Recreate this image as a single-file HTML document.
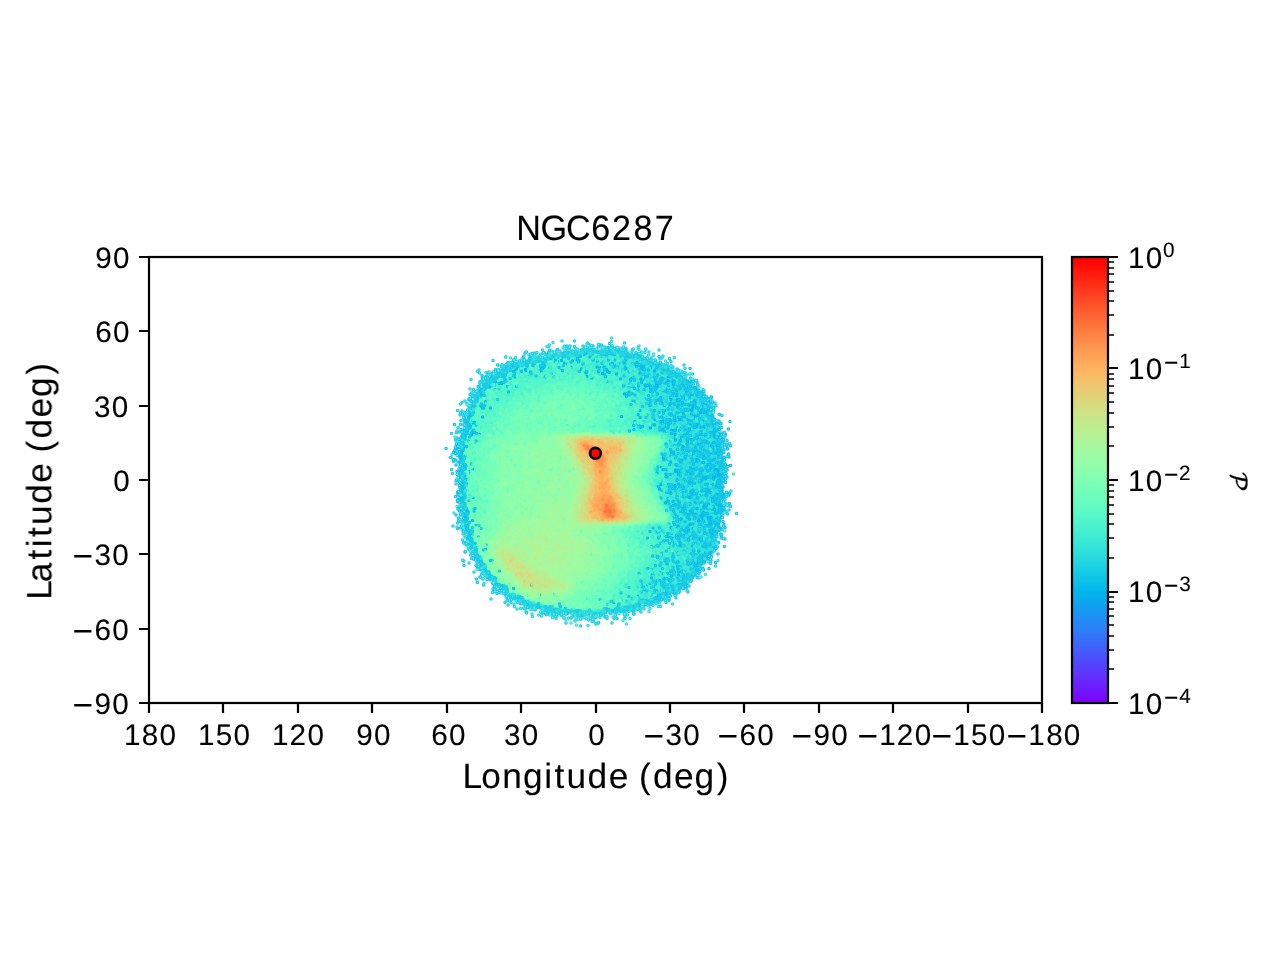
<!DOCTYPE html>
<html lang="en"><head><meta charset="utf-8"><title>NGC6287</title>
<style>
html,body{margin:0;padding:0;background:#fff;}
body{width:1280px;height:960px;overflow:hidden;}
svg{display:block;}
text{font-family:"Liberation Sans",sans-serif;fill:#000;text-rendering:geometricPrecision;stroke:#000;stroke-width:0.1px;}
</style></head><body>
<svg width="1280" height="960" viewBox="0 0 1280 960">
<rect width="1280" height="960" fill="#fff"/>
<defs><filter id="bl" x="-5%" y="-5%" width="110%" height="110%"><feGaussianBlur stdDeviation="1.3"/></filter></defs>
<g filter="url(#bl)"><g fill="none" stroke-width="3.6" transform="translate(0,1.5)">
<path stroke="#0dc2e8" d="M459 447h3M459 474h3M459 477h3M459 480h3M459 483h3M459 486h3M459 489h3M459 492h3M459 495h3M462 519h3M465 531h3M468 540h3M474 555h3M480 567h3M513 597h3M519 600h3M528 603h3M540 606h3M552 609h3M621 609h3M573 612h9M591 612h12"/>
<path stroke="#12c8e6" d="M546 354h3M531 357h3M645 357h3M654 360h3M666 366h3M672 369h3M498 372h3M486 381h3M687 381h3M483 384h3M690 384h3M480 387h3M693 387h3M696 390h3M699 393h3M474 396h3M702 396h3M471 402h3M468 411h3M711 414h3M711 417h3M465 420h3M714 426h3M714 429h3M462 432h3M717 438h3M459 450h3M459 453h3M459 456h3M459 459h3M459 462h3M459 465h3M459 468h3M459 471h3M720 513h3M462 516h3M717 525h3M717 528h3M714 534h3M714 537h3M471 546h3M477 561h3M702 561h3M483 570h3M696 570h3M693 573h3M690 576h3M687 579h3M684 582h3M681 585h3M504 591h3M672 591h3M663 597h3M654 600h6M645 603h6M633 606h6M555 609h3M618 609h3M582 612h9"/>
<path stroke="#18cde4" d="M564 351h9M624 351h6M549 354h3M636 354h3M534 357h3M642 357h3M522 360h3M651 360h3M516 363h3M657 363h6M510 366h3M504 369h3M669 369h3M675 372h3M495 375h3M678 375h3M681 378h3M684 381h3M687 384h3M477 393h3M705 402h3M471 405h3M708 408h3M708 411h3M711 420h3M465 423h3M714 432h3M462 435h3M717 441h3M717 444h3M717 447h3M717 450h3M717 453h3M720 468h3M720 471h3M720 474h3M720 477h3M720 480h3M720 483h3M720 486h3M720 489h3M720 492h3M720 495h3M720 498h3M720 501h3M720 504h3M720 507h3M720 510h3M462 513h3M717 519h3M717 522h3M465 528h3M714 531h3M468 537h3M711 543h3M708 549h3M474 552h3M705 555h3M699 564h3M696 567h3M486 573h3M489 576h3M492 579h3M495 582h3M498 585h3M678 585h3M501 588h3M675 588h3M510 594h3M666 594h3M660 597h3M522 600h3M531 603h3M642 603h3M543 606h3M630 606h3M558 609h3M615 609h3"/>
<path stroke="#1fd3e1" d="M573 351h6M621 351h3M552 354h3M633 354h3M537 357h3M639 357h3M525 360h3M648 360h3M663 366h3M501 372h3M672 372h3M492 378h3M690 387h3M693 390h3M696 393h3M699 396h3M474 399h3M702 399h3M705 405h3M468 414h3M708 414h3M711 423h3M711 426h3M714 435h3M462 438h3M714 438h3M717 456h3M717 459h3M717 462h3M717 465h3M717 468h3M462 510h3M717 513h3M717 516h3M714 528h3M711 540h3M708 546h3M705 552h3M702 558h3M693 570h3M690 573h3M687 576h3M684 579h3M681 582h3M669 591h3M516 597h3M651 600h3M639 603h3M627 606h3M612 609h3"/>
<path stroke="#24d8df" d="M579 351h6M618 351h3M555 354h3M630 354h3M540 357h3M645 360h3M654 363h3M660 366h3M507 369h3M666 369h3M675 375h3M678 378h3M489 381h3M681 381h3M684 384h3M480 390h3M702 402h3M705 408h3M708 417h3M465 426h3M711 429h3M714 441h3M714 444h3M714 447h3M714 450h3M717 471h3M717 474h3M717 477h3M717 480h3M717 483h3M717 486h3M717 504h3M462 507h3M717 507h3M717 510h3M465 525h3M714 525h3M711 537h3M471 543h3M477 558h3M699 561h3M480 564h3M672 588h3M663 594h3M657 597h3M648 600h3M534 603h3M546 606h3M561 609h3M609 609h3"/>
<path stroke="#2ddedc" d="M585 351h33M558 354h3M627 354h3M636 357h3M528 360h3M519 363h3M651 363h3M513 366h3M657 366h3M663 369h3M669 372h3M498 375h3M672 375h3M486 384h3M483 387h3M687 387h3M690 390h3M693 393h3M696 396h3M699 399h3M702 405h3M471 408h3M705 411h3M468 417h3M708 420h3M708 423h3M690 426h15M711 432h3M711 435h3M462 441h3M693 444h21M690 447h24M690 450h24M690 453h27M693 456h24M714 459h3M714 462h3M714 465h3M714 468h3M717 489h3M717 492h3M717 495h3M717 498h3M717 501h3M462 504h3M714 516h3M714 519h3M714 522h3M711 531h3M468 534h3M711 534h3M708 543h3M705 549h3M702 555h3M696 564h3M693 567h3M690 570h3M681 579h3M678 582h3M675 585h3M666 591h3M525 600h3M636 603h3M624 606h3M564 609h3"/>
<path stroke="#32e3da" d="M561 354h3M543 357h3M633 357h3M642 360h3M648 363h3M654 366h3M657 369h6M657 372h12M657 375h15M657 378h21M660 381h21M663 384h21M663 387h24M666 390h24M669 393h24M477 396h3M669 396h27M672 399h27M474 402h3M672 402h30M675 405h27M678 408h27M678 411h27M678 414h30M678 417h30M675 420h33M672 423h36M672 426h18M705 426h6M465 429h3M672 429h39M678 432h33M678 435h33M678 438h36M678 441h36M462 444h3M678 444h15M678 447h12M678 450h12M678 453h12M678 456h15M678 459h36M678 462h36M678 465h36M678 468h36M678 471h39M678 474h39M678 477h39M678 480h39M681 483h36M681 486h36M681 489h36M681 492h36M681 495h36M681 498h36M462 501h3M681 501h36M678 504h39M678 507h39M678 510h39M681 513h36M681 516h33M684 519h30M687 522h27M687 525h27M687 528h27M687 531h24M687 534h24M690 537h21M693 540h18M705 546h3M702 552h3M699 558h3M696 561h3M693 564h3M687 573h3M684 576h3M669 588h3M507 591h3M660 594h3M654 597h3M645 600h3M549 606h3M621 606h3M606 609h3"/>
<path stroke="#38e7d7" d="M564 354h3M624 354h3M546 357h3M630 357h3M531 360h3M630 360h12M630 363h18M633 366h21M633 369h24M504 372h3M636 372h21M639 375h18M495 378h3M642 378h15M645 381h15M648 384h15M651 387h12M651 390h15M654 393h15M657 396h12M660 399h12M660 402h12M663 405h12M663 408h15M666 411h12M666 414h12M666 417h12M468 420h3M663 420h12M660 423h12M660 426h12M663 429h9M669 432h9M672 435h6M672 438h6M672 441h6M672 444h6M672 447h6M672 450h6M672 453h6M672 456h6M672 459h6M672 462h6M672 465h6M672 468h6M672 471h6M672 474h6M672 477h6M672 480h6M672 483h9M672 486h9M672 489h9M672 492h9M672 495h9M462 498h3M672 498h9M672 501h9M672 504h6M672 507h6M672 510h6M675 513h6M675 516h6M678 519h6M465 522h3M678 522h9M675 525h12M675 528h12M675 531h12M675 534h12M678 537h12M678 540h15M681 543h27M681 546h24M474 549h3M681 549h24M678 552h24M678 555h24M678 558h21M675 561h21M675 564h18M483 567h3M672 567h21M672 570h18M669 573h18M669 576h15M669 579h12M666 582h12M666 585h9M666 588h3M663 591h3M657 594h3M651 597h3M642 600h3M537 603h3M633 603h3M567 609h3M603 609h3"/>
<path stroke="#3febd5" d="M567 354h3M618 354h6M549 357h3M612 357h18M606 360h24M522 363h3M609 363h21M516 366h3M615 366h18M510 369h3M618 369h15M624 372h12M627 375h12M630 378h12M633 381h12M636 384h12M639 387h12M642 390h9M645 393h9M648 396h9M651 399h9M651 402h9M654 405h9M654 408h9M471 411h3M657 411h9M657 414h9M654 417h12M651 420h12M648 423h12M648 426h12M654 429h9M465 432h3M666 432h3M669 435h3M669 438h3M669 441h3M669 444h3M462 447h3M666 447h6M666 450h6M666 453h6M666 456h6M666 459h6M666 462h6M666 465h6M666 468h6M666 471h6M666 474h6M666 477h6M666 480h6M666 483h6M666 486h6M666 489h6M666 492h6M462 495h3M666 495h6M666 498h6M666 501h6M669 504h3M669 507h3M672 513h3M675 519h3M675 522h3M669 525h6M666 528h9M666 531h9M666 534h9M669 537h9M672 540h6M672 543h9M672 546h9M672 549h9M669 552h9M669 555h9M666 558h12M666 561h9M666 564h9M663 567h9M660 570h12M660 573h9M657 576h12M657 579h12M654 582h12M651 585h15M651 588h15M648 591h15M513 594h3M648 594h9M519 597h3M648 597h3M618 606h3M570 609h3M600 609h3"/>
<path stroke="#44eed2" d="M570 354h3M600 354h18M552 357h3M597 357h15M534 360h3M591 360h15M591 363h18M594 366h21M600 369h18M609 372h15M615 375h12M621 378h9M492 381h3M624 381h9M627 384h9M630 387h9M633 390h9M480 393h3M636 393h9M639 396h9M642 399h9M645 402h6M474 405h3M645 405h9M648 408h6M648 411h9M648 414h9M645 417h9M642 420h9M639 423h9M639 426h9M645 429h9M663 432h3M666 444h3M462 450h3M663 450h3M663 453h3M663 456h3M663 459h3M663 462h3M663 465h3M663 468h3M663 471h3M663 474h3M462 477h3M663 477h3M663 480h3M663 483h3M663 486h3M663 489h3M462 492h3M663 492h3M663 495h3M663 498h3M666 504h3M669 510h3M672 516h3M465 519h3M672 522h3M660 525h9M660 528h6M468 531h3M657 531h9M657 534h9M660 537h9M471 540h3M663 540h9M663 543h9M663 546h9M663 549h9M663 552h6M477 555h3M663 555h6M660 558h6M660 561h6M657 564h9M654 567h9M486 570h3M654 570h6M651 573h9M648 576h9M648 579h9M645 582h9M642 585h9M504 588h3M639 588h12M639 591h9M636 594h12M636 597h12M639 600h3M630 603h3M552 606h3M573 609h3M597 609h3"/>
<path stroke="#4af2cf" d="M573 354h27M555 357h3M585 357h12M537 360h3M579 360h12M525 363h3M573 363h18M558 366h36M546 369h3M582 369h18M594 372h15M501 375h3M600 375h15M609 378h12M615 381h9M489 384h3M618 384h9M486 387h3M624 387h6M483 390h3M627 390h6M630 393h6M633 396h6M477 399h3M633 399h9M636 402h9M639 405h6M639 408h9M639 411h9M471 414h3M639 414h9M636 417h9M633 420h9M468 423h3M630 423h9M630 426h9M636 429h9M654 432h9M465 435h3M666 435h3M666 441h3M663 447h3M462 453h3M660 456h3M660 459h3M660 462h3M657 465h6M462 468h3M657 468h6M462 471h3M657 471h6M462 474h3M657 474h6M657 477h6M462 480h3M657 480h6M462 483h3M657 483h6M462 486h3M657 486h6M462 489h3M657 489h6M660 492h3M660 495h3M663 501h3M666 507h3M669 513h3M672 519h3M669 522h3M654 525h6M651 528h9M648 531h9M651 534h6M654 537h6M657 540h6M657 543h6M657 546h6M657 549h6M657 552h6M654 555h9M654 558h6M480 561h3M651 561h9M651 564h6M648 567h6M648 570h6M489 573h3M645 573h6M642 576h6M639 579h9M636 582h9M636 585h6M633 588h6M630 591h9M630 594h6M630 597h6M528 600h3M633 600h6M540 603h3M627 603h3M615 606h3M576 609h6M588 609h9"/>
<path stroke="#50f4cc" d="M558 357h27M540 360h6M549 360h30M528 363h3M537 363h36M519 366h3M531 366h27M513 369h3M525 369h21M549 369h33M507 372h3M519 372h75M516 375h45M582 375h18M498 378h3M513 378h30M594 378h15M507 381h24M603 381h12M504 384h18M609 384h9M501 387h15M615 387h9M501 390h9M618 390h9M498 393h6M621 393h9M624 396h9M627 399h6M627 402h9M630 405h9M630 408h9M630 411h9M630 414h9M627 417h9M624 420h9M618 423h12M621 426h9M627 429h9M648 432h6M666 438h3M663 444h3M660 453h3M462 456h3M462 459h3M657 459h3M462 462h3M657 462h3M462 465h3M654 468h3M654 471h3M654 474h3M654 477h3M654 480h3M654 483h3M654 486h3M657 492h3M660 498h3M663 504h3M666 510h3M465 516h3M666 522h3M648 525h6M645 528h6M642 531h6M642 534h9M645 537h9M648 540h9M651 543h6M474 546h3M651 546h6M651 549h6M651 552h6M648 555h6M648 558h6M645 561h6M645 564h6M642 567h6M642 570h6M639 573h6M492 576h3M636 576h6M633 579h6M630 582h6M501 585h3M630 585h6M627 588h6M624 591h6M624 594h6M624 597h6M624 600h9M624 603h3M582 609h6"/>
<path stroke="#56f7ca" d="M546 360h3M531 363h6M522 366h9M516 369h9M510 372h9M504 375h12M561 375h21M501 378h12M543 378h51M495 381h12M531 381h27M588 381h15M492 384h12M522 384h18M597 384h12M489 387h12M516 387h15M606 387h9M489 390h12M510 390h15M609 390h9M486 393h12M504 393h15M615 393h6M480 396h3M486 396h27M615 396h9M483 399h24M618 399h9M477 402h3M483 402h21M621 402h6M483 405h18M621 405h9M474 408h3M480 408h18M621 408h9M480 411h15M621 411h9M480 414h15M621 414h9M471 417h3M477 417h15M618 417h9M477 420h15M612 420h12M477 423h12M609 423h9M468 426h3M477 426h12M609 426h12M477 429h9M618 429h9M642 432h6M663 435h3M465 438h3M663 441h3M660 450h3M657 456h3M654 465h3M651 474h3M651 477h3M651 480h3M651 483h3M654 489h3M657 495h3M660 501h3M663 507h3M465 513h3M669 516h3M660 522h6M642 525h6M639 528h6M636 531h6M636 534h6M639 537h6M642 540h6M645 543h6M645 546h6M645 549h6M645 552h6M642 555h6M642 558h6M642 561h3M639 564h6M636 567h6M636 570h6M633 573h6M630 576h6M495 579h3M627 579h6M498 582h3M624 582h6M624 585h6M621 588h6M618 591h6M618 594h6M618 597h6M618 600h6M621 603h3M555 606h3M612 606h3"/>
<path stroke="#5df9c7" d="M558 381h30M540 384h21M585 384h12M531 387h12M594 387h12M486 390h3M525 390h9M603 390h6M483 393h3M519 393h9M606 393h9M483 396h3M513 396h9M609 396h6M480 399h3M507 399h9M612 399h6M480 402h3M504 402h9M612 402h9M477 405h6M501 405h6M615 405h6M477 408h3M498 408h6M615 408h6M474 411h6M495 411h6M615 411h6M474 414h6M495 414h6M615 414h6M474 417h3M492 417h6M612 417h6M471 420h6M492 420h6M606 420h6M471 423h6M489 423h6M603 423h6M471 426h6M489 426h6M603 426h6M468 429h9M486 429h6M612 429h6M468 432h21M636 432h6M474 435h9M660 447h3M657 453h3M654 462h3M651 471h3M648 480h3M651 486h3M654 492h3M657 498h3M465 510h3M666 513h3M669 519h3M657 522h3M639 525h3M468 528h3M633 528h6M630 531h6M630 534h6M471 537h3M633 537h6M636 540h6M639 543h6M639 546h6M639 549h6M639 552h6M639 555h3M639 558h3M636 561h6M636 564h3M633 567h3M630 570h6M627 573h6M627 576h3M624 579h3M621 582h3M618 585h6M615 588h6M612 591h6M612 594h6M522 597h3M612 597h6M531 600h3M612 600h6M543 603h3M612 603h9M609 606h3"/>
<path stroke="#62fbc4" d="M561 384h24M543 387h24M579 387h15M534 390h15M591 390h12M528 393h12M597 393h9M522 396h9M603 396h6M516 399h9M603 399h9M513 402h6M606 402h6M507 405h9M606 405h9M504 408h6M606 408h9M501 411h6M606 411h9M501 414h6M606 414h9M498 417h6M603 417h9M498 420h6M597 420h9M495 423h6M594 423h9M495 426h6M594 426h9M492 429h6M603 429h9M489 432h6M633 432h3M468 435h6M483 435h6M660 435h3M468 438h18M663 438h3M465 441h18M471 444h9M660 444h3M654 459h3M651 468h3M648 474h3M648 477h3M648 483h3M660 504h3M465 507h3M654 522h3M636 525h3M630 528h3M627 531h3M627 534h3M630 537h3M633 540h3M633 543h6M636 546h3M636 549h3M477 552h3M636 552h3M633 555h6M633 558h6M633 561h3M630 564h6M630 567h3M627 570h3M624 573h3M621 576h6M618 579h6M615 582h6M612 585h6M609 588h6M510 591h3M606 591h6M606 594h6M603 597h9M603 600h9M606 603h6M558 606h3M606 606h3"/>
<path stroke="#68fcc1" d="M567 387h12M549 390h42M540 393h15M585 393h12M531 396h12M591 396h12M525 399h12M594 399h9M519 402h12M597 402h9M516 405h9M597 405h9M510 408h9M600 408h6M507 411h9M600 411h6M507 414h6M597 414h9M504 417h6M594 417h9M504 420h6M588 420h9M501 423h6M585 423h9M501 426h6M585 426h9M498 429h6M594 429h9M495 432h3M630 432h3M489 435h6M657 435h3M486 438h6M483 441h6M465 444h6M480 444h6M465 447h21M465 450h18M657 450h3M465 453h18M465 456h18M654 456h3M465 459h18M465 462h18M465 465h18M651 465h3M465 468h18M465 471h15M648 471h3M465 474h15M465 477h15M465 480h15M465 483h15M465 486h15M465 489h15M651 489h3M465 492h15M465 495h15M654 495h3M465 498h15M465 501h15M657 501h3M465 504h15M468 507h12M468 510h12M663 510h3M468 513h12M648 522h6M468 525h3M630 525h6M624 528h6M621 531h6M621 534h6M624 537h6M627 540h6M630 543h3M630 546h6M630 549h6M630 552h6M630 555h3M630 558h3M627 561h6M483 564h3M627 564h3M624 567h6M621 570h6M618 573h6M618 576h3M615 579h3M612 582h3M606 585h6M603 588h6M600 591h6M516 594h3M597 594h9M594 597h9M594 600h9M597 603h9M561 606h3M597 606h9"/>
<path stroke="#6efebe" d="M555 393h30M543 396h48M537 399h15M582 399h12M531 402h12M585 402h12M525 405h12M588 405h9M519 408h12M588 408h12M516 411h9M588 411h12M513 414h9M588 414h9M510 417h9M582 417h12M510 420h9M573 420h15M507 423h12M561 423h24M507 426h9M567 426h18M504 429h6M582 429h12M498 432h6M624 432h6M495 435h6M651 435h6M492 438h6M489 441h6M660 441h3M486 444h6M486 447h3M657 447h3M483 450h6M483 453h6M483 456h6M483 459h6M483 462h3M651 462h3M483 465h3M483 468h3M648 468h3M480 471h6M480 474h6M480 477h6M645 477h3M480 480h6M645 480h3M480 483h6M480 486h6M648 486h3M480 489h6M480 492h6M651 492h3M480 495h6M480 498h6M480 501h6M480 504h6M480 507h6M660 507h3M480 510h6M480 513h6M468 516h18M666 516h3M468 519h15M666 519h3M468 522h3M474 522h3M645 522h3M627 525h3M621 528h3M618 531h3M471 534h3M618 534h3M618 537h6M621 540h6M474 543h3M624 543h6M624 546h6M624 549h6M624 552h6M624 555h6M480 558h3M624 558h6M624 561h3M621 564h6M618 567h6M618 570h3M615 573h3M612 576h6M609 579h6M606 582h6M600 585h6M597 588h6M591 591h9M588 594h9M585 597h9M534 600h3M582 600h12M546 603h3M585 603h12M564 606h3M585 606h12"/>
<path stroke="#74feba" d="M552 399h30M543 402h42M537 405h51M531 408h57M525 411h63M522 414h66M519 417h63M519 420h54M519 423h42M516 426h51M510 429h72M504 432h9M621 432h3M501 435h6M648 435h3M498 438h3M660 438h3M495 441h3M492 444h6M489 447h6M489 450h6M489 453h6M654 453h3M489 456h3M489 459h3M651 459h3M486 462h6M486 465h6M648 465h3M486 468h6M486 471h6M645 471h3M486 474h6M645 474h3M486 477h6M486 480h6M486 483h6M645 483h3M486 486h6M486 489h6M648 489h3M486 492h6M486 495h6M651 495h3M486 498h6M654 498h3M486 501h6M486 504h6M657 504h3M486 507h6M486 510h6M486 513h6M663 513h3M486 516h3M483 519h6M663 519h3M471 522h3M477 522h9M642 522h3M471 525h15M624 525h3M471 528h12M618 528h3M612 531h6M612 534h6M615 537h3M618 540h3M618 543h6M621 546h3M621 549h3M618 552h6M618 555h6M618 558h6M618 561h6M615 564h6M486 567h3M615 567h3M612 570h6M609 573h6M606 576h6M603 579h6M600 582h6M594 585h6M507 588h3M588 588h9M582 591h9M579 594h9M525 597h3M576 597h9M570 600h12M549 603h3M561 603h24M567 606h18"/>
<path stroke="#7affb7" d="M513 432h36M615 432h6M507 435h15M645 435h3M501 438h9M498 441h6M498 444h3M657 444h3M495 447h6M495 450h3M654 450h3M495 453h3M492 456h6M651 456h3M492 459h6M492 462h6M648 462h3M492 465h6M492 468h6M645 468h3M492 471h6M492 474h3M642 474h3M492 477h3M642 477h3M492 480h3M642 480h3M492 483h3M642 483h3M492 486h3M645 486h3M492 489h3M492 492h3M648 492h3M492 495h3M492 498h3M492 501h3M654 501h3M492 504h3M492 507h3M492 510h3M660 510h3M492 513h3M489 516h6M489 519h6M657 519h6M486 522h6M639 522h3M486 525h6M618 525h6M483 528h6M612 528h6M471 531h18M609 531h3M474 534h12M606 534h6M474 537h12M609 537h6M474 540h9M612 540h6M477 543h3M615 543h3M615 546h6M477 549h3M615 549h6M615 552h3M615 555h3M612 558h6M612 561h6M612 564h3M609 567h6M606 570h6M603 573h6M600 576h6M597 579h6M591 582h9M585 585h9M579 588h9M576 591h6M573 594h6M567 597h9M537 600h3M555 600h15M552 603h9"/>
<path stroke="#82ffb3" d="M549 432h12M603 432h12M522 435h21M639 435h6M510 438h27M657 438h3M504 441h15M657 441h3M501 444h9M654 444h3M501 447h6M654 447h3M498 450h9M651 450h3M498 453h6M651 453h3M498 456h6M648 456h3M498 459h6M648 459h3M498 462h6M645 462h3M498 465h6M645 465h3M498 468h6M498 471h6M642 471h3M495 474h9M495 477h9M639 477h3M495 480h6M639 480h3M495 483h6M495 486h6M642 486h3M495 489h6M645 489h3M495 492h6M495 495h6M648 495h3M495 498h6M651 498h3M495 501h6M495 504h6M654 504h3M495 507h6M657 507h3M495 510h6M495 513h6M660 513h3M495 516h6M663 516h3M495 519h3M654 519h3M492 522h6M492 525h3M615 525h3M489 528h6M606 528h6M489 531h3M603 531h6M486 534h6M603 534h3M486 537h3M606 537h3M483 540h6M606 540h6M480 543h6M609 543h6M477 546h9M609 546h6M480 549h6M609 549h6M480 552h6M609 552h6M480 555h6M609 555h6M609 558h3M483 561h3M606 561h6M606 564h6M603 567h6M489 570h3M600 570h6M492 573h3M597 573h6M594 576h6M588 579h9M582 582h9M504 585h3M579 585h6M576 588h3M513 591h3M573 591h3M519 594h3M570 594h3M528 597h3M555 597h12M540 600h15"/>
<path stroke="#88ffaf" d="M561 432h12M588 432h15M543 435h9M636 435h3M537 438h9M651 438h6M519 441h30M651 441h6M510 444h27M651 444h3M507 447h24M648 447h6M507 450h21M648 450h3M504 453h24M645 453h6M504 456h21M645 456h3M504 459h21M645 459h3M504 462h21M642 462h3M504 465h21M642 465h3M504 468h21M639 468h6M504 471h18M639 471h3M504 474h18M636 474h6M504 477h18M636 477h3M501 480h21M636 480h3M501 483h18M636 483h6M501 486h18M639 486h3M501 489h15M642 489h3M501 492h15M642 492h6M501 495h12M645 495h3M501 498h9M648 498h3M501 501h9M648 501h6M501 504h9M651 504h3M501 507h6M651 507h6M501 510h6M654 510h6M501 513h6M657 513h3M501 516h3M657 516h6M498 519h6M651 519h3M498 522h3M636 522h3M495 525h6M612 525h3M495 528h3M600 528h6M492 531h6M597 531h6M492 534h3M597 534h6M489 537h3M600 537h6M489 540h3M603 540h3M486 543h3M603 543h6M486 546h3M606 546h3M486 549h3M603 549h6M486 552h3M603 552h6M486 555h3M603 555h6M483 558h6M603 558h6M486 561h6M600 561h6M486 564h6M600 564h6M489 567h3M597 567h6M492 570h3M594 570h6M591 573h6M495 576h3M585 576h9M498 579h3M579 579h9M501 582h3M579 582h3M507 585h3M576 585h3M510 588h3M516 591h6M522 594h6M564 594h6M531 597h24"/>
<path stroke="#8efeac" d="M573 432h15M552 435h3M546 438h6M648 438h3M549 441h3M648 441h3M537 444h18M645 444h6M531 447h24M645 447h3M528 450h30M645 450h3M528 453h30M642 453h3M525 456h33M642 456h3M525 459h30M639 459h6M525 462h30M639 462h3M525 465h27M639 465h3M525 468h24M636 468h3M522 471h27M636 471h3M522 474h24M633 474h3M522 477h24M633 477h3M522 480h21M633 480h3M519 483h24M633 483h3M519 486h21M636 486h3M516 489h21M639 489h3M516 492h21M639 492h3M513 495h21M642 495h3M510 498h21M642 498h6M510 501h18M645 501h3M510 504h18M648 504h3M507 507h18M648 507h3M507 510h15M651 510h3M507 513h9M651 513h6M504 516h9M654 516h3M504 519h6M648 519h3M501 522h6M633 522h3M501 525h3M600 525h12M498 528h6M591 528h9M498 531h3M591 531h6M495 534h3M591 534h6M492 537h3M594 537h6M597 540h6M489 543h3M600 543h3M489 546h3M600 546h6M489 549h3M600 549h3M489 552h3M597 552h6M489 555h3M597 555h6M489 558h3M597 558h6M492 561h3M594 561h6M492 564h3M594 564h6M492 567h6M591 567h6M495 570h3M588 570h6M495 573h6M582 573h9M498 576h6M579 576h6M501 579h6M576 579h3M504 582h6M576 582h3M510 585h6M573 585h3M513 588h6M573 588h3M522 591h3M570 591h3M528 594h6M552 594h12"/>
<path stroke="#94fda8" d="M555 435h6M633 435h3M552 438h3M645 438h3M552 441h6M645 441h3M555 444h3M642 444h3M555 447h6M642 447h3M558 450h3M642 450h3M558 453h6M639 453h3M558 456h6M639 456h3M555 459h12M636 459h3M555 462h12M636 462h3M552 465h18M636 465h3M549 468h21M633 468h3M549 471h24M633 471h3M546 474h27M630 474h3M546 477h30M630 477h3M543 480h33M630 480h3M543 483h33M540 486h36M633 486h3M537 489h36M636 489h3M537 492h36M636 492h3M534 495h24M639 495h3M531 498h21M639 498h3M528 501h21M642 501h3M528 504h15M645 504h3M525 507h15M645 507h3M522 510h15M648 510h3M516 513h18M648 513h3M513 516h15M651 516h3M510 519h12M645 519h3M507 522h6M630 522h3M504 525h6M591 525h9M504 528h6M585 528h6M501 531h6M582 531h9M498 534h6M585 534h6M495 537h3M588 537h6M492 540h3M591 540h6M492 543h3M594 543h6M594 546h6M594 549h6M591 552h6M492 555h3M591 555h6M492 558h3M588 558h9M588 561h6M495 564h3M585 564h9M498 567h3M582 567h9M498 570h3M579 570h9M501 573h3M573 573h9M504 576h3M573 576h6M507 579h3M573 579h3M510 582h3M573 582h3M516 585h3M519 588h3M570 588h3M525 591h3M567 591h3M534 594h6M543 594h9"/>
<path stroke="#9bfba5" d="M630 435h3M555 438h3M639 438h6M558 441h3M639 441h6M558 444h3M639 444h3M639 447h3M561 450h3M639 450h3M636 453h3M564 456h3M636 456h3M633 459h3M567 462h3M633 462h3M570 465h3M633 465h3M570 468h3M630 468h3M573 471h3M630 471h3M573 474h3M576 477h3M627 477h3M576 480h3M627 480h3M630 483h3M630 486h3M573 489h3M633 489h3M573 492h3M633 492h3M558 495h15M636 495h3M552 498h21M636 498h3M549 501h24M639 501h3M543 504h27M639 504h6M540 507h30M642 507h3M537 510h33M645 510h3M534 513h18M645 513h3M528 516h15M648 516h3M522 519h15M642 519h3M513 522h18M624 522h6M510 525h15M579 525h12M510 528h9M573 528h12M507 531h9M573 531h9M504 534h9M573 534h12M498 537h9M579 537h9M495 540h3M585 540h6M585 543h9M492 546h3M585 546h9M492 549h3M585 549h9M492 552h3M585 552h6M582 555h9M582 558h6M495 561h3M579 561h9M498 564h3M576 564h9M570 567h12M501 570h3M567 570h12M504 573h3M567 573h6M507 576h3M567 576h6M510 579h3M570 579h3M513 582h3M570 582h3M570 585h3M522 588h3M567 588h3M528 591h3M561 591h6M540 594h3"/>
<path stroke="#a0faa1" d="M561 435h3M627 435h3M558 438h3M636 438h3M636 441h3M561 444h3M636 444h3M561 447h3M636 447h3M636 450h3M564 453h3M633 453h3M633 456h3M567 459h3M570 462h3M630 462h3M630 465h3M573 468h3M627 471h3M576 474h3M627 474h3M576 483h3M627 483h3M576 486h3M630 489h3M573 495h3M633 495h3M636 501h3M570 504h3M570 507h3M639 507h3M642 510h3M552 513h18M642 513h3M543 516h27M645 516h3M537 519h30M639 519h3M531 522h39M621 522h3M525 525h54M519 528h54M516 531h21M552 531h21M513 534h12M558 534h15M507 537h12M567 537h12M498 540h18M573 540h12M495 543h3M576 543h9M579 546h6M576 549h9M576 552h9M495 555h3M573 555h9M495 558h3M570 558h12M567 561h12M561 564h15M501 567h3M555 567h15M504 570h3M555 570h12M507 573h3M561 573h6M510 576h3M564 576h3M513 579h3M567 579h3M516 582h3M567 582h3M519 585h3M567 585h3M531 591h3M546 591h15"/>
<path stroke="#a6f89d" d="M564 435h3M561 441h3M564 447h3M633 447h3M564 450h3M633 450h3M567 456h3M630 456h3M570 459h3M630 459h3M573 465h3M627 465h3M627 468h3M576 471h3M624 474h3M579 477h3M624 477h3M579 480h3M624 480h3M579 483h3M627 486h3M576 489h3M576 492h3M630 492h3M573 498h3M633 498h3M573 501h3M636 504h3M636 507h3M570 510h3M639 510h3M639 513h3M642 516h3M567 519h3M570 522h6M618 522h3M537 531h15M525 534h33M519 537h48M516 540h12M555 540h18M498 543h3M504 543h21M561 543h15M495 546h3M516 546h6M564 546h15M495 549h3M564 549h12M495 552h3M561 552h15M558 555h15M555 558h15M498 561h3M549 561h18M501 564h3M543 564h18M546 567h9M549 570h6M552 573h9M561 576h3M564 579h3M525 588h3M564 588h3M534 591h3M543 591h3"/>
<path stroke="#acf59a" d="M567 435h3M624 435h3M561 438h3M633 438h3M633 441h3M564 444h3M633 444h3M567 453h3M630 453h3M627 459h3M573 462h3M627 462h3M576 468h3M624 471h3M579 474h3M624 483h3M579 486h3M627 489h3M576 495h3M630 495h3M576 498h3M633 501h3M573 504h3M633 504h3M573 507h3M636 510h3M570 513h3M570 516h3M639 516h3M570 519h3M636 519h3M576 522h6M615 522h3M528 540h27M501 543h3M525 543h36M498 546h3M507 546h9M522 546h42M513 549h51M519 552h42M522 555h36M498 558h3M525 558h30M531 561h18M534 564h9M504 567h3M537 567h9M507 570h3M543 570h6M510 573h3M549 573h3M513 576h3M555 576h6M516 579h3M561 579h3M519 582h3M564 582h3M522 585h3M564 585h3M546 588h18M537 591h6"/>
<path stroke="#b2f396" d="M570 435h3M621 435h3M564 438h3M564 441h3M630 444h3M567 447h3M630 447h3M567 450h3M630 450h3M570 456h3M627 456h3M573 459h3M576 465h3M624 465h3M624 468h3M579 471h3M582 477h3M621 477h3M582 480h3M621 480h3M624 486h3M579 489h3M579 492h3M627 492h3M630 498h3M576 501h3M630 501h3M633 507h3M573 510h3M573 513h3M636 513h3M573 519h3M582 522h33M501 546h6M498 549h3M510 549h3M498 552h3M513 552h6M498 555h3M519 555h3M522 558h3M501 561h3M525 561h6M504 564h3M528 564h6M534 567h3M537 570h6M543 573h6M549 576h6M558 579h3M561 582h3M561 585h3M528 588h3M543 588h3"/>
<path stroke="#b9ef92" d="M573 435h3M615 435h6M630 438h3M630 441h3M567 444h3M570 453h3M627 453h3M576 462h3M624 462h3M579 468h3M621 471h3M582 474h3M621 474h3M582 483h3M621 483h3M582 486h3M624 489h3M579 495h3M627 495h3M579 498h3M576 504h3M630 504h3M576 507h3M633 510h3M573 516h3M636 516h3M633 519h3M501 549h9M510 552h3M516 555h3M501 558h3M519 558h3M522 561h3M525 564h3M507 567h3M531 567h3M510 570h3M534 570h3M513 573h3M540 573h3M516 576h3M546 576h3M519 579h3M552 579h6M522 582h3M558 582h3M525 585h3M546 585h15M531 588h3M540 588h3"/>
<path stroke="#beec8e" d="M576 435h3M591 435h24M567 438h3M567 441h3M627 444h3M627 447h3M570 450h3M627 450h3M573 456h3M624 456h3M624 459h3M579 465h3M621 465h3M621 468h3M582 471h3M618 477h3M585 480h3M618 480h3M621 486h3M582 489h3M582 492h3M624 492h3M627 498h3M579 501h3M630 507h3M576 510h3M576 513h3M633 513h3M576 519h3M630 519h3M501 552h9M501 555h3M513 555h3M516 558h3M504 561h3M519 561h3M507 564h3M522 564h3M510 567h3M525 567h6M513 570h3M531 570h3M516 573h3M534 573h6M540 576h6M546 579h6M546 582h12M540 585h6M534 588h6"/>
<path stroke="#c4e88a" d="M579 435h12M627 438h3M627 441h3M570 444h3M570 447h3M573 453h3M624 453h3M576 459h3M621 459h3M579 462h3M621 462h3M582 468h3M618 471h3M618 474h3M585 477h3M585 483h3M618 483h3M585 486h3M621 489h3M582 495h3M624 495h3M582 498h3M627 501h3M579 504h3M627 504h3M579 507h3M579 510h3M630 510h3M576 516h3M633 516h3M579 519h3M504 555h9M504 558h3M513 558h3M507 561h3M516 561h3M519 564h3M522 567h3M528 570h3M531 573h3M519 576h3M537 576h3M522 579h3M540 579h6M525 582h3M540 582h6M528 585h3M537 585h3"/>
<path stroke="#cbe486" d="M570 438h3M624 438h3M570 441h3M624 441h3M624 444h3M624 450h3M576 456h3M621 456h3M579 459h3M582 465h3M618 465h3M618 468h3M585 471h3M585 474h3M615 477h3M615 480h3M618 486h3M585 489h3M585 492h3M621 492h3M624 498h3M582 501h3M624 501h3M582 504h3M627 507h3M579 513h3M630 513h3M579 516h3M582 519h3M627 519h3M507 558h6M510 561h6M510 564h9M513 567h9M516 570h12M519 573h12M522 576h15M525 579h3M534 579h6M528 582h3M534 582h6M531 585h6"/>
<path stroke="#d0e082" d="M573 444h3M573 447h3M624 447h3M573 450h3M618 459h3M582 462h3M618 462h3M585 468h3M615 468h3M615 471h3M615 474h3M588 477h3M588 480h3M588 483h3M615 483h3M588 486h3M618 489h3M585 495h3M621 495h3M624 504h3M582 507h3M582 510h3M627 510h3M630 516h3M585 519h3M624 519h3M528 579h6M531 582h3"/>
<path stroke="#d9da7d" d="M573 438h3M621 438h3M573 441h3M621 441h3M621 444h3M576 453h3M621 453h3M579 456h3M618 456h3M582 459h3M615 462h3M585 465h3M615 465h3M588 474h3M612 477h3M612 480h3M615 486h3M588 489h3M618 492h3M585 498h3M621 498h3M585 501h3M624 507h3M582 513h3M627 513h3M582 516h3M627 516h3M588 519h6M621 519h3"/>
<path stroke="#ded579" d="M618 438h3M621 447h3M576 450h3M621 450h3M615 459h3M585 462h3M612 465h3M612 468h3M588 471h3M612 471h3M612 474h3M591 480h3M612 483h3M615 489h3M588 492h3M618 495h3M621 501h3M585 504h3M585 507h3M585 510h3M624 510h3M585 513h3M585 516h3M594 519h6M618 519h3"/>
<path stroke="#e4cf74" d="M576 438h3M594 438h24M615 441h6M618 444h3M576 447h3M579 453h3M618 453h3M582 456h3M615 456h3M585 459h3M612 459h3M612 462h3M588 465h3M588 468h3M591 477h3M591 483h3M591 486h3M612 486h3M591 489h3M615 492h3M588 495h3M588 498h3M618 498h3M621 504h3M588 513h3M624 513h3M588 516h3M624 516h3M600 519h3M615 519h3"/>
<path stroke="#ebca70" d="M588 438h6M576 441h3M594 441h21M576 444h3M615 444h3M618 447h3M579 450h3M618 450h3M582 453h3M615 453h3M585 456h3M612 456h3M609 459h3M588 462h3M609 462h3M609 465h3M609 468h3M591 471h3M609 471h3M591 474h3M609 474h3M609 477h3M609 480h3M612 489h3M591 492h3M615 495h3M588 501h3M618 501h3M588 504h3M588 507h3M621 507h3M588 510h3M621 510h3M591 516h3M603 519h3M612 519h3"/>
<path stroke="#f0c46c" d="M579 438h9M591 441h3M597 444h18M615 447h3M615 450h3M612 453h3M609 456h3M588 459h3M591 468h3M594 477h3M594 480h3M594 483h3M609 483h3M594 486h3M609 486h3M594 489h3M612 492h3M591 495h3M615 498h3M618 504h3M591 510h3M591 513h3M621 513h3M594 516h3M621 516h3M606 519h6"/>
<path stroke="#f6be68" d="M594 444h3M579 447h3M603 447h12M582 450h3M585 453h3M606 453h6M588 456h3M606 456h3M606 459h3M591 462h3M606 462h3M591 465h3M606 465h3M606 468h3M606 471h3M594 474h3M606 474h3M606 477h3M606 480h3M609 489h3M594 492h3M612 495h3M591 498h3M591 507h3M618 507h3M594 513h3M597 516h3M618 516h3"/>
<path stroke="#fcb763" d="M579 441h3M588 441h3M597 447h6M603 450h12M588 453h3M591 459h3M594 468h3M594 471h3M597 477h3M597 480h3M597 483h3M606 483h3M597 486h3M606 486h3M597 489h3M609 492h3M594 495h3M591 501h3M615 501h3M591 504h3M594 510h3M618 510h3M597 513h3M618 513h3"/>
<path stroke="#ffb05f" d="M579 444h3M591 444h3M594 447h3M585 450h3M603 453h3M591 456h3M594 465h3M597 471h3M603 471h3M597 474h3M603 474h3M600 477h6M600 480h6M600 483h6M600 486h6M600 489h9M597 492h3M606 492h3M597 495h3M609 495h3M594 498h3M612 498h3M615 504h3M594 507h3M597 510h3M600 516h3M615 516h3"/>
<path stroke="#ffa95b" d="M582 441h6M594 450h9M591 453h3M603 456h3M594 459h3M594 462h3M597 468h3M603 468h3M600 471h3M600 474h3M600 492h6M600 495h9M597 498h3M594 501h3M612 501h3M594 504h3M597 507h3M615 507h3"/>
<path stroke="#ffa256" d="M582 447h3M591 447h3M588 450h6M594 453h3M594 456h3M603 459h3M603 462h3M597 465h3M603 465h3M600 468h3M600 498h12M597 501h6M597 504h3M600 510h3M615 510h3M600 513h3M615 513h3M603 516h3M612 516h3"/>
<path stroke="#ff9b52" d="M588 444h3M600 453h3M597 462h3M600 465h3M603 501h3M609 501h3M600 504h3M612 504h3M600 507h3M606 516h6"/>
<path stroke="#ff934d" d="M582 444h3M588 447h3M597 453h3M597 459h3M600 462h3M606 501h3M603 504h3M612 507h3M612 510h3M603 513h3M612 513h3"/>
<path stroke="#ff8c49" d="M585 444h3M585 447h3M597 456h6M600 459h3M606 504h6M603 507h3M603 510h3"/>
<path stroke="#ff8444" d="M606 507h6M606 510h6M606 513h6"/>
</g></g>
<g fill="none" stroke-linecap="round" stroke-width="6.6" transform="scale(0.5)" opacity="0.85">
<path stroke="#0dc2e8" d="M1351 748h0m83 146h0m0-3h0m-75 281h0"/>
<path stroke="#12c8e6" d="M1225 704h0m107 33h0m50 87h0m7 25h0m49 78h0m-14 9h0m-29 54h0m28 37h0m-19 9h0m32 4h0m-10 41h0m-55 67h0m-17 27h0m-37 22h0"/>
<path stroke="#18cde4" d="M1225 703h0m88 26h0m32 56h0m51 6h0m-62 18h0m5 31h0m51 16h0m7 72h0m36 16h0m-138 252h0m-9 11h0"/>
<path stroke="#1fd3e1" d="M1236 704h0m-104 5h0m19-1h0m114 13h0m45 20h0m30 4h0m-354 16h0m346 40h0m24-4h0m7-4h0m37 7h0m1-6h0m3 14h0m-52 37h0m58 2h0m8 6h0m-50 17h0m43 20h0m15 0h0m8 9h0m-32 4h0m7-2h0m-30 22h0m44-6h0m5 5h0m-60 4h0m66 1h0m-510 15h0m462-6h0m13 5h0m-41 15h0m19-1h0m37 7h0m25-1h0m-15 81h0m-29 9h0m25 0h0m11-3h0m-497 8h0m412 55h0m51 4h0m-45 1h0m17 46h0m-233 59h0"/>
<path stroke="#24d8df" d="M1088 717h0m165-6h0m22 4h0m38 14h0m-17 16h0m51 7h0m4 3h0m8 6h0m7 5h0m-59 6h0m37-2h0m7 30h0m32-1h0m-70 11h0m46 4h0m4-10h0m3 4h0m23 3h0m1-7h0m24 13h0m2 9h0m-82 9h0m22 2h0m8 2h0m42-2h0m-94 5h0m51 9h0m7-3h0m47 3h0m-28 5h0m10 5h0m-38 9h0m22-5h0m34-1h0m-59 13h0m13 10h0m11 0h0m6-7h0m16 0h0m-33 17h0m29-2h0m18 2h0m9-4h0m-54 12h0m13-3h0m24 1h0m-40 13h0m6-2h0m24-2h0m-28 21h0m6 0h0m21-5h0m7-3h0m9-1h0m12 5h0m4 2h0m-43 14h0m31-2h0m9-4h0m7-2h0m1 8h0m-69 4h0m6 10h0m25-7h0m11-3h0m-17 17h0m-34 13h0m7-5h0m29 2h0m5-2h0m17 1h0m7 4h0m-78 13h0m39-5h0m4 1h0m19 7h0m0 0h0m18-4h0m-58 13h0m14-2h0m16-2h0m31 3h0m12-1h0m-82 17h0m26-2h0m26-1h0m4 3h0m-40 9h0m3 1h0m18-8h0m41 21h0m-45 12h0m21 1h0m17-11h0m-79 16h0m37 4h0m23 15h0m-57 15h0m-13 45h0m-369 1h0m384 0h0m34 3h0m-60 15h0m16 4h0m17-8h0m4 8h0m-21 17h0m-66 18h0m0 12h0"/>
<path stroke="#2ddedc" d="M1257 713h0m-201 12h0m181 6h0m25-10h0m8 6h0m34 1h0m1 0h0m-14 7h0m27 6h0m4-2h0m1 4h0m1 11h0m20-6h0m-39 13h0m4 4h0m13-3h0m36 3h0m-388 14h0m356-2h0m42 0h0m-42 13h0m19-10h0m22 11h0m-11 8h0m19-3h0m28 0h0m-76 14h0m51 5h0m21-4h0m1 1h0m-15 9h0m4 1h0m17 4h0m8 1h0m-60 4h0m3 3h0m6-1h0m12-2h0m21 8h0m-47 7h0m13 2h0m38-2h0m-47 15h0m10-2h0m37-1h0m-61 26h0m8-6h0m28 6h0m12-5h0m8 6h0m4-7h0m1 6h0m20-4h0m-51 18h0m8-1h0m54-3h0m-63 17h0m2-6h0m7 3h0m16-8h0m42 9h0m1-5h0m-80 12h0m17 4h0m1-2h0m26 4h0m37-1h0m-57 7h0m4 6h0m7-3h0m3 9h0m7 7h0m27-4h0m-503 9h0m437-3h0m10 2h0m12-3h0m12 1h0m26-1h0m-48 22h0m0-6h0m14 1h0m15-5h0m4 14h0m17 5h0m-498 11h0m431-1h0m7 5h0m7 1h0m3-11h0m16 5h0m21 2h0m25-2h0m-63 11h0m3-4h0m14 9h0m25 2h0m0-1h0m-487 3h0m418 4h0m9 1h0m7 1h0m59 4h0m3-2h0m-71 6h0m43 5h0m13-4h0m2 2h0m8-6h0m6 10h0m-49 10h0m27-7h0m5 7h0m1-1h0m-32 12h0m-60 13h0m39-5h0m2 0h0m17-2h0m8 1h0m11 6h0m15 1h0m2 0h0m17-7h0m-63 10h0m1 6h0m35 5h0m-24 10h0m28-6h0m0 5h0m17-7h0m-38 13h0m10 2h0m7 0h0m9 4h0m2 1h0m-57 9h0m22 11h0m5 3h0m2 0h0m-17 5h0m-394 15h0m356-4h0m41 1h0m-112 17h0m52 8h0m32-2h0m12 11h0m-46 23h0m-183 21h0m116-2h0m19-5h0"/>
<path stroke="#32e3da" d="M1148 707h0m-44 9h0m35-7h0m48 0h0m4 3h0m47 2h0m26 0h0m-196 6h0m149 1h0m38 3h0m7 2h0m6-1h0m18 4h0m3-5h0m-18 16h0m11 0h0m42-3h0m2 1h0m0 2h0m-321 11h0m245 0h0m60 0h0m24-3h0m-94 9h0m12 1h0m3 4h0m61 5h0m12-7h0m10-1h0m-48 16h0m52-1h0m1-3h0m4 5h0m-10 11h0m21-1h0m-48 14h0m8 3h0m21-9h0m6 2h0m21 4h0m22 0h0m-438 8h0m0 5h0m364-3h0m44-3h0m25-2h0m1 1h0m6 3h0m13-2h0m5 4h0m-115 13h0m41-3h0m15-4h0m1 8h0m17-5h0m14 0h0m21 0h0m-460 9h0m396 1h0m10 5h0m-48 13h0m32 2h0m34-9h0m14 9h0m3-8h0m28 9h0m8-10h0m-61 22h0m25-9h0m8 1h0m6 5h0m1 1h0m18-8h0m-50 12h0m29 7h0m5-1h0m-62 11h0m16-5h0m6-1h0m54 2h0m9 6h0m-67 13h0m8-4h0m28-5h0m28 5h0m-53 7h0m51 0h0m3 7h0m4-4h0m8 8h0m4-2h0m-80 6h0m13 6h0m11 0h0m8-2h0m4-7h0m-9 15h0m16 1h0m10 0h0m20 5h0m-504 9h0m419 2h0m14-4h0m4 7h0m30-5h0m28-6h0m0 7h0m-67 10h0m26-3h0m31 3h0m13-1h0m9 2h0m-55 15h0m38-6h0m-67 19h0m24-1h0m5-3h0m0 1h0m0 4h0m4-2h0m7-3h0m9-6h0m9 4h0m5-4h0m10 8h0m-26 5h0m14 10h0m-32 4h0m1 5h0m20-3h0m19 4h0m19 1h0m-100 6h0m1 2h0m25-3h0m5-3h0m4 6h0m15 5h0m16-4h0m17 3h0m-37 12h0m6-8h0m39 8h0m8-2h0m-84 14h0m17 1h0m10-1h0m33-10h0m12 11h0m-77 1h0m26 6h0m11-1h0m16 3h0m6-6h0m-65 13h0m36 7h0m13-8h0m18 5h0m3-7h0m20 0h0m-85 21h0m-26 10h0m100-7h0m-83 16h0m5 5h0m44-5h0m-3 10h0m-72 14h0m11 6h0m13-4h0m27 9h0m3 3h0m21 4h0m-39 11h0m18-2h0m-54 13h0m36-6h0m21 2h0m-58 13h0m44-5h0m-44 19h0m-244 22h0m35 10h0m170-3h0"/>
<path stroke="#38e7d7" d="M1112 716h0m7-1h0m130-3h0m-204 17h0m24-6h0m6 0h0m13 5h0m156-6h0m26 3h0m19 0h0m3 1h0m-263 9h0m1 1h0m224-1h0m19 6h0m17-6h0m-293 20h0m260-2h0m53 2h0m15-4h0m16-1h0m-325 7h0m226 2h0m10 8h0m23-9h0m26 6h0m32-8h0m5 6h0m-93 13h0m81 2h0m1-4h0m13-3h0m-46 11h0m32 6h0m30 1h0m-82 4h0m16 0h0m3 7h0m103 0h0m-122 7h0m9 1h0m7 6h0m19-4h0m26-1h0m1 0h0m21-2h0m39 5h0m-43 11h0m13 3h0m16-4h0m25-2h0m-128 17h0m76-6h0m40-1h0m-99 15h0m6-1h0m8 6h0m6-9h0m19 10h0m39-10h0m4 9h0m0-2h0m13 0h0m1 2h0m-96 5h0m2 3h0m30-1h0m28 7h0m6-7h0m8 2h0m22 2h0m3 1h0m3-9h0m24 10h0m-489 11h0m399-8h0m2 6h0m56-6h0m22 5h0m-39 13h0m46 1h0m1-2h0m12 5h0m-92 21h0m22-8h0m8 0h0m30 2h0m-65 15h0m17-2h0m14 0h0m7 3h0m1-5h0m26 2h0m4-1h0m1-2h0m-80 20h0m0-2h0m13-4h0m19 7h0m9 12h0m15 0h0m-32 7h0m59 3h0m8 2h0m9-3h0m-56 13h0m35-2h0m20 3h0m-86 9h0m23 2h0m12-7h0m2 6h0m1 2h0m12-3h0m5-1h0m31 3h0m-88 15h0m20-3h0m43-6h0m-63 21h0m2-3h0m1 4h0m4-11h0m21 4h0m34 6h0m12-1h0m-47 11h0m20-4h0m8 7h0m-14 12h0m45-8h0m-53 13h0m2 7h0m2-6h0m54-2h0m-69 14h0m7 3h0m26-7h0m10 9h0m27-2h0m-108 8h0m7 0h0m40 0h0m22 4h0m14 2h0m3-7h0m-59 17h0m9 2h0m11-8h0m16 7h0m14-1h0m26-2h0m-101 10h0m6 1h0m29-3h0m0 1h0m2 8h0m1-3h0m58 2h0m-70 4h0m-9 10h0m46 0h0m18 6h0m-67 16h0m22-9h0m3 1h0m-70 18h0m17 0h0m25 2h0m-361 2h0m378 0h0m26 4h0m-387 15h0m314 3h0m4-5h0m3-1h0m10-1h0m48-1h0m-92 10h0m57 5h0m6 5h0m9-10h0m6 7h0m-69 8h0m35 4h0m3 1h0m0-2h0m8-5h0m-76 14h0m8 7h0m29-9h0m0 9h0m4 3h0m-119 22h0m24 0h0m25-5h0"/>
<path stroke="#3febd5" d="M1183 707h0m-45 2h0m23 2h0m25-2h0m13 4h0m50 4h0m3-7h0m-191 13h0m46 8h0m92 0h0m58-4h0m1-6h0m13 0h0m-182 17h0m1-2h0m25-3h0m49 9h0m57-7h0m8 3h0m43-2h0m9-3h0m3 10h0m7 0h0m8-6h0m18 6h0m-312 9h0m33 1h0m29-3h0m130-4h0m32 2h0m20-3h0m9 1h0m59-1h0m-107 12h0m38 4h0m9-1h0m32 6h0m28-5h0m22 2h0m29 1h0m-115 4h0m49 1h0m11-1h0m8 11h0m4-6h0m-356 8h0m60 2h0m250 7h0m6-4h0m85-1h0m-106 8h0m25 5h0m7-2h0m8 1h0m40-1h0m2-2h0m30 8h0m8-2h0m-77 9h0m12-5h0m4 8h0m12 2h0m2 1h0m22 0h0m23-4h0m10-5h0m-94 16h0m8-1h0m29 1h0m49 2h0m22-2h0m-124 12h0m3-1h0m30 5h0m10 0h0m3-3h0m0 0h0m13 1h0m5-5h0m8 6h0m-419 12h0m384-2h0m2 0h0m-39 12h0m2 4h0m21-6h0m12-1h0m13 3h0m25-2h0m16 1h0m9 0h0m-53 6h0m44 2h0m30 7h0m-16 3h0m16 11h0m16-10h0m-70 21h0m20-10h0m14 5h0m42-5h0m7 5h0m-31 15h0m19-7h0m10 2h0m-87 17h0m3-3h0m19-4h0m39 6h0m-79 6h0m28 2h0m-13 14h0m3 2h0m74-6h0m-87 17h0m14 2h0m72-4h0m12 3h0m-74 13h0m13 2h0m16 0h0m14-9h0m26 10h0m-107 5h0m1 6h0m20-5h0m31 2h0m-52 9h0m20 3h0m3 2h0m16-3h0m14-6h0m54 10h0m7-2h0m-89 12h0m6 1h0m13-8h0m56 8h0m1 0h0m0-5h0m18 3h0m-51 12h0m7 23h0m-37 12h0m13-5h0m51 2h0m-131 20h0m45-9h0m4 4h0m8-4h0m27 4h0m25 2h0m19-7h0m2 3h0m0 3h0m-110 5h0m9 7h0m24 4h0m73-8h0m-48 18h0m32-2h0m-72 11h0m12 1h0m24 1h0m17-6h0m28 0h0m9 1h0m-88 20h0m1-11h0m14 10h0m6-8h0m35-1h0m8 6h0m-53 6h0m-9 20h0m15-2h0m8 1h0m26 2h0m3 1h0m-77 5h0m41 4h0m8-3h0m6 2h0m16 1h0m-86 8h0m3-1h0m20-2h0m48 10h0m-38 5h0m-291 24h0m234 2h0m35 0h0m4 4h0m0-1h0m2-4h0m8 0h0m1-5h0m-28 13h0m-103 19h0"/>
<path stroke="#44eed2" d="M1124 715h0m9-2h0m8 0h0m30 2h0m57 1h0m9-6h0m38 8h0m-211 12h0m35-1h0m19 0h0m29-5h0m67 5h0m5-4h0m16 1h0m13 1h0m1-5h0m11 7h0m-172 14h0m12-5h0m100-5h0m7 4h0m57 6h0m4-8h0m-88 13h0m33-3h0m96 7h0m-293 5h0m35 6h0m2-2h0m42 2h0m24-7h0m19 0h0m93 0h0m2 6h0m15 4h0m3-7h0m36-3h0m7 10h0m55 0h0m-374 9h0m46-5h0m8 3h0m206-1h0m10-1h0m47 0h0m-308 9h0m14 5h0m62-3h0m170 2h0m51-1h0m1-3h0m12 4h0m-332 14h0m26 1h0m240-6h0m36-1h0m58 10h0m17-1h0m-57 10h0m23 0h0m13 1h0m60-8h0m-429 21h0m35-5h0m307-2h0m34 8h0m10-10h0m38 5h0m-93 16h0m35 1h0m39-4h0m-382 10h0m11-2h0m7 2h0m260 0h0m14 1h0m3 1h0m7-2h0m10 6h0m6-4h0m36-5h0m68 0h0m-172 21h0m57-10h0m38 1h0m17 0h0m14 5h0m8 1h0m-423 11h0m378-3h0m14 8h0m0-7h0m39 9h0m44 2h0m-76 20h0m1-6h0m4 5h0m41 11h0m-52 5h0m6 6h0m7-6h0m14 3h0m-18 11h0m-14 16h0m22-1h0m2-5h0m5-1h0m84 8h0m-112 12h0m11 2h0m8 0h0m-27 11h0m2-7h0m112 4h0m-48 9h0m20 1h0m-472 18h0m419-5h0m-21 13h0m0-5h0m8 4h0m11 5h0m13-8h0m17 1h0m-40 10h0m5 2h0m5 1h0m8-3h0m52 7h0m-68 5h0m16 1h0m16-2h0m52 7h0m-489 6h0m418 8h0m-416 9h0m377-2h0m27 2h0m11-7h0m-74 17h0m32 0h0m41-1h0m5 4h0m-75 11h0m35 2h0m1-6h0m3 8h0m10-9h0m68 2h0m-446 23h0m392 6h0m29-8h0m7 2h0m17 5h0m-63 8h0m22 2h0m42 0h0m-52 11h0m13-5h0m33 1h0m-42 12h0m32 5h0m-88 12h0m12-4h0m14 4h0m18-5h0m9 9h0m17-5h0m-89 15h0m2 3h0m17 0h0m10 0h0m1-4h0m1-1h0m8-5h0m27-1h0m-84 13h0m59 9h0m37-9h0m-316 30h0m9 2h0m215-9h0m9 8h0m7-1h0m34-6h0m12 0h0m-59 14h0m2 5h0m5-7h0m15 5h0m19-6h0m-67 14h0"/>
<path stroke="#4af2cf" d="M1131 714h0m6-2h0m5-1h0m5 1h0m7 5h0m58-4h0m2 1h0m-152 12h0m30-6h0m23 4h0m13 3h0m17 3h0m1-1h0m7-1h0m78 3h0m-206 11h0m5-3h0m26-4h0m11 7h0m35-4h0m45 3h0m23-1h0m64-1h0m69-2h0m-245 11h0m10-3h0m10 1h0m71 0h0m42 9h0m20-7h0m44 1h0m4-5h0m68 6h0m-343 15h0m56 1h0m31-10h0m14 10h0m6-6h0m69 0h0m15-2h0m84 8h0m7-4h0m-277 7h0m34 9h0m4-5h0m15 3h0m4 1h0m4-1h0m11-6h0m46 2h0m87-3h0m25 2h0m17 2h0m11 4h0m1 1h0m11-8h0m6 7h0m54 2h0m-317 3h0m3 4h0m10 4h0m12-6h0m155 0h0m60 0h0m5 3h0m17-3h0m4-4h0m-269 21h0m284-4h0m9-3h0m2 6h0m4-3h0m12 6h0m-349 3h0m291 3h0m7 1h0m5-4h0m102 8h0m-404 13h0m12-9h0m219 4h0m51 0h0m29 2h0m12 3h0m2-11h0m1 10h0m3-1h0m9 0h0m58-3h0m-386 9h0m251 0h0m31-1h0m8 1h0m12-2h0m30 0h0m18 0h0m-330 18h0m238-3h0m21 1h0m38 6h0m22-9h0m-124 12h0m90-2h0m21 0h0m4 1h0m-63 11h0m23 0h0m63 7h0m21 2h0m36 0h0m-451 24h0m411-5h0m16 30h0m-40 13h0m14-11h0m-403 29h0m375 4h0m110 10h0m-101 10h0m20 1h0m12 11h0m-9 10h0m29 6h0m-13 10h0m-20 5h0m4 0h0m10 20h0m-51 14h0m23 0h0m11-1h0m15-5h0m-41 18h0m13-2h0m2-7h0m12 1h0m18 4h0m-59 16h0m1-9h0m3 9h0m1 0h0m10-10h0m18 8h0m3-4h0m13 7h0m-51 8h0m7-6h0m4 2h0m12 8h0m3-10h0m2 8h0m22-1h0m-55 5h0m63 2h0m-40 12h0m45 7h0m-15 5h0m4 8h0m-21 7h0m37 0h0m-69 10h0m14 5h0m9-3h0m18 0h0m26 0h0m14-2h0m-87 17h0m43-2h0m1-7h0m23 10h0m-48 11h0m19 0h0m5-3h0m23-6h0m-136 22h0m11-3h0m11-6h0m39 13h0m1 9h0m17-1h0m-52 7h0m-82 17h0m13-1h0m29-4h0m42-3h0m8 0h0"/>
<path stroke="#50f4cc" d="M1119 717h0m15 2h0m42-10h0m13 9h0m14-1h0m-128 10h0m21-4h0m15 4h0m51 4h0m8-7h0m-148 19h0m39-10h0m12 0h0m15 3h0m11 3h0m5-3h0m32 3h0m2 2h0m10-6h0m9 7h0m19-9h0m33 2h0m9 7h0m70-6h0m-250 16h0m16 1h0m15 0h0m29-6h0m30 6h0m16-9h0m14 4h0m18-2h0m46 2h0m16 0h0m86 1h0m-307 13h0m79-3h0m18 3h0m42-2h0m42-4h0m2 9h0m14-2h0m5-4h0m-183 18h0m36-1h0m16-5h0m14 8h0m12-4h0m40-6h0m54 8h0m4-1h0m1-1h0m4 4h0m41-1h0m-287 8h0m1 3h0m4-4h0m23-4h0m29 8h0m31-6h0m20 1h0m186 7h0m3-1h0m22-1h0m-304 9h0m5-3h0m3-1h0m41 0h0m196-1h0m2 5h0m13-1h0m1-5h0m-255 14h0m12 4h0m230 1h0m7 1h0m2-6h0m19 0h0m46 4h0m-356 8h0m21 1h0m3 4h0m8-4h0m27-3h0m52 4h0m231 3h0m46 2h0m-350 5h0m11 2h0m266 5h0m22-1h0m3-3h0m-343 17h0m4-8h0m12 1h0m2 0h0m253 7h0m26-5h0m30 1h0m19 3h0m-360 3h0m24 6h0m32 0h0m283 4h0m14-1h0m1-6h0m12 6h0m-363 11h0m11 1h0m339-7h0m34 0h0m-389 12h0m403 4h0m-396 17h0m429-10h0m-429 14h0m373 18h0m-4 10h0m1 4h0m19-7h0m34 8h0m-53 21h0m11-4h0m-19 14h0m22-5h0m1 5h0m5-2h0m38 9h0m-56 13h0m28 48h0m2 1h0m3 4h0m-47 11h0m18-2h0m2 2h0m25-4h0m-48 20h0m37-1h0m0-8h0m4-2h0m-85 14h0m12 3h0m22 5h0m2-8h0m3 8h0m18 0h0m8-6h0m11-2h0m21 7h0m-49 9h0m0-1h0m5 6h0m44 0h0m21-3h0m-64 6h0m8 6h0m4-2h0m32 11h0m6-4h0m-52 13h0m8 0h0m-342 17h0m309 4h0m2-1h0m7-3h0m-28 16h0m23-6h0m-27 11h0m48 2h0m10-5h0m-71 12h0m10-1h0m7 6h0m4-2h0m72 2h0m-76 8h0m6 7h0m46-7h0m-82 12h0m31 9h0m9-1h0m16-2h0m13-2h0m13-2h0m-250 11h0m155 4h0m32-6h0m15 4h0m4 1h0"/>
<path stroke="#56f7ca" d="M1165 715h0m20-4h0m-98 16h0m12-3h0m2 0h0m24 4h0m43-2h0m2 4h0m39-4h0m10 1h0m31-7h0m-197 21h0m4-8h0m11 9h0m48 0h0m95 1h0m-182 2h0m4 6h0m19 1h0m1-5h0m25-2h0m19 3h0m30-2h0m16 2h0m25 2h0m2-3h0m39 0h0m11 0h0m9 4h0m-232 10h0m4-2h0m7 3h0m29-3h0m1 3h0m13 5h0m13-2h0m16-2h0m8-5h0m39 8h0m1-8h0m4 0h0m16 5h0m8-3h0m88 4h0m-203 4h0m3 9h0m18 1h0m2-2h0m0 0h0m35 1h0m14-8h0m19 4h0m22-2h0m15-1h0m28 9h0m2-5h0m8-2h0m10 2h0m25-4h0m2 3h0m20 5h0m8-6h0m-275 16h0m14 2h0m24-7h0m5 3h0m16-3h0m5 7h0m82 0h0m29-5h0m24-5h0m72 6h0m21 0h0m-280 8h0m5 7h0m9-1h0m0 1h0m214-2h0m1 3h0m89-3h0m-359 16h0m8-3h0m11-1h0m3 3h0m56-2h0m203-5h0m-287 13h0m15-3h0m41 5h0m212-2h0m6 1h0m12-1h0m5 7h0m34-1h0m3 0h0m-343 13h0m16-4h0m4 2h0m256-4h0m31 2h0m26 2h0m-325 14h0m7-8h0m115 1h0m57 7h0m124-4h0m15 2h0m-329 3h0m0 7h0m47-7h0m190 1h0m46 7h0m25 2h0m10 1h0m39-9h0m-345 18h0m14 2h0m311-7h0m72 5h0m-22 8h0m-387 14h0m377 2h0m-385 21h0m12 7h0m12 5h0m360-2h0m-9 9h0m-7 17h0m23-3h0m-395 16h0m370-4h0m-373 20h0m381-6h0m14 2h0m-1 30h0m2 4h0m13 18h0m3 13h0m1 5h0m-60 8h0m5 4h0m2 4h0m45-2h0m27-5h0m-90 18h0m23-3h0m18-1h0m17 5h0m16-1h0m-398 11h0m1 0h0m336 2h0m11-6h0m11 3h0m23-2h0m-50 9h0m11 7h0m9-1h0m2-1h0m25 2h0m13-2h0m5 4h0m-103 14h0m54 0h0m-34 12h0m91-10h0m-101 19h0m12-2h0m8 4h0m27 1h0m-40 12h0m-266 6h0m2 3h0m301-2h0m53 1h0m-93 13h0m23-3h0m30-3h0m26 0h0m-89 20h0m1-3h0m14-5h0m0 9h0m21-10h0m-25 13h0m-122 27h0m80-4h0m5 4h0"/>
<path stroke="#5df9c7" d="M1123 716h0m27-3h0m-43 17h0m35-2h0m6-6h0m22-1h0m37 2h0m-157 9h0m10 1h0m25 4h0m9 0h0m16-2h0m18 3h0m13-3h0m-125 20h0m97-6h0m21 6h0m7 0h0m23-9h0m15-2h0m12 6h0m4 5h0m2-2h0m-179 3h0m104 0h0m20 11h0m5 0h0m54-2h0m27-9h0m14 5h0m-254 9h0m6 6h0m3-8h0m9 10h0m50-5h0m4 4h0m10-9h0m23 9h0m10-4h0m11-4h0m9 10h0m29 0h0m51-1h0m22-7h0m8 6h0m7-9h0m-259 16h0m0 7h0m40-3h0m13 1h0m20-4h0m12-5h0m3 6h0m44 0h0m45 4h0m15-10h0m8 3h0m31 4h0m16 0h0m6-3h0m11 2h0m-256 6h0m60 3h0m100 2h0m84-3h0m10 1h0m-290 14h0m2 5h0m54-2h0m212-3h0m4-5h0m-219 20h0m10-8h0m148 1h0m55 8h0m4-8h0m20-1h0m3 7h0m7-4h0m21-1h0m31 0h0m-350 10h0m41 9h0m27-7h0m237 1h0m-303 20h0m24-10h0m2 0h0m106 8h0m69-2h0m0 3h0m38-6h0m3 7h0m7-1h0m25 0h0m50-4h0m-339 12h0m1 4h0m2-6h0m12 3h0m8-2h0m7 1h0m8 4h0m11-4h0m1-5h0m140 3h0m22-3h0m5 5h0m103-6h0m-306 14h0m11 6h0m29 0h0m276-5h0m40 4h0m-361 16h0m375 3h0m1 4h0m-397 14h0m20 2h0m1-3h0m373-3h0m-376 10h0m369 6h0m-378 8h0m370 7h0m-368 6h0m22-4h0m-15 20h0m354 2h0m1 4h0m5 14h0m-377 13h0m13 16h0m17-8h0m11 4h0m344-5h0m5 9h0m-352 18h0m367 17h0m5 5h0m-97 13h0m26 0h0m5-1h0m-16 19h0m12-7h0m6 3h0m5 0h0m19-4h0m-9 22h0m7-11h0m-10 20h0m7-5h0m12 1h0m-47 18h0m17 4h0m3 5h0m-313 7h0m297 7h0m9-7h0m-15 13h0m5 8h0m-24 1h0m8 8h0m12-3h0m0-2h0m9 2h0m3-1h0m16-3h0m-81 28h0m1 3h0m19-7h0m8 1h0m9 4h0m11 4h0m1-8h0m3 3h0m3 0h0m2 0h0m-73 7h0m7 11h0m46-1h0m1-10h0m-187 12h0m5 2h0m174 3h0m32-4h0m-136 15h0m95-1h0"/>
<path stroke="#62fbc4" d="M1075 729h0m56 11h0m30 3h0m-55 5h0m26-3h0m35 1h0m-116 12h0m46 1h0m18-3h0m43 0h0m8 7h0m21-2h0m-194 15h0m2-5h0m34-3h0m23 2h0m37 1h0m20 2h0m1 0h0m121-3h0m8-2h0m-259 13h0m89 2h0m3 5h0m3-8h0m3 9h0m1-9h0m10 11h0m1-1h0m16-3h0m26-7h0m17 3h0m5 2h0m10-2h0m29-2h0m26 5h0m-260 15h0m57-8h0m27 0h0m4 7h0m12 2h0m28-9h0m39 4h0m68 1h0m9-2h0m5 7h0m-225 6h0m55 5h0m17-10h0m0 11h0m145-2h0m18-7h0m-268 18h0m37-6h0m64 0h0m30 3h0m40 0h0m6 6h0m0-9h0m8 3h0m33-3h0m27 5h0m0-2h0m38 3h0m20-2h0m34 4h0m-325 3h0m45 4h0m5 4h0m47-9h0m101 6h0m85 5h0m-260 6h0m24 6h0m3-1h0m28-3h0m0 4h0m12-4h0m2 4h0m129-8h0m8 1h0m-216 18h0m75-9h0m54 3h0m45 6h0m103-6h0m-299 17h0m1-2h0m8 2h0m12-6h0m27-2h0m4 2h0m269 0h0m32 3h0m-369 6h0m24 9h0m11-4h0m6-4h0m349 4h0m-394 15h0m13-5h0m11 8h0m39-8h0m-67 11h0m15 3h0m15-2h0m10 5h0m-41 4h0m28 2h0m-28 19h0m28-5h0m5 5h0m27-1h0m331 0h0m-370 10h0m350-4h0m-348 19h0m8-6h0m13-2h0m10 9h0m319-5h0m-321 8h0m317 5h0m-343 13h0m16 0h0m335 3h0m8-1h0m-368 9h0m2 6h0m1 2h0m3 7h0m25-4h0m-30 9h0m5 9h0m2-3h0m13-4h0m-6 19h0m311 22h0m-317 4h0m291 0h0m14 3h0m37 4h0m-71 9h0m76 5h0m12-5h0m-359 11h0m0-1h0m286-1h0m12 4h0m43 2h0m-68 7h0m50 6h0m-3 11h0m1 0h0m7-5h0m-17 19h0m36-8h0m-6 13h0m-59 16h0m-232 22h0m184 18h0m19 0h0m17-7h0m-37 8h0m-47 13h0m33 7h0m20-2h0m14-5h0m28 4h0m-120 8h0m1 4h0m66 2h0m26-1h0"/>
<path stroke="#68fcc1" d="M1162 718h0m-75 7h0m43 6h0m27-10h0m-77 14h0m8-2h0m-105 40h0m19-3h0m93 0h0m36 8h0m0 0h0m9-4h0m27-6h0m-119 18h0m30-3h0m31-1h0m31 2h0m7 1h0m57 2h0m-237 9h0m25-2h0m59 1h0m12 5h0m14-2h0m9 0h0m3 4h0m0-10h0m0 1h0m38 0h0m4 0h0m13 1h0m6 9h0m79-5h0m-244 10h0m55 7h0m4-9h0m70 0h0m25 7h0m68-3h0m5-1h0m-164 7h0m17 1h0m111-1h0m34 7h0m19 4h0m15-11h0m-218 12h0m15 7h0m2 3h0m13-1h0m24-3h0m12 2h0m41 2h0m41-4h0m-182 12h0m20 5h0m26-9h0m84 8h0m18-3h0m20-2h0m21-2h0m6-3h0m29 1h0m14-1h0m-287 15h0m52 6h0m29-2h0m16-6h0m20 6h0m14 2h0m72-4h0m14-2h0m16 5h0m5 3h0m-199 8h0m48-3h0m251 0h0m-327 17h0m4 1h0m4-1h0m14-8h0m36 0h0m315 4h0m-383 15h0m10 3h0m4-4h0m40 4h0m-68 6h0m6-5h0m5 4h0m1 0h0m9 6h0m17-9h0m8 1h0m-40 21h0m2-7h0m26 7h0m343-11h0m-368 21h0m17-5h0m30 7h0m319 8h0m3 10h0m-345 18h0m332-3h0m7-6h0m-360 10h0m30 8h0m332 1h0m-368 5h0m20 30h0m30-8h0m329 1h0m11 9h0m-379 11h0m1 0h0m-9 4h0m20-1h0m307 19h0m8-1h0m11-1h0m17-2h0m-93 19h0m18-1h0m56 9h0m-32 12h0m16 2h0m-6 8h0m-31 15h0m43-4h0m1-3h0m-12 23h0m49-10h0m-78 22h0m30-1h0m-52 13h0m10-3h0m33-2h0m18-5h0m-279 17h0m200 14h0m0-4h0m30 6h0m-49 7h0m61 1h0m15-3h0m20 6h0m-22 14h0m-145 9h0m76 0h0m0-8h0m3 3h0m7 6h0m7 0h0m12 0h0m12 0h0m13-5h0m-78 15h0m1-7h0m3 0h0m12 6h0m5-2h0m20-1h0"/>
<path stroke="#6efebe" d="M1118 767h0m32 11h0m-84 6h0m1 4h0m59 0h0m3-5h0m16 4h0m-168 8h0m80-1h0m15-2h0m20 2h0m29 0h0m1 7h0m18-7h0m5 0h0m6 2h0m8 7h0m55-5h0m-179 9h0m10 3h0m20 1h0m25 4h0m28-1h0m45-2h0m14-4h0m11 5h0m2-9h0m37 5h0m-196 17h0m24-2h0m3-4h0m21 5h0m33 0h0m105 1h0m54-8h0m-270 21h0m13-8h0m28 8h0m7-1h0m29-9h0m40 7h0m25 1h0m14-8h0m10 6h0m5-3h0m42-3h0m-127 22h0m2-4h0m13 0h0m14 2h0m57-7h0m17 3h0m-186 11h0m39-2h0m77 4h0m31 0h0m12 5h0m37-3h0m13 2h0m-252 5h0m15 8h0m8-5h0m199-6h0m3 1h0m74 3h0m14 3h0m9 0h0m-308 15h0m10-6h0m31 1h0m33 5h0m34-8h0m-89 21h0m4-3h0m13-6h0m52 5h0m-100 15h0m8-5h0m-42 9h0m3 8h0m377-9h0m-373 17h0m22 4h0m103-2h0m-127 9h0m11-2h0m51 20h0m-59 5h0m26 2h0m-30 10h0m2 3h0m28-1h0m16-5h0m306-1h0m-331 16h0m17-1h0m13-1h0m331 2h0m-378 15h0m7 1h0m12-3h0m19 5h0m13 0h0m-36 9h0m-19 7h0m4 6h0m38 3h0m2-3h0m6 1h0m351 2h0m-356 9h0m353-6h0m-376 14h0m10 6h0m2 7h0m13 0h0m284-2h0m-321 9h0m32 2h0m280 4h0m-303 9h0m299 1h0m7 6h0m-297 2h0m279 5h0m13 1h0m44 5h0m-22 6h0m-31 13h0m13-2h0m1 5h0m0-3h0m-33 15h0m17-2h0m8-4h0m-21 16h0m-31 12h0m16 2h0m6-1h0m29-8h0m-238 21h0m160-7h0m17 9h0m2-1h0m25-8h0m20-1h0m-75 21h0m25-2h0m6 0h0m-4 11h0m10-4h0m24 4h0m-112 15h0m19-1h0m13-3h0m26-1h0m3-2h0m1 3h0m17 4h0m6-4h0m-60 7h0m6 5h0m12-6h0"/>
<path stroke="#74feba" d="M1109 791h0m2-8h0m11 5h0m74-6h0m-130 12h0m36 9h0m32-8h0m8 8h0m26-5h0m4 0h0m11 3h0m7-2h0m9-6h0m-160 16h0m15 3h0m9 3h0m32-9h0m54 7h0m-131 13h0m22 1h0m4-1h0m26 1h0m18-4h0m6-4h0m7 3h0m62 1h0m20-3h0m2-3h0m-156 15h0m26-4h0m18 1h0m4 10h0m12-11h0m31 10h0m6-9h0m1 5h0m8 4h0m21-5h0m12-4h0m18 5h0m-165 17h0m12-9h0m3 2h0m11 4h0m22 1h0m71-7h0m3 0h0m-100 12h0m26-1h0m7 3h0m17 7h0m3-6h0m11-2h0m24 5h0m15 2h0m7 0h0m16-5h0m4 4h0m-196 10h0m63-4h0m20 4h0m33-5h0m-91 10h0m43 0h0m21 3h0m-115 15h0m15-2h0m8-2h0m16 0h0m3-2h0m54 0h0m258 7h0m9 4h0m-358 9h0m41-7h0m310 8h0m3-2h0m-321 15h0m28-9h0m-49 15h0m19 0h0m4-1h0m8 1h0m34 7h0m261-9h0m-320 12h0m4 5h0m61-1h0m14 0h0m240 1h0m0 3h0m5-9h0m-337 18h0m23-5h0m51 5h0m256 1h0m-351 4h0m27 9h0m17 2h0m5-2h0m33-3h0m74-4h0m200 5h0m-321 13h0m14 3h0m282-3h0m-333 11h0m33-6h0m68 4h0m28 2h0m-131 7h0m27 5h0m1 4h0m17-7h0m54-1h0m282 1h0m-357 10h0m25-1h0m324 0h0m-373 14h0m21 6h0m18-7h0m37 9h0m286-1h0m33-4h0m-386 6h0m1 5h0m6 0h0m35 13h0m264 2h0m-278 11h0m6 1h0m10 0h0m248-6h0m-284 15h0m32-5h0m229 4h0m-27 11h0m51 3h0m-284 8h0m17 4h0m2-2h0m283 3h0m8-2h0m-37 18h0m16-11h0m-37 13h0m5 7h0m-240 6h0m5 4h0m235 1h0m21-5h0m7-1h0m10 5h0m-255 11h0m200 1h0m10-3h0m-205 15h0m155 10h0m15-4h0m27 11h0m2-8h0m-176 16h0m145 3h0m18-2h0m-56 12h0m45-2h0m3 0h0m22 1h0m1-4h0m16 4h0m-118 8h0m22 0h0m27-1h0m35 9h0m8-4h0m-34 10h0m11-3h0m23 1h0m19-2h0"/>
<path stroke="#7affb7" d="M1162 792h0m-160 23h0m64-4h0m2-6h0m44 4h0m36-1h0m-135 12h0m39 7h0m49-4h0m6-3h0m4 2h0m9-1h0m14 5h0m-66 5h0m15 7h0m7 0h0m24 0h0m2-9h0m7 4h0m4 2h0m1-7h0m38 7h0m19 1h0m-159 4h0m10 9h0m34 2h0m36-3h0m0 1h0m30-5h0m5 4h0m42-8h0m-181 17h0m13 4h0m31-2h0m38 2h0m22-3h0m4 1h0m24-4h0m4 5h0m-148 8h0m13 7h0m15-10h0m17 1h0m0-1h0m82 1h0m177 8h0m-299 6h0m7 2h0m17 2h0m5-3h0m37-5h0m13 5h0m238 4h0m4 2h0m-327 11h0m11 1h0m12-2h0m94-5h0m190 5h0m-345 10h0m46-7h0m20 8h0m295-2h0m-322 7h0m53 2h0m246 4h0m-318 15h0m22-6h0m16-4h0m282 6h0m-286 9h0m51 3h0m-107 12h0m41 4h0m18-2h0m260-7h0m-211 22h0m62-11h0m164 6h0m-269 12h0m10 0h0m-57 17h0m34 8h0m1-1h0m78 1h0m11-3h0m211 7h0m-369 1h0m33 3h0m2-1h0m25 7h0m14-7h0m-25 17h0m21 3h0m17-4h0m2-4h0m282-1h0m28 9h0m-378 11h0m8 2h0m15-9h0m42 0h0m59-2h0m253 0h0m-391 17h0m11 1h0m4 0h0m31 1h0m15-7h0m185 10h0m-238 8h0m17-6h0m21 10h0m218-4h0m23-6h0m2 0h0m16 2h0m-293 11h0m6 9h0m16-5h0m217-4h0m5 4h0m22-1h0m8 5h0m0-1h0m15 1h0m-263 7h0m248 2h0m23-1h0m3 5h0m-288 10h0m237-8h0m14 1h0m37 0h0m-288 18h0m232 2h0m26 0h0m13-3h0m3 5h0m-268 8h0m7 1h0m220-3h0m4 4h0m11 1h0m29-2h0m12-8h0m1 6h0m-274 14h0m0-7h0m191 5h0m31-5h0m25 1h0m6 7h0m-47 6h0m4 7h0m24 0h0m-33 3h0m20 2h0m3 1h0m13 2h0m1 3h0m-49 12h0m12-1h0m18 3h0m-180 7h0m148-5h0m35 10h0m-145 4h0m79 2h0m-45 8h0m21 9h0m14-3h0m23 2h0m46-9h0m-40 17h0"/>
<path stroke="#82ffb3" d="M1089 801h0m31 1h0m-70 9h0m41 1h0m13-7h0m3-1h0m0 11h0m4-5h0m26 2h0m4-8h0m50 5h0m-102 16h0m18-5h0m4 2h0m12-1h0m5-3h0m7 3h0m19-1h0m12 3h0m-134 15h0m20-3h0m45-6h0m14 0h0m5 4h0m38 3h0m28-1h0m-131 8h0m33 0h0m4 4h0m41-3h0m11-4h0m-72 18h0m44 1h0m20-4h0m-121 20h0m22-9h0m1 2h0m12 6h0m4 1h0m2-4h0m6 3h0m28-3h0m16-1h0m2 4h0m3-7h0m5-2h0m19 4h0m11-2h0m-144 19h0m36-6h0m11 3h0m10 2h0m9 2h0m22-7h0m1-3h0m2 1h0m223 5h0m5 4h0m-327 5h0m13 2h0m33-6h0m51 11h0m-94 12h0m27-7h0m6 7h0m23-2h0m1-7h0m3 7h0m51 2h0m204-7h0m1 0h0m-335 10h0m21 9h0m1-2h0m8 2h0m8-4h0m14-2h0m50-4h0m38 9h0m6-9h0m1 6h0m11-3h0m-199 17h0m70-9h0m8 0h0m18 8h0m14-5h0m22 6h0m24 1h0m-84 11h0m108-4h0m18 1h0m-129 12h0m21 1h0m13-7h0m6 2h0m9 9h0m225-5h0m6 5h0m6-5h0m-320 7h0m15 7h0m16-3h0m29-5h0m12 2h0m104 8h0m127 1h0m3-4h0m6 0h0m2 1h0m5-4h0m-314 9h0m15 3h0m11-1h0m119 6h0m34 2h0m131-9h0m10 8h0m2-5h0m-282 14h0m70-1h0m57-3h0m154-3h0m-220 18h0m47-2h0m171 7h0m7-4h0m-249 16h0m-81 11h0m25 1h0m2-4h0m12-2h0m22-5h0m32 10h0m1-7h0m-120 14h0m2-1h0m53 2h0m0 0h0m59-4h0m254 6h0m0-3h0m-371 9h0m7 6h0m29 3h0m20-5h0m193 2h0m37 3h0m-276 9h0m28 3h0m13-8h0m199 6h0m44 0h0m-266 5h0m15 5h0m198-7h0m23 4h0m-244 14h0m253 1h0m16 4h0m18-8h0m-290 15h0m3 2h0m273-8h0m-274 15h0m3 3h0m248 5h0m1-9h0m59 0h0m-285 17h0m197 15h0m26-7h0m7 7h0m3 0h0m15-7h0m-18 20h0m18-6h0m-54 10h0m6-3h0m3 0h0m21 8h0m3-4h0m-204 9h0m169 9h0m1-9h0m-13 16h0m11-2h0m-133 12h0m20 7h0m67-7h0m1 6h0m4-3h0m6-2h0m4-4h0m46 0h0m2 1h0m-114 12h0m14 7h0m5-7h0"/>
<path stroke="#88ffaf" d="M1097 810h0m33-5h0m27 30h0m-60 5h0m-3 21h0m-57 12h0m56-7h0m3 6h0m16 2h0m1-3h0m18-1h0m8-6h0m124 8h0m44 2h0m-283 7h0m11 0h0m5 5h0m28 0h0m6-10h0m10 6h0m22 0h0m196-3h0m8-1h0m-319 18h0m18 1h0m3-5h0m3 3h0m28-5h0m60 4h0m6-4h0m176 7h0m6-3h0m16 3h0m-294 4h0m27 5h0m62-1h0m20-3h0m171 7h0m13-7h0m-309 20h0m18-4h0m19 0h0m13-1h0m9 2h0m-90 13h0m43 2h0m0-1h0m1-3h0m49-5h0m2 5h0m12-1h0m2-3h0m3 0h0m57 7h0m153-2h0m5-6h0m-304 11h0m22 6h0m25-5h0m7 4h0m41-5h0m19 9h0m3-2h0m11-5h0m154 8h0m12-9h0m-291 19h0m18-6h0m8 4h0m14 1h0m85-6h0m2 1h0m2 0h0m30-2h0m-138 19h0m18-6h0m17 7h0m3-2h0m14-2h0m1 6h0m4-5h0m13-5h0m203 9h0m-293 11h0m25 0h0m3-4h0m35 6h0m5-5h0m9 1h0m0 5h0m8-7h0m23 5h0m26-9h0m1 9h0m5-9h0m146 0h0m7 9h0m-348 8h0m98 2h0m21 3h0m4-2h0m31-7h0m178 1h0m-242 14h0m14 1h0m8 1h0m19 5h0m38-10h0m179 7h0m24 1h0m-301 7h0m11 4h0m4 3h0m7-7h0m2-2h0m31 4h0m3-3h0m245 5h0m0-4h0m-312 9h0m45 6h0m13-1h0m26-3h0m239 6h0m-371 11h0m54-3h0m20 5h0m7-6h0m268 3h0m-356 14h0m4-5h0m43 2h0m-3 15h0m61-7h0m159 2h0m-240 13h0m16 1h0m18 3h0m165-8h0m11 8h0m2-9h0m20 7h0m3-2h0m37 0h0m-266 16h0m56 0h0m110-8h0m65 3h0m4-2h0m-232 16h0m218 2h0m10 0h0m5-2h0m5-6h0m-244 16h0m230-4h0m2 3h0m45-3h0m1 3h0m-70 11h0m8 6h0m3-8h0m6 7h0m-222 12h0m220 3h0m11-10h0m1 5h0m2 0h0m-201 13h0m165 4h0m6-4h0m13 1h0m2-7h0m7 11h0m29-11h0m-215 21h0m139 2h0m48-10h0m-32 21h0m15-7h0m31-2h0m-159 21h0m92-4h0m1 5h0m-99 3h0m41 7h0m33 0h0m-5 8h0m6 5h0m15-9h0"/>
<path stroke="#8efeac" d="M1119 796h0m25 10h0m3 8h0m-84 17h0m68 13h0m36 12h0m-121 18h0m46-8h0m88 1h0m11-1h0m-114 11h0m19 9h0m200-8h0m6 8h0m-281 13h0m7-4h0m5-7h0m11 9h0m27-5h0m6 3h0m6 3h0m3-10h0m17 0h0m8 9h0m2 1h0m180-1h0m-279 9h0m5 0h0m7 0h0m14 1h0m9 3h0m34-2h0m20-4h0m6 5h0m-51 3h0m10 1h0m0 8h0m43 0h0m6-5h0m-112 8h0m5 7h0m3-4h0m4 0h0m2 8h0m3-6h0m80 3h0m22-5h0m12-1h0m148 2h0m4 0h0m-274 11h0m10 6h0m7 1h0m5-2h0m5-3h0m65 3h0m176 1h0m-283 7h0m4 1h0m57 0h0m10-4h0m10 8h0m-76 8h0m8-1h0m28-4h0m5 8h0m0-4h0m21 2h0m5-2h0m24 0h0m15 4h0m2-6h0m43 7h0m-135 13h0m39-3h0m6 2h0m70-6h0m129 7h0m-244 5h0m24 0h0m39 0h0m11-3h0m-108 18h0m27 3h0m0-7h0m6-1h0m17 5h0m3-1h0m39-4h0m32 5h0m8-2h0m0-1h0m20 8h0m138-10h0m-277 18h0m10 2h0m30-8h0m15 6h0m3-5h0m26-1h0m17 7h0m1-4h0m7-2h0m9 7h0m192-4h0m-331 14h0m8-4h0m71 8h0m77-3h0m196 3h0m-333 2h0m33 7h0m300-5h0m-274 16h0m107 3h0m15 0h0m53-1h0m25-6h0m9 0h0m-301 14h0m34-4h0m4 7h0m4-7h0m8-1h0m64 8h0m36-5h0m55 6h0m3-4h0m18-1h0m24-2h0m-220 18h0m26 0h0m114-4h0m9-2h0m19-2h0m29 8h0m36 1h0m-246 4h0m179 1h0m29 2h0m16 2h0m-68 24h0m54 2h0m-223 4h0m20 19h0m153-4h0m14 3h0m33 0h0m10 4h0m-65 10h0m19 2h0m5-3h0m6 2h0m19-3h0m23-6h0m-204 13h0m24 10h0m128-9h0m14 6h0m-7 4h0m1 3h0m37-3h0m-164 14h0m13 12h0m25 2h0m21 1h0m-1 12h0"/>
<path stroke="#94fda8" d="M1074 821h0m54 12h0m-10 9h0m-72 27h0m55 1h0m116 0h0m32 0h0m-247 8h0m95 8h0m4-2h0m10 3h0m179-2h0m-265 12h0m8 0h0m38-5h0m6 4h0m7-7h0m5 10h0m5-5h0m194 5h0m-227 2h0m15 9h0m14 1h0m9-5h0m37 4h0m129-5h0m15-1h0m15 2h0m-254 16h0m9-1h0m13 2h0m6-5h0m4 2h0m204-7h0m10-1h0m-187 20h0m30-5h0m138 5h0m6-6h0m-264 12h0m46 6h0m14 2h0m2 1h0m19-9h0m2 4h0m16-3h0m0-3h0m-58 12h0m35 9h0m22-5h0m155-4h0m-213 17h0m41 4h0m23-9h0m3 8h0m20-6h0m9 2h0m132 5h0m-317 13h0m70-9h0m6 5h0m13-5h0m29 8h0m19 0h0m44-5h0m8-1h0m107 1h0m-191 15h0m1-1h0m4-5h0m23 5h0m19 3h0m22-9h0m0 5h0m4-5h0m141 8h0m5-3h0m3-2h0m-257 17h0m22 0h0m13-1h0m7-6h0m3 10h0m16-4h0m20-6h0m17 4h0m139-2h0m-239 16h0m10-3h0m9 3h0m19 3h0m13-6h0m43 2h0m167 3h0m0 0h0m-234 8h0m58-1h0m12-1h0m-127 14h0m11 5h0m5-2h0m20-2h0m23-5h0m22 7h0m18 0h0m41 3h0m4-7h0m171-2h0m-312 18h0m4-6h0m13 9h0m3 0h0m44-5h0m3 0h0m117 3h0m24 1h0m15-3h0m-240 13h0m23 3h0m24-6h0m14 1h0m11-4h0m54 5h0m5-3h0m37 1h0m14 4h0m-191 13h0m36 1h0m34-2h0m48-4h0m29-4h0m73 7h0m11 1h0m6-3h0m-242 7h0m32 10h0m13-10h0m43 10h0m51 6h0m101 5h0m12 1h0m7-1h0m-242 8h0m193 3h0m-189 9h0m184-4h0m28 4h0m-69 16h0m-146 3h0m30 9h0m145-8h0m9 3h0m17-5h0m-32 14h0m33 2h0m-133 31h0m6-3h0m49 3h0m30-3h0m8 2h0m-75 6h0m2-3h0m20 4h0m15-5h0m9 9h0m-45 5h0"/>
<path stroke="#9bfba5" d="M1129 871h0m6-1h0m-47 7h0m0 8h0m19 1h0m18-5h0m174-4h0m-289 21h0m24-7h0m1 5h0m101 2h0m144-7h0m3 3h0m-269 8h0m60 6h0m2 2h0m9-10h0m180 5h0m-210 10h0m16 4h0m41 0h0m12-1h0m158 5h0m-234 6h0m46 1h0m19-3h0m-108 16h0m19-4h0m38 4h0m13-6h0m51 6h0m9-7h0m145 4h0m-196 13h0m17 3h0m3-8h0m3 6h0m36 2h0m116-1h0m10 4h0m-237 3h0m78 4h0m11 0h0m11 5h0m24 0h0m112-8h0m9 5h0m-241 4h0m24 2h0m3 4h0m26 2h0m12-1h0m30-2h0m17-2h0m114 0h0m-244 13h0m21 4h0m27 3h0m38-9h0m155 0h0m-227 10h0m47 11h0m11-10h0m5 8h0m5-8h0m46 10h0m142-8h0m1 7h0m-267 13h0m6-3h0m49-8h0m27 8h0m2-2h0m27-6h0m142 0h0m4 6h0m4-4h0m-251 11h0m24 9h0m29-7h0m5 6h0m13-4h0m17-1h0m21 6h0m160-1h0m-302 8h0m67 0h0m48 4h0m146 2h0m-250 12h0m10-8h0m20-3h0m4 11h0m15-4h0m22 4h0m56-6h0m55 3h0m24-1h0m0 2h0m44-6h0m-231 14h0m4-5h0m11 8h0m1-1h0m11-6h0m25 3h0m28 1h0m34 0h0m2-1h0m0 7h0m35-5h0m14-6h0m15 6h0m12-5h0m-222 13h0m11 1h0m5-3h0m4 3h0m18 4h0m4-5h0m2 5h0m9-2h0m8 2h0m1-4h0m2-2h0m97 9h0m4-1h0m7-9h0m-180 21h0m25-9h0m141 3h0m72 6h0m-165 8h0m79 4h0m53-6h0m-212 11h0m109 7h0m2-2h0m53-6h0m26 3h0m4 4h0m6 2h0m-112 2h0m0 8h0m45 1h0m19-3h0m20 1h0m30 4h0m-199 10h0m14 0h0m5-9h0m135 1h0m11 9h0m10-8h0m21 9h0m3 0h0m-185 6h0m116-4h0m41-1h0m-132 22h0m105 0h0m26-10h0m23 1h0m-170 12h0m7 1h0m19 4h0m125 2h0m-103 13h0m78-9h0m26 0h0m-65 13h0m20 1h0"/>
<path stroke="#a0faa1" d="M1136 873h0m9-3h0m139 10h0m-6 12h0m1-3h0m13 6h0m-225 12h0m36-1h0m-26 13h0m17-2h0m166 4h0m1 0h0m5-3h0m4 4h0m-147 12h0m2-2h0m20-3h0m-71 18h0m63-1h0m23-3h0m-45 15h0m26-10h0m114 6h0m16-1h0m-239 18h0m16-7h0m49 6h0m1-4h0m11 3h0m3-4h0m11 5h0m19-6h0m1 5h0m-32 3h0m22 5h0m-72 8h0m20 0h0m62 4h0m9-4h0m126 6h0m-239 11h0m12 4h0m33-7h0m0 8h0m5-3h0m7 0h0m28-8h0m0 10h0m140-8h0m-200 11h0m38 2h0m17-1h0m10 5h0m11-5h0m1 9h0m-117 12h0m10-1h0m46 0h0m1 0h0m6-2h0m20 2h0m179-7h0m22 2h0m-284 13h0m28-1h0m15-4h0m42 4h0m-60 17h0m20-9h0m61 2h0m63 1h0m5 1h0m0 5h0m22-3h0m-177 14h0m11-4h0m42 6h0m31-9h0m-135 14h0m20 6h0m41 0h0m22-5h0m30 2h0m18-7h0m6 0h0m7 5h0m2 4h0m3-8h0m10 7h0m12 3h0m9-10h0m-190 21h0m18-1h0m30-6h0m9 6h0m7-6h0m42-2h0m28 0h0m6 9h0m28-9h0m0 7h0m19 2h0m-130 11h0m19-3h0m3-2h0m1 5h0m44-1h0m16-4h0m59-3h0m11 10h0m17-8h0m-184 11h0m22 5h0m35-3h0m50-1h0m1-1h0m5 4h0m38 2h0m0 1h0m8-1h0m-109 8h0m33 4h0m7 1h0m3-4h0m3-3h0m34 2h0m-155 12h0m7 6h0m4-3h0m95-5h0m9 6h0m6 1h0m1-3h0m36-4h0m-24 15h0m-125 17h0m19 8h0m90-2h0m23 4h0m1-3h0m-42 17h0m12-7h0m-48 17h0m28 7h0"/>
<path stroke="#a6f89d" d="M1148 870h0m15 0h0m103 4h0m-143 6h0m1 0h0m1 5h0m-31 15h0m24 7h0m157-1h0m-189 7h0m57 2h0m121-1h0m-10 17h0m3 16h0m-247 21h0m43-4h0m67 5h0m21-1h0m12 3h0m9-11h0m-29 12h0m27 1h0m95 9h0m12-4h0m14 3h0m-132 4h0m4 2h0m2-1h0m-113 17h0m38 4h0m41-10h0m9 10h0m-9 6h0m10 4h0m-45 10h0m13-4h0m6 4h0m0 4h0m9-6h0m178 6h0m-264 11h0m57-8h0m11 3h0m1 6h0m33-7h0m21 7h0m115 0h0m-248 10h0m12-1h0m17-8h0m40 7h0m6 0h0m2 3h0m57-6h0m1 1h0m19 5h0m47-5h0m-213 14h0m9 2h0m2-5h0m3-4h0m42 0h0m20 10h0m0-3h0m23 2h0m22 1h0m6-1h0m1-4h0m36 4h0m25-3h0m-182 13h0m43-1h0m9 3h0m3-5h0m0 2h0m12 5h0m1-2h0m7-2h0m9-5h0m12-1h0m58 8h0m-163 6h0m8 0h0m51-1h0m4 4h0m28 2h0m33-3h0m9 3h0m19 1h0m14 1h0m-179 2h0m37 11h0m9-6h0m62 5h0m4-3h0m5-7h0m3 0h0m-70 13h0m14-1h0m2 3h0m19-1h0m8 3h0m7 1h0m24 2h0m41-6h0m-158 11h0m45 5h0m5-3h0m8-2h0m21 8h0m9-4h0m16 4h0m36-3h0m5-5h0m-143 12h0m12 8h0m54 0h0m30 0h0m13-7h0m25 8h0m-83 3h0m46 5h0m2 1h0m13-2h0m7-4h0m43 2h0m-148 12h0m8 5h0m6-6h0m59-2h0m37 9h0m9-5h0m-103 9h0m114 4h0m-76 16h0m8-1h0m1 2h0"/>
<path stroke="#acf59a" d="M1170 870h0m9 0h0m90 3h0m-133 8h0m-10 17h0m142-8h0m-135 13h0m9 5h0m131-1h0m-142 27h0m15 0h0m111 6h0m-100 12h0m6-4h0m7 9h0m-125 7h0m120 4h0m82-5h0m6-3h0m-99 20h0m3 1h0m-4 6h0m105 3h0m10 1h0m-147 16h0m26-7h0m116 5h0m-164 13h0m49-2h0m-40 4h0m38 6h0m-90 9h0m60 8h0m30-11h0m138 5h0m8-4h0m-248 14h0m13-2h0m63 1h0m23 4h0m8-5h0m26 2h0m59 0h0m-216 16h0m2-6h0m17 10h0m30-8h0m11 1h0m111-4h0m-157 22h0m19-9h0m-49 11h0m0 11h0m55-1h0m1-4h0m19-2h0m5 1h0m19-2h0m10 0h0m14 5h0m36 0h0m-153 13h0m17-6h0m9-2h0m8 0h0m11-1h0m12 5h0m48 4h0m37-6h0m14 2h0m-134 10h0m20-3h0m1 3h0m9 3h0m60-1h0m21 2h0m34-1h0m-172 9h0m38-1h0m9 0h0m46-2h0m-90 15h0m6 8h0m82 0h0m35-8h0m21 5h0m-127 12h0m53-3h0m9 0h0m4 3h0m14-4h0m29-4h0m-91 22h0m70-4h0m4 4h0m-45 17h0m43-2h0m8 4h0"/>
<path stroke="#b2f396" d="M1120 872h0m96 0h0m54 11h0m-118 32h0m-70 17h0m73-2h0m-4 6h0m95 6h0m13-6h0m11 11h0m-24 15h0m18 30h0m-108 10h0m109 3h0m3-7h0m2 8h0m-159 7h0m165 1h0m-140 14h0m3-1h0m144-3h0m-195 19h0m1-7h0m7 1h0m27 3h0m156-4h0m-191 14h0m102-4h0m-129 12h0m-49 19h0m21-9h0m47 4h0m3-1h0m6 1h0m5 7h0m30-10h0m-108 16h0m33-1h0m5 2h0m21-1h0m31 3h0m-108 4h0m27 5h0m43-1h0m6-1h0m1 3h0m0 4h0m25-7h0m29 0h0m38-2h0m-175 12h0m48 6h0m23 2h0m96-3h0m-165 8h0m79-1h0m19 0h0m1 1h0m21-1h0m8 3h0m9 5h0m-106 14h0m46-3h0m1-2h0m2 4h0m9-4h0m37 3h0m18 0h0m14 1h0m-61 13h0m-45 19h0m27 1h0m35-1h0m2-1h0m10 4h0m-27 13h0m16-10h0m-38 15h0"/>
<path stroke="#b9ef92" d="M1132 903h0m126 11h0m-90 36h0m2 2h0m0 30h0m77-7h0m-74 25h0m94 4h0m-116 4h0m13 4h0m109 5h0m3 1h0m-125 8h0m115 8h0m-83 15h0m29-3h0m17 0h0m44-2h0m-190 32h0m2-3h0m35 0h0m-110 9h0m2 3h0m30 0h0m48 2h0m52-6h0m7 5h0m-118 12h0m1 4h0m96-6h0m-136 12h0m32 1h0m56-4h0m104 1h0m-154 10h0m2 2h0m10 7h0m0-4h0m-29 16h0m7 1h0m59-6h0m-64 9h0m60 10h0m-40 7h0m44-6h0m16 3h0m12 14h0m8 4h0m3 2h0m-52 9h0"/>
<path stroke="#beec8e" d="M1150 873h0m62 1h0m25 1h0m-102 14h0m12 21h0m97 1h0m3 5h0m-84 28h0m89 9h0m-93 17h0m10 10h0m-4 24h0m0 3h0m96-3h0m-89 4h0m-19 23h0m2-6h0m0 3h0m9 0h0m-77 15h0m64-8h0m7 2h0m13 7h0m-142 33h0m36 0h0m-61 8h0m35 9h0m41 1h0m-63 16h0m37-3h0m-61 18h0m14-5h0m4 3h0m24 2h0m35-9h0m32 1h0m-39 17h0m16-6h0m4 1h0m-52 20h0m13-7h0m2 7h0m23-2h0m3-3h0m13 1h0m7 4h0m-18 2h0m7 0h0m4 2h0m7 5h0m-44 16h0m30-3h0m0 7h0m3 3h0m8-1h0"/>
<path stroke="#c4e88a" d="M1135 875h0m99-1h0m-90 16h0m3 5h0m5-5h0m99 15h0m1-3h0m-98 25h0m12 9h0m73 7h0m-1 10h0m11-1h0m-78 8h0m11 0h0m62 4h0m-75 10h0m84 38h0m9 12h0m1 4h0m5 3h0m-84 11h0m62 2h0m-153 35h0m-27 13h0m14 7h0m-60 21h0m-2 19h0m13-9h0m2 5h0m10 5h0m16 11h0m10-1h0m0-4h0m2 3h0m5-3h0m2 0h0m11 4h0m0 6h0m-43 14h0m33 1h0m20 0h0"/>
<path stroke="#cbe486" d="M1144 877h0m100 7h0m11 3h0m1-8h0m-7 22h0m-106 18h0m18 9h0m71 7h0m7 5h0m-72 52h0m2 3h0m-3 8h0m84-7h0m1 14h0m11 4h0m-88 9h0m82-2h0m-71 21h0m-3 2h0m-139 86h0m-8 16h0m2 1h0m-1 8h0m34 0h0m1 7h0m-5 4h0m28 5h0m18-7h0m10 7h0"/>
<path stroke="#d0e082" d="M1203 875h0m-67 3h0m12 2h0m7-4h0m74 6h0m18-2h0m1 30h0m-79 22h0m6 9h0m3 18h0m0-10h0m61 34h0m1 3h0m2 5h0m14 13h0m-87 8h0m5 0h0m-7 14h0m-3 8h0m18 7h0m39 1h0m18 1h0m-223 63h0m10 5h0m-18 9h0m18-1h0m-10 9h0m9 4h0m2 1h0m19 2h0m53 26h0m-25 6h0"/>
<path stroke="#d9da7d" d="M1189 874h0m7 6h0m1-2h0m9-1h0m21 7h0m31 2h0m-8 15h0m4 1h0m-89 20h0m75-9h0m-21 38h0m-45 42h0m2 6h0m63 0h0m-75 12h0m4 15h0m82 1h0m7-5h0m-84 18h0m-136 85h0m-2 8h0m11 19h0"/>
<path stroke="#ded579" d="M1241 876h0m-103 12h0m72 3h0m25 23h0m-62 16h0m54 1h0m8-6h0m-55 22h0m3-8h0m47 6h0m-48 23h0m-9 10h0m2 14h0m68 14h0m11-5h0m-80 7h0m71 6h0m3 22h0m3-1h0m-209 113h0"/>
<path stroke="#e4cf74" d="M1174 875h0m-24 7h0m15-4h0m4-2h0m4 3h0m35 2h0m38 4h0m-29 3h0m6 8h0m1-4h0m-72 13h0m4-3h0m4 9h0m1-2h0m60 4h0m9 6h0m-53 11h0m6 3h0m40 0h0m-38 11h0m39 2h0m4 0h0m10-10h0m-13 25h0m-46 42h0m6-3h0m-4 8h0m66 10h0m5 7h0m-84 10h0m88-1h0"/>
<path stroke="#ebca70" d="M1171 878h0m25 8h0m0-6h0m42 5h0m-82 8h0m2 10h0m71 1h0m11-4h0m-63 33h0m41-9h0m-1 18h0m6-3h0m-5 9h0m-25 30h0m26 4h0m-40 22h0m61 2h0m-29 35h0m23 1h0"/>
<path stroke="#f0c46c" d="M1206 883h0m-48 11h0m1-1h0m33 2h0m35-5h0m11 4h0m1 3h0m-77 14h0m70-8h0m9-2h0m-70 13h0m2 1h0m6 5h0m1-4h0m2 6h0m41 9h0m-36 8h0m-3 40h0m1 2h0m1 0h0m53 16h0m-62 19h0m2-7h0m3 3h0m1 2h0m7-4h0m54 9h0m-60 13h0m19 7h0m45-3h0m4 0h0"/>
<path stroke="#f6be68" d="M1224 883h0m-29 16h0m1-1h0m13-6h0m17 3h0m15-4h0m-78 12h0m59 1h0m-3 34h0m3 20h0m-30 3h0m3 8h0m14-6h0m-11 18h0m6-3h0m3-4h0m11 6h0m-11 6h0m-26 18h0m4 11h0m14 4h0m-14 15h0m3-2h0m5 3h0m31 5h0m22-2h0"/>
<path stroke="#fcb763" d="M1203 885h0m-37 10h0m31-4h0m23 8h0m-10 5h0m1 4h0m5-6h0m6 3h0m-9 34h0m-23 35h0m7 3h0m9-3h0m5 2h0m5-3h0m-19 18h0m-10 22h0m-1 9h0m49-1h0m-45 13h0m5 3h0m37-3h0"/>
<path stroke="#ffb05f" d="M1220 895h0m7 0h0m-52 16h0m25-9h0m-9 47h0m20 25h0m-22 20h0m3-4h0m30-2h0m1 0h0m5 27h0m5 8h0m3-1h0m6 2h0m-38 9h0m19 3h0"/>
<path stroke="#ffa95b" d="M1183 888h0m10 10h0m20 20h0m-2 14h0m3 26h0m-14 19h0m12 4h0m6-7h0m-24 20h0m23-3h0m-23 10h0m27 1h0m-31 14h0m0 4h0m44 2h0m-2 10h0"/>
<path stroke="#ffa256" d="M1187 904h0m17 3h0m0-3h0m-16 11h0m13 11h0m4 9h0m12 12h0m-13 20h0m-20 38h0m15 14h0m6 3h0m4-1h0m-4 18h0m6-7h0"/>
<path stroke="#ff9b52" d="M1180 891h0m27 22h0m-4 18h0m3 45h0m17 24h0"/>
<path stroke="#ff934d" d="M1221 994h0m-25 16h0m5 0h0m1 7h0m25-5h0"/>
<path stroke="#ff8c49" d="M1202 928h0m19 102h0m7-10h0"/>
<path stroke="#ff8444" d="M1199 917h0"/>
<path stroke="#ff793e" d="M1176 898h0"/>
<path stroke="#ff703a" d="M1210 1018h0m9 2h0"/>
</g>
<g fill="none" stroke-linecap="round" transform="scale(0.5)">
<g stroke="#06aeed" stroke-width="7.0"><path id="ba0" d="M1274 725h0m-223 14h0m291 48h0m-44 14h0m59 14h0m36 0h0m-25 11h0m15-5h0m10 8h0m-457 26h0m484 17h0m-45 11h0m15 11h0m-22 6h0m46 6h0m18 33h0m-68 20h0m40 22h0"/></g><use href="#ba0" stroke="#3dc0f1" stroke-width="1.8"/>
<g stroke="#00b5eb" stroke-width="7.0"><path id="ba1" d="M1173 706h0m8-1h0m-81 13h0m60-5h0m42-1h0m-111 17h0m37-3h0m153 0h0m4-1h0m33 6h0m-274 4h0m8 6h0m147-7h0m128 4h0m-300 13h0m310 3h0m-346 9h0m12 4h0m265-8h0m47 7h0m-336 8h0m279 1h0m43 2h0m12-6h0m71 18h0m3-5h0m-70 16h0m6-4h0m37 3h0m1 3h0m-32 9h0m33-5h0m17 4h0m7 2h0m4-7h0m2 2h0m-63 14h0m32 4h0m8-6h0m15-1h0m-141 15h0m67 6h0m54-7h0m17 12h0m-435 15h0m397 2h0m5 0h0m-402 4h0m13 4h0m464-3h0m-40 13h0m22 1h0m-9 8h0m4 6h0m1 3h0m2-9h0m-10 23h0m25 0h0m5-6h0m-49 15h0m20-1h0m-52 5h0m52 6h0m26-2h0m-106 18h0m21-6h0m53-1h0m42 1h0m6 2h0m-80 17h0m20-10h0m23 10h0m-77 10h0m28 2h0m53-8h0m34-3h0m3 6h0m-108 9h0m56 4h0m20 2h0m8 1h0m16-9h0m-67 44h0m37 1h0m2-4h0m5 0h0m0-4h0m8-1h0m-34 18h0m3 1h0m6 1h0m17 1h0m-23 13h0m1-2h0m17-2h0m12-5h0m-36 15h0m-11 12h0m30-4h0m22 9h0m-81 9h0m52 1h0m-421 22h0m400 12h0"/></g><use href="#ba1" stroke="#38c5ef" stroke-width="1.8"/>
<g stroke="#07bbea" stroke-width="7.0"><path id="ba2" d="M1220 707h0m13-2h0m-138 11h0m10-3h0m40 1h0m35 0h0m33-4h0m28 2h0m14 1h0m11-2h0m-200 20h0m12-9h0m33 3h0m2 0h0m2-2h0m20 5h0m22-3h0m9 1h0m0 3h0m20-9h0m9 3h0m30 4h0m23-1h0m3-6h0m18 8h0m11 3h0m22-5h0m-271 13h0m12-4h0m39 4h0m3-2h0m15-1h0m20 1h0m22-2h0m21 3h0m31-4h0m37-2h0m4 3h0m11 4h0m4-4h0m2 2h0m18 5h0m3-9h0m9-1h0m0 5h0m4 2h0m2-6h0m25 6h0m15-1h0m1 1h0m5 3h0m-325 6h0m20-1h0m0-2h0m1 9h0m53-10h0m89 2h0m2 7h0m37 0h0m8-8h0m72 5h0m25 0h0m12-4h0m4 2h0m22 7h0m-364 4h0m194-3h0m57 2h0m69-2h0m3 10h0m17-2h0m15 0h0m3-4h0m5 5h0m5-3h0m-379 6h0m2 1h0m279-1h0m6 3h0m11 1h0m13-3h0m1 3h0m17 4h0m7 0h0m42-3h0m20 2h0m3 3h0m-122 6h0m45 7h0m8-1h0m23-6h0m13 3h0m6-6h0m11 10h0m-393 12h0m4-2h0m326-8h0m40 2h0m4-2h0m10 6h0m-385 11h0m379-2h0m4 3h0m4 2h0m24-5h0m1-2h0m2 3h0m-419 7h0m2 0h0m342 5h0m46 4h0m5-6h0m2 8h0m33-6h0m4-4h0m-123 12h0m4 6h0m14-5h0m34 7h0m51 0h0m1 0h0m7-5h0m27 4h0m-465 9h0m321-2h0m7 7h0m12-6h0m33-1h0m14 4h0m31-7h0m6 6h0m26-6h0m6 2h0m10 7h0m2 1h0m-469 12h0m332-7h0m5-2h0m44 1h0m22 6h0m60-1h0m-468 11h0m398-3h0m4-2h0m18 10h0m8-7h0m28 1h0m8 4h0m-32 14h0m33-8h0m3 7h0m0-10h0m13 11h0m-491 6h0m425-3h0m16-2h0m6 8h0m8-4h0m8 2h0m3-5h0m11 9h0m14-7h0m-83 9h0m6 8h0m18-7h0m31 1h0m10 9h0m0-5h0m2-4h0m10 4h0m2 4h0m-82 7h0m4-5h0m31 3h0m9 7h0m0-3h0m6-4h0m8 8h0m22-3h0m11-1h0m-106 15h0m57-7h0m1-2h0m7 4h0m2-3h0m22 8h0m1-1h0m15-1h0m5-7h0m-494 18h0m412 0h0m0-3h0m27-3h0m1 10h0m2-11h0m7 3h0m12 6h0m0-3h0m2-4h0m3 3h0m14 0h0m-485 18h0m435-4h0m40-1h0m3 0h0m4 0h0m6-5h0m4 2h0m1 7h0m5-2h0m2-6h0m-97 19h0m6 1h0m11-9h0m29 6h0m0 4h0m50-5h0m-116 7h0m19 8h0m20 1h0m1-3h0m2-4h0m4 3h0m2-6h0m2 2h0m19 7h0m16-6h0m0 1h0m1-2h0m16 4h0m14-4h0m-487 21h0m390-10h0m5 7h0m14-5h0m12 6h0m32-2h0m22-6h0m2 8h0m8-1h0m0-5h0m4 8h0m5 0h0m-107 8h0m3-1h0m18-6h0m36 10h0m10 1h0m16-9h0m9 1h0m3 0h0m3-1h0m9 0h0m-493 20h0m394-5h0m10-4h0m6 0h0m17 8h0m0-2h0m4-6h0m28 8h0m8-2h0m13-2h0m-55 8h0m2 5h0m0-2h0m56 3h0m-485 14h0m5-8h0m405 6h0m3-5h0m40 1h0m12 6h0m4-3h0m4 5h0m4-3h0m-105 13h0m25 2h0m46-7h0m23 4h0m12 2h0m-46 6h0m10 5h0m8-1h0m3-1h0m22-2h0m-102 14h0m16-2h0m19-2h0m14 0h0m11 1h0m8-2h0m1 7h0m10 1h0m4 3h0m5 10h0m3-8h0m-93 9h0m69 0h0m2 9h0m19-7h0m9-2h0m2 1h0m-41 22h0m35-10h0m-22 18h0m-55 5h0m28 11h0m-13 4h0m-35 19h0m14-4h0m11 3h0m29 0h0m-76 11h0m-265 5h0m248 16h0"/></g><use href="#ba2" stroke="#3ecaef" stroke-width="1.8"/>
<g stroke="#0dc2e8" stroke-width="7.0"><path id="ba3" d="M1098 717h0m15-3h0m36-1h0m11 0h0m27 5h0m9-4h0m31-5h0m28 4h0m4 1h0m-199 9h0m2-1h0m4 4h0m20-6h0m0 6h0m0 2h0m41 3h0m77-4h0m3-3h0m14 4h0m9-8h0m8 5h0m11-3h0m2 6h0m13 0h0m17 2h0m15-4h0m1 3h0m2 2h0m-257 7h0m12-6h0m27 1h0m78 10h0m10-1h0m5 1h0m53-9h0m10 7h0m11-1h0m57-3h0m25 2h0m-300 5h0m11 1h0m17 4h0m32 6h0m18-1h0m101-6h0m50-4h0m6 11h0m14-10h0m11 3h0m19 6h0m0 0h0m24-9h0m12 6h0m1 1h0m-357 14h0m225-3h0m47-2h0m8-5h0m22 0h0m19 6h0m7 2h0m4 2h0m1-8h0m1-2h0m1 0h0m3 2h0m19 3h0m1-5h0m19 9h0m-376 14h0m0-8h0m8 5h0m35-3h0m215-2h0m30-3h0m20 0h0m21 3h0m2 2h0m11 5h0m15-1h0m7 1h0m6 0h0m3-7h0m4 1h0m-398 19h0m284-4h0m5 3h0m24-5h0m27-5h0m1 6h0m4 3h0m12-8h0m2 1h0m14 1h0m0 5h0m3 3h0m9-3h0m14 2h0m9-6h0m-423 18h0m1-6h0m7-4h0m291 1h0m11 0h0m2 8h0m5 2h0m21-6h0m2 2h0m2-4h0m1 5h0m62-2h0m5 1h0m7-1h0m25-4h0m-435 17h0m2-3h0m336 3h0m33-3h0m7 5h0m14-7h0m2 2h0m15 1h0m13-1h0m6 5h0m1-5h0m17 4h0m-426 4h0m299 5h0m47 6h0m11-8h0m15 5h0m5-5h0m11 7h0m1-9h0m7 3h0m26-1h0m5-3h0m-102 19h0m3 2h0m8-2h0m23-7h0m9 9h0m7-2h0m8-4h0m5 2h0m18 4h0m2-8h0m1-1h0m-445 17h0m3 5h0m4 0h0m318-2h0m34 2h0m5 0h0m12-1h0m7 1h0m1-1h0m0-1h0m0 2h0m3-8h0m9 4h0m0-5h0m9 8h0m3 2h0m5-8h0m40 5h0m11-4h0m9-1h0m-481 14h0m342-5h0m17 3h0m22 3h0m1 2h0m6 1h0m3-9h0m5 11h0m19-11h0m1 1h0m6 8h0m3-8h0m7 1h0m1 7h0m4-4h0m3 1h0m2 4h0m9-8h0m-457 17h0m10-1h0m399-3h0m8 8h0m37-11h0m8 7h0m2 4h0m13-11h0m4 3h0m-462 17h0m2-2h0m406 4h0m2-3h0m7-7h0m5 2h0m4-2h0m1 1h0m16-1h0m4 3h0m6 4h0m11 0h0m-81 10h0m16-2h0m18 7h0m2-2h0m28 2h0m8-6h0m2-4h0m8 5h0m11 6h0m1-10h0m4-1h0m-500 23h0m17-4h0m416 2h0m1-7h0m0-1h0m2 6h0m0-2h0m16-4h0m3 8h0m2-3h0m2-5h0m3 7h0m7-1h0m7 2h0m9-7h0m10 0h0m-497 15h0m399 3h0m7-2h0m51-1h0m14-3h0m0 0h0m7 3h0m12-1h0m4 5h0m3-6h0m1 5h0m0 0h0m-498 9h0m14-1h0m373 6h0m23-5h0m13 0h0m2 2h0m9-5h0m10-2h0m5 0h0m20 5h0m7-3h0m3-1h0m-472 22h0m9-9h0m400 8h0m10-2h0m0-6h0m3 4h0m4 2h0m23 0h0m6-5h0m21-1h0m24 8h0m-58 4h0m7-2h0m1 11h0m6-4h0m2-2h0m4 2h0m6-2h0m12 1h0m6 1h0m7-3h0m0-3h0m7 0h0m-65 13h0m7 9h0m5-10h0m18 1h0m2 7h0m8 0h0m11 2h0m4-2h0m13-2h0m-101 15h0m2 0h0m7-5h0m5 4h0m12-7h0m4 3h0m12-5h0m3 10h0m34-7h0m3 1h0m-481 16h0m394-8h0m8 7h0m13 1h0m12-7h0m1 6h0m9 2h0m6 1h0m1-9h0m0 3h0m23 5h0m7-5h0m16 6h0m-93 3h0m23 9h0m20 1h0m17 0h0m35-2h0m-77 10h0m1-5h0m13 8h0m1-7h0m4 1h0m2 6h0m5-10h0m1 1h0m11 7h0m3 0h0m2-2h0m10 5h0m4-1h0m13 0h0m-74 10h0m10-5h0m9 1h0m2 7h0m3 0h0m1-8h0m7 5h0m18 2h0m2 0h0m1-6h0m5-4h0m4 8h0m3-1h0m23-6h0m-92 15h0m7-3h0m2 10h0m8-1h0m38-3h0m2 1h0m1 3h0m1-3h0m5-5h0m-72 13h0m11 1h0m19-3h0m2-2h0m4 10h0m31-3h0m5 3h0m13-5h0m2-5h0m4 10h0m4-10h0m-122 20h0m9 3h0m23 0h0m2-8h0m8-2h0m3 8h0m3 0h0m28-8h0m11 2h0m15 8h0m10-5h0m3 4h0m-483 7h0m376-1h0m24 4h0m6 0h0m2 3h0m7-2h0m1-5h0m11 5h0m23 2h0m2-3h0m22 2h0m4-9h0m4-1h0m-483 12h0m8 7h0m22 3h0m355-7h0m2-2h0m10 6h0m6-6h0m6 0h0m17 10h0m8-11h0m18 4h0m3 1h0m7-1h0m10-4h0m9 2h0m-469 13h0m13 5h0m371-5h0m25-3h0m13 3h0m12 7h0m22-10h0m8 3h0m-107 17h0m3-7h0m31 3h0m11 1h0m0-4h0m36 4h0m8-4h0m3 6h0m-419 10h0m347-2h0m15 1h0m7 6h0m21-2h0m7 3h0m7-7h0m4 2h0m2-5h0m-98 20h0m15-6h0m49 3h0m12-5h0m7 1h0m-101 17h0m26 3h0m2 1h0m35-7h0m4 5h0m-56 13h0m49-3h0m9-1h0m7-1h0m15 0h0m-117 15h0m35 2h0m14-8h0m10 2h0m43 4h0m4-3h0m-69 10h0m24 3h0m-234 8h0m178 3h0m-41 16h0m8-6h0m82-3h0m-185 13h0m28 9h0m26 0h0"/></g><use href="#ba3" stroke="#42cfed" stroke-width="1.8"/>
<g stroke="#12c8e6" stroke-width="7.0"><path id="ba4" d="M1090 717h0m26-5h0m21-2h0m15 8h0m66-3h0m34 2h0m1-4h0m19 3h0m-203 11h0m12 4h0m3-9h0m74-1h0m59-1h0m16 10h0m66-6h0m-257 16h0m203 2h0m13 1h0m20-3h0m16-4h0m-283 15h0m16 1h0m45 0h0m19 0h0m12-5h0m145 5h0m31 3h0m20-5h0m3 4h0m12 1h0m21-6h0m5 0h0m-16 8h0m4 8h0m9 0h0m6-4h0m-359 11h0m31 1h0m250 0h0m13-5h0m26 4h0m17 7h0m16-8h0m18-1h0m-392 19h0m330-7h0m8 9h0m38-10h0m45 6h0m13 4h0m-94 10h0m6-9h0m17 6h0m53-2h0m12 4h0m-129 9h0m81-3h0m17 1h0m1-1h0m39 3h0m-58 18h0m2-8h0m50-1h0m5 4h0m-107 13h0m14-6h0m1 5h0m7-2h0m14 6h0m36 0h0m6-8h0m3 9h0m19-8h0m-78 10h0m34 0h0m23 0h0m11 9h0m32-10h0m-473 12h0m0 11h0m1-4h0m382-1h0m12-2h0m35-1h0m11-2h0m12-1h0m-444 13h0m421 10h0m21-6h0m24 6h0m-479 7h0m403 1h0m45 4h0m4-10h0m14 0h0m5 0h0m-53 20h0m7-6h0m39 7h0m9-9h0m5 6h0m-51 16h0m9-1h0m28-3h0m26 0h0m-75 6h0m6 7h0m56-2h0m14-2h0m1-1h0m-45 12h0m16-3h0m24 7h0m-110 9h0m47 2h0m2-5h0m15 1h0m15-1h0m3 3h0m6-1h0m29 5h0m-50 10h0m-59 8h0m20 8h0m37-8h0m10 5h0m48 2h0m-114 12h0m46 12h0m9-4h0m16 6h0m-456 6h0m384-5h0m49 11h0m19-6h0m15 3h0m9 1h0m-67 14h0m21 0h0m1 0h0m4-2h0m0-3h0m12 3h0m4-6h0m-441 11h0m438 0h0m3 9h0m6-3h0m2 0h0m11-1h0m5 3h0m1-10h0m-480 18h0m418 2h0m11 0h0m14-7h0m30 2h0m12 3h0m5 0h0m-485 7h0m13 5h0m410 5h0m9-3h0m17-8h0m17 6h0m22 0h0m5 4h0m-487 8h0m17-5h0m355 10h0m4-7h0m6 4h0m32 3h0m19-2h0m31-4h0m23-3h0m-475 16h0m402-6h0m6 5h0m5 4h0m19-7h0m13 4h0m-80 13h0m23-5h0m4 5h0m9-6h0m16 0h0m13 6h0m25-1h0m11 3h0m-120 4h0m8 0h0m22 9h0m14-10h0m21 10h0m2 1h0m19-2h0m26-3h0m-98 15h0m6-6h0m0 4h0m22 3h0m12-5h0m17 1h0m12 0h0m1 2h0m16-2h0m7 0h0m-35 11h0m8 2h0m8 1h0m5-6h0m-26 21h0m18-7h0m3-2h0m0-1h0m-392 13h0m321 7h0m0-4h0m7 2h0m2 3h0m6-3h0m4 0h0m4 1h0m4-7h0m-14 16h0m12 3h0m-282 10h0m220-2h0m17-1h0m7 6h0m2-8h0m17-1h0m17 6h0m2 2h0m14-4h0m-75 8h0m10 6h0m20 2h0m22-6h0m3 8h0m-96 12h0m61-5h0m0-4h0m15 0h0m14 0h0m-105 16h0m63-4h0m-135 20h0m96-6h0"/></g><use href="#ba4" stroke="#46d4ec" stroke-width="1.8"/>
<g stroke="#18cde4" stroke-width="7.0"><path id="ba5" d="M1131 713h0m77 0h0m-115 13h0m185-1h0m16 11h0m-294 29h0m333-5h0m-335 16h0m285 11h0m56 0h0m-46 20h0m9 12h0m4 6h0m96 12h0m-9 49h0m-10 8h0m-40 15h0m62-6h0m9 4h0m-40 13h0m6-8h0m37 5h0m-56 17h0m43 5h0m-2 16h0m20-2h0m-28 23h0m9-4h0m25 4h0m-6 52h0m-11 15h0m27-10h0m-77 16h0m60 4h0m-48 5h0m32 0h0m15 21h0m-105 12h0m81-4h0m-92 8h0m91-1h0m3 5h0m2 6h0m-71 12h0m19-1h0m9 8h0m25-4h0m-79 19h0m43-4h0m15 2h0m-56 10h0m40-7h0m21 8h0m5-8h0m-64 22h0m50-1h0m-54 14h0m6-10h0m14 5h0m0-4h0m12 4h0m23 0h0m-76 14h0m1-1h0m45-7h0m-219 13h0m67 8h0m24 2h0m63-2h0m46 0h0m-87 6h0m15 6h0m40 1h0m-177 3h0m31 3h0m105-2h0m9 2h0"/></g><use href="#ba5" stroke="#4bd8ea" stroke-width="1.8"/>
<g stroke="#1fd3e1" stroke-width="7.0"><path id="ba6" d="M1360 1049h0m32 23h0m-37 18h0m-35 28h0m23 35h0m5 0h0m-40 13h0m33 0h0m-18 16h0m-69 21h0m5 4h0m-132 13h0"/></g><use href="#ba6" stroke="#50dde8" stroke-width="1.8"/>
</g>
<g fill="none" stroke-linecap="round" stroke-width="6.6" transform="scale(0.5)" opacity="0.85">
<path stroke="#0dc2e8" d="M1369 1163h0"/>
<path stroke="#12c8e6" d="M1153 706h0m66 0h0m192 102h0m-7 134h0m21 76h0m13 6h0m-4 29h0m-34 76h0"/>
<path stroke="#18cde4" d="M1281 722h0m28 11h0m38 19h0m-17 13h0m28-3h0m-389 15h0m461 97h0m-1 17h0m6 13h0m-32 9h0m-31 27h0m23 44h0m39 54h0m-21 59h0m-14 30h0m-143 87h0m-81 10h0"/>
<path stroke="#1fd3e1" d="M1309 729h0m63 49h0m7 1h0m-37 5h0m0 31h0m60 5h0m11 12h0m1 26h0m12 12h0m-46 21h0m43-3h0m-27 18h0m15 0h0m-38 21h0m15 15h0m5 15h0m33-4h0m10 3h0m-75 15h0m3-2h0m27-4h0m-18 8h0m67 9h0m-53 17h0m52 6h0m3-2h0m-93 19h0m86 1h0m-20 46h0m-18 21h0m12 25h0m-26 6h0m-9 27h0m-136 69h0m13-3h0"/>
<path stroke="#24d8df" d="M1209 705h0m47 3h0m25 17h0m19-1h0m9 23h0m11 6h0m21-5h0m26 31h0m-11 20h0m23-5h0m16 3h0m-11 11h0m-39 8h0m18 5h0m-38 13h0m79-4h0m5 17h0m8-6h0m4 9h0m-489 13h0m444-1h0m11 1h0m36-11h0m-85 14h0m36 1h0m5 2h0m17-3h0m18-2h0m-43 12h0m35 0h0m-63 15h0m28 4h0m16-3h0m-16 18h0m12 19h0m3 1h0m36 17h0m3-3h0m-47 21h0m17 1h0m8 4h0m36 1h0m-78 4h0m11 4h0m27 15h0m24-3h0m8-4h0m5 8h0m2-2h0m-512 12h0m471-1h0m11-7h0m31-1h0m-64 16h0m2 5h0m43-1h0m-55 10h0m39-4h0m9 6h0m17-8h0m-499 22h0m441-9h0m19 1h0m3 2h0m1-3h0m6 2h0m-1 13h0m1 12h0m-12 19h0m9-10h0m5 3h0m13 22h0m-4 15h0m-36 45h0m-257 64h0m147-6h0"/>
<path stroke="#2ddedc" d="M1089 718h0m105-5h0m99 7h0m-1 17h0m-157 11h0m142-4h0m52 1h0m6 4h0m-342 8h0m0-1h0m1 1h0m323 7h0m22-5h0m23 2h0m-6 15h0m17 3h0m7-5h0m-40 15h0m6-9h0m18 3h0m10 4h0m-68 13h0m28-5h0m65 4h0m-96 11h0m49 4h0m5 0h0m42-6h0m-78 13h0m67 5h0m-13 4h0m-14 20h0m25-7h0m31 1h0m-141 10h0m98 0h0m6 10h0m31 2h0m6 2h0m4 3h0m-50 7h0m28 4h0m-19 16h0m16-4h0m9-4h0m9 5h0m11-2h0m6-4h0m-69 16h0m9-3h0m28 0h0m-13 21h0m8 6h0m41 3h0m1-4h0m-20 15h0m-76 15h0m44-8h0m13 7h0m-42 11h0m8-5h0m10 3h0m7 4h0m2 0h0m10-7h0m12 4h0m3-6h0m13 2h0m-76 30h0m27-8h0m0 3h0m16 0h0m6 0h0m39 0h0m-77 9h0m20 10h0m-14 12h0m17-4h0m55-4h0m-53 20h0m54-7h0m-70 19h0m47-6h0m-48 14h0m5 1h0m39-3h0m6 4h0m-58 13h0m4 1h0m36 0h0m-20 4h0m0 7h0m33-2h0m13 2h0m-55 10h0m23 3h0m3-11h0m13 7h0m10-5h0m-90 12h0m42-1h0m3 10h0m25-8h0m0-3h0m-36 12h0m-23 17h0m45-1h0m14 6h0m-3 8h0m-32 16h0m-320 47h0"/>
<path stroke="#32e3da" d="M1132 712h0m110-3h0m25 5h0m-43 17h0m42-2h0m-96 4h0m97 9h0m32-2h0m15 1h0m7-4h0m-114 8h0m58 5h0m34 2h0m22-4h0m5-1h0m-31 18h0m9-1h0m-14 15h0m5-6h0m46-5h0m-50 13h0m11 10h0m63-2h0m9-8h0m1 0h0m12 3h0m-434 19h0m343-1h0m26-10h0m24 5h0m22-4h0m28 22h0m15-2h0m-464 7h0m393 3h0m11-7h0m6 5h0m45-1h0m-89 13h0m18 5h0m21-8h0m33 5h0m11 0h0m4-5h0m-45 15h0m7 0h0m-36 18h0m0-11h0m1 7h0m93 1h0m-39 13h0m24 2h0m-41 9h0m48-8h0m-55 21h0m56-7h0m-83 17h0m43-5h0m20 6h0m39 3h0m-65 12h0m34-3h0m25-6h0m-65 13h0m10-2h0m6 4h0m8-3h0m13-1h0m1 7h0m-45 5h0m3 0h0m9 4h0m0 6h0m9-11h0m37 7h0m7-7h0m-48 17h0m62 6h0m-106 11h0m67-2h0m-57 5h0m23 4h0m20-2h0m41-1h0m-51 15h0m37-3h0m1 8h0m10-2h0m8-6h0m-58 14h0m47-3h0m18 5h0m5 0h0m-61 17h0m9-10h0m4 3h0m7 3h0m36-2h0m-68 10h0m11 0h0m15-1h0m7-2h0m31 10h0m4 0h0m-53 13h0m10-5h0m5 9h0m10-3h0m-45 13h0m39 1h0m-95 16h0m70 1h0m1-6h0m-23 32h0m37-7h0m9 0h0m5 4h0m5 2h0m-33 11h0m17 1h0m11-6h0m-27 10h0m2 0h0m-17 22h0m21-5h0m8 7h0m-17 17h0m-373 14h0m276 3h0m69-9h0m17 1h0m-27 15h0m2 4h0m-55 16h0m-68 19h0"/>
<path stroke="#38e7d7" d="M1239 710h0m-185 18h0m111-4h0m14 6h0m18-3h0m59-2h0m7 6h0m18-7h0m9 7h0m-261 5h0m125 5h0m55 0h0m13-5h0m7 6h0m16-1h0m26 2h0m-273 9h0m201-3h0m82 6h0m12-7h0m9 4h0m17 3h0m7-9h0m2-2h0m3 0h0m-341 15h0m233 5h0m70-5h0m36 3h0m5-2h0m-52 8h0m21 5h0m19 1h0m-39 9h0m4 2h0m8-3h0m2 0h0m12 6h0m9 3h0m-53 6h0m10 0h0m3-2h0m9 5h0m23-8h0m14 6h0m20-2h0m49-2h0m-23 21h0m26-8h0m-57 10h0m13 5h0m47-6h0m2 7h0m-82 27h0m38-4h0m11 2h0m-91 11h0m18-6h0m39 8h0m15-8h0m61 8h0m-70 4h0m0 5h0m5 4h0m17-9h0m10 0h0m12 1h0m2-1h0m31 2h0m7 2h0m-58 10h0m51 7h0m7-5h0m-89 9h0m47 2h0m30 4h0m15-7h0m-46 18h0m41-5h0m-57 10h0m11 9h0m0-5h0m4 5h0m9-8h0m22 10h0m11-11h0m0 4h0m-95 15h0m65-2h0m-82 9h0m49 18h0m3 2h0m3-5h0m9 3h0m3-3h0m25-5h0m-65 12h0m3 0h0m-7 21h0m6 9h0m17-3h0m37-1h0m-27 18h0m38-8h0m-27 23h0m18-8h0m6 4h0m-58 14h0m55-3h0m13-4h0m-28 21h0m27-5h0m13-6h0m-53 18h0m22-3h0m35 5h0m-99 10h0m11 4h0m7-9h0m2 0h0m16 9h0m25-9h0m-10 11h0m43 6h0m-49 11h0m24-1h0m22-4h0m-59 14h0m0 3h0m-9 12h0m6-1h0m3-2h0m8-1h0m1 5h0m2 4h0m-409 10h0m364-8h0m25 4h0m34 15h0m3 1h0m-45 27h0m28-10h0m-14 11h0m-57 20h0m18 2h0m7-4h0m-58 16h0m24-10h0m25 7h0m-52 16h0m-69 11h0m57-6h0m-98 8h0"/>
<path stroke="#3febd5" d="M1112 719h0m18-2h0m58-3h0m19 0h0m14-4h0m15 7h0m3-9h0m-26 23h0m41-2h0m5-4h0m5-5h0m34 10h0m-278 11h0m78 0h0m44-4h0m26-4h0m19 5h0m47-2h0m11-2h0m27 6h0m26 0h0m8-1h0m-272 5h0m27 7h0m40-5h0m90-2h0m44 3h0m30-1h0m7 8h0m5 1h0m53-4h0m16 2h0m-128 11h0m40-6h0m46 0h0m45 0h0m5 2h0m0 6h0m-371 3h0m70 5h0m176 1h0m20-6h0m8 8h0m3-7h0m64 9h0m5-3h0m-311 14h0m257 1h0m6-2h0m9 2h0m17-5h0m68-3h0m-401 12h0m321 0h0m64 2h0m6 6h0m8-7h0m-79 17h0m0 1h0m11 1h0m26-6h0m-16 13h0m12-5h0m53 9h0m-107 10h0m50-3h0m14 3h0m24-7h0m18 8h0m19-6h0m-122 15h0m22-2h0m71-4h0m3 5h0m11-5h0m20 4h0m-108 11h0m1 5h0m17-5h0m1 5h0m15 0h0m49-6h0m29 9h0m-80 7h0m17-4h0m9 17h0m-21 15h0m7-10h0m58 8h0m-23 7h0m8 3h0m-32 9h0m79 6h0m-25 10h0m-82 13h0m72 0h0m-79 21h0m102 1h0m13-1h0m-104 12h0m7 0h0m23 5h0m34-6h0m7-1h0m3 3h0m-472 7h0m415 5h0m18-1h0m14-4h0m21 5h0m-50 9h0m64 3h0m-72 8h0m79 3h0m6 1h0m-68 9h0m14-1h0m-9 11h0m10 2h0m17 6h0m27 2h0m-115 7h0m66-3h0m17-3h0m9 7h0m4-7h0m-50 20h0m47-2h0m-87 11h0m7 4h0m26 2h0m11 0h0m-26 14h0m16 9h0m55 1h0m-53 5h0m41 0h0m-65 9h0m53 8h0m-12 12h0m11-1h0m2 2h0m0-4h0m-67 9h0m25 0h0m24 5h0m-47 5h0m10-1h0m1 9h0m45 5h0m-74 10h0m17 6h0m7 3h0m-59 6h0m44-3h0m-135 34h0m38-3h0"/>
<path stroke="#44eed2" d="M1204 710h0m22 1h0m7 4h0m4-5h0m-137 17h0m52 1h0m56-3h0m0 0h0m2-5h0m25 8h0m4-7h0m-182 18h0m44-4h0m21 1h0m6 6h0m24-4h0m34 1h0m9 2h0m18 2h0m13-1h0m68-9h0m-248 15h0m5 5h0m56-9h0m38 4h0m78 2h0m9-2h0m21 0h0m3 3h0m65-4h0m-120 12h0m31-2h0m24 4h0m22-5h0m4 10h0m-303 2h0m21 6h0m243 4h0m25-9h0m34 3h0m17 6h0m-328 10h0m284 2h0m24-3h0m2 21h0m21 4h0m1-7h0m54 0h0m20 6h0m-71 7h0m66 5h0m-122 7h0m42 4h0m3 5h0m68-1h0m29 0h0m-471 7h0m336 1h0m22 3h0m55 0h0m-390 7h0m304 0h0m38 7h0m53-11h0m-25 16h0m83 4h0m-29 12h0m-38 10h0m11 1h0m60 2h0m-494 19h0m411 1h0m6-2h0m2 20h0m-16 11h0m14-2h0m32 2h0m-65 15h0m20 1h0m27 3h0m62 7h0m-74 16h0m-16 11h0m26 5h0m56 20h0m-63 33h0m-32 14h0m90 8h0m-125 6h0m69-3h0m0 13h0m26-1h0m-4 16h0m8 2h0m-76 15h0m14-1h0m72-6h0m-57 19h0m36-7h0m-53 14h0m3 1h0m23 3h0m-55 5h0m13 8h0m47-8h0m4 5h0m-73 8h0m26 0h0m21-4h0m-1 18h0m10-3h0m-300 13h0m249 4h0m-27 10h0m4-3h0"/>
<path stroke="#4af2cf" d="M1139 716h0m12-3h0m2 3h0m15 0h0m17 0h0m10 3h0m66 0h0m-167 10h0m26 0h0m4-6h0m13 4h0m62 3h0m-165 7h0m38 5h0m26-1h0m9 0h0m5-7h0m23 5h0m5 1h0m94 1h0m5 1h0m22 0h0m-152 13h0m2-9h0m136-2h0m15 6h0m13-6h0m-153 16h0m31-2h0m3 6h0m53 2h0m21-10h0m1 4h0m58 4h0m-293 10h0m24 5h0m5-4h0m10-5h0m189 0h0m9-1h0m29 1h0m-218 18h0m14-8h0m190 5h0m16-3h0m31 3h0m-53 11h0m38 3h0m8 2h0m-327 10h0m16-1h0m20-6h0m256 5h0m34 0h0m31-2h0m3-1h0m-336 17h0m274-7h0m114 10h0m-81 3h0m100 0h0m-438 18h0m29-2h0m234-3h0m37 8h0m-307 2h0m14 9h0m71-5h0m256 3h0m6-2h0m11 0h0m22 6h0m-100 2h0m86 1h0m16 6h0m15 9h0m3 42h0m-23 6h0m-397 14h0m411-5h0m0 4h0m-26 7h0m78 15h0m-462 18h0m402-8h0m1 5h0m9 18h0m-409 15h0m397-4h0m26 7h0m48-4h0m-55 32h0m-31 9h0m-17 7h0m55 1h0m-34 17h0m81-6h0m-76 17h0m2 0h0m30-1h0m-28 5h0m-35 22h0m15-2h0m49-6h0m8 8h0m-66 4h0m23 3h0m-33 11h0m14 1h0m49 6h0m-59 4h0m2 15h0m24-5h0m-71 19h0m5 1h0m22-8h0m13 5h0m2 5h0m-52 4h0m29 1h0m10 6h0m4-7h0m22 17h0"/>
<path stroke="#50f4cc" d="M1143 718h0m27 0h0m29-4h0m20 1h0m6 2h0m-180 19h0m26 0h0m2-2h0m57 6h0m50-6h0m90 5h0m-248 9h0m13 6h0m5-10h0m104 1h0m1 9h0m38-1h0m87-6h0m-231 18h0m49-6h0m51 5h0m86-8h0m43 5h0m72-4h0m-353 17h0m17 0h0m34 3h0m162-8h0m21 0h0m1 9h0m-195 6h0m169 1h0m101 1h0m-322 13h0m39 4h0m12-8h0m225 8h0m-275 2h0m234 2h0m46-3h0m-293 19h0m272-5h0m2 5h0m34 4h0m4 11h0m-277 6h0m225-3h0m1 1h0m17 7h0m7 1h0m23-4h0m18-1h0m-335 18h0m22-2h0m1-3h0m296 2h0m35-8h0m-373 18h0m19 1h0m33-4h0m-28 16h0m374-7h0m2 8h0m-390 11h0m375 9h0m15-4h0m-385 19h0m379 20h0m-16 15h0m-378 27h0m-7 22h0m3 18h0m387 26h0m18 3h0m-28 14h0m14 3h0m-34 12h0m9-11h0m14 2h0m-21 10h0m5 11h0m-25 8h0m42-2h0m20-3h0m4-2h0m0 1h0m-383 11h0m356 2h0m-18 11h0m5 1h0m5-2h0m5 0h0m63 1h0m-45 17h0m6 0h0m-73 12h0m21 5h0m20-2h0m3-8h0m28 8h0m-40 13h0m1-8h0m-58 21h0m6-5h0m27 4h0m-253 4h0m215 18h0m19 1h0m0-1h0m13 2h0m11-9h0m-40 12h0m-39 18h0"/>
<path stroke="#56f7ca" d="M1143 715h0m3 0h0m8 3h0m-54 5h0m11 6h0m12-2h0m11-7h0m11 3h0m13 4h0m0 0h0m78-5h0m-200 19h0m21 2h0m75 0h0m-96 8h0m7-4h0m40 1h0m10 5h0m8-1h0m20-5h0m13 3h0m-59 14h0m12 2h0m11-4h0m13-4h0m13 5h0m17 1h0m9-6h0m7-1h0m14 0h0m40 5h0m21 3h0m-247 12h0m9-4h0m12 3h0m59-6h0m18-1h0m17 2h0m19 3h0m0-1h0m59 0h0m17 2h0m4 4h0m18-9h0m-236 19h0m6 0h0m65-1h0m50-6h0m77 6h0m17 1h0m11-7h0m2 6h0m22 0h0m36 3h0m9-1h0m-313 10h0m52-6h0m63 1h0m171 4h0m47-6h0m-323 14h0m8 0h0m14 7h0m8-6h0m8 2h0m-30 16h0m16-1h0m203-4h0m-243 20h0m271 1h0m48 1h0m-339 20h0m3-4h0m7-4h0m1 0h0m11 7h0m28 0h0m1-1h0m4-3h0m3-3h0m235-2h0m15 4h0m-290 13h0m5 1h0m18 2h0m313-4h0m38 22h0m-392 19h0m-8 33h0m1 4h0m396-10h0m-388 20h0m16 6h0m366-2h0m-381 25h0m-10 18h0m414 33h0m-24 22h0m-8 16h0m-3 13h0m-337 14h0m284-2h0m137-1h0m-71 11h0m-52 14h0m6-7h0m-15 32h0m5-7h0m63-1h0m3 9h0m-89 10h0m12-6h0m6 15h0m5 3h0m-3 5h0m-85 18h0m56 4h0m10-5h0m27-3h0m4 4h0m26-7h0m8 3h0m-90 19h0m-115 4h0m23 5h0m48 0h0"/>
<path stroke="#5df9c7" d="M1191 709h0m-96 13h0m18 3h0m24 5h0m-95 6h0m97-1h0m-82 12h0m27 3h0m2-3h0m83 8h0m-172 7h0m25 1h0m41-3h0m177 7h0m-252 2h0m66 5h0m69 0h0m9-1h0m7-4h0m50 0h0m31 10h0m1-4h0m-249 10h0m18 6h0m1-10h0m17 4h0m28-2h0m18 4h0m17-3h0m64-2h0m82 7h0m-222 7h0m3 0h0m13 0h0m23 6h0m42-3h0m145-7h0m10 8h0m33-6h0m-219 13h0m9 6h0m150-7h0m4 14h0m33-3h0m-282 14h0m24 4h0m15 0h0m194 2h0m-226 12h0m8-9h0m8 2h0m115-2h0m75 0h0m14 4h0m4 6h0m24 0h0m12-6h0m15 2h0m59 2h0m-351 15h0m16-2h0m1-4h0m11 1h0m203-3h0m49 3h0m21-5h0m78 21h0m-390 11h0m10-1h0m-6 12h0m4 33h0m-16 8h0m5 7h0m392 8h0m-390 9h0m-6 20h0m14 0h0m1-8h0m-17 16h0m40 3h0m-27 8h0m2 6h0m14-8h0m6 5h0m-1 19h0m361-2h0m12 10h0m5 11h0m-81 13h0m-2 9h0m26-7h0m-340 18h0m2 2h0m306-2h0m5 16h0m11-5h0m29-1h0m5 11h0m-1 11h0m-27 14h0m1 9h0m-28 16h0m3 11h0m-85 9h0m68 5h0m-2 11h0m3 3h0m-47 15h0m6-8h0m-1 17h0m29 2h0m19-9h0m-36 15h0"/>
<path stroke="#62fbc4" d="M1128 717h0m-15 5h0m54 18h0m-152 27h0m115 0h0m19-6h0m3-3h0m11 7h0m8-1h0m-152 11h0m41-3h0m24 7h0m1-2h0m17 2h0m0-8h0m6 7h0m65-10h0m7 8h0m6-1h0m1-1h0m-156 11h0m0 4h0m26-1h0m16 1h0m13-1h0m20-8h0m-71 14h0m151-1h0m0 7h0m45-2h0m6 3h0m37 2h0m-296 1h0m38 5h0m61-5h0m12 2h0m34 4h0m67-6h0m2 8h0m4-8h0m25 0h0m-204 20h0m35-7h0m22 5h0m201-4h0m-321 18h0m14-5h0m8 7h0m38-2h0m109 3h0m-151 3h0m108 5h0m3-4h0m48-2h0m110 5h0m-255 11h0m124-4h0m40 2h0m15 6h0m4-2h0m12-4h0m5 3h0m-203 11h0m-42 17h0m18 13h0m2-8h0m8 8h0m13-7h0m7 1h0m-50 13h0m1 2h0m4-8h0m13 1h0m5 18h0m345 0h0m-356 12h0m350-4h0m-334 21h0m-40 23h0m26-6h0m7-2h0m349 17h0m-372 12h0m6 1h0m374 6h0m-384 18h0m10 2h0m41-7h0m343 4h0m-52 39h0m33-9h0m-62 14h0m9 6h0m-312 5h0m2 6h0m318-6h0m-4 10h0m9 13h0m7 2h0m13 25h0m-47 29h0m-10 19h0m-37 12h0m6 0h0m12 2h0m5 3h0m2-2h0m-1 4h0m-156 13h0m170 2h0"/>
<path stroke="#68fcc1" d="M1027 744h0m127 14h0m-47 14h0m23 3h0m22 13h0m58-1h0m25 4h0m-174 4h0m47-3h0m61 9h0m23 1h0m13-8h0m13 7h0m16 1h0m9-3h0m-221 6h0m29 3h0m3-3h0m0-1h0m13 6h0m54 5h0m34-10h0m22 3h0m31-2h0m28 0h0m-212 10h0m132 5h0m3-2h0m47-1h0m44-1h0m-246 14h0m4 0h0m3-2h0m1 5h0m15-4h0m171 2h0m11-3h0m2 4h0m-221 14h0m30 1h0m64 1h0m29-8h0m15 6h0m43-6h0m-182 20h0m25-1h0m94-1h0m28 0h0m32 2h0m4-1h0m73 4h0m19 3h0m10 1h0m-306 17h0m11 12h0m3 1h0m50-10h0m-101 15h0m4 4h0m5 2h0m9 2h0m28-3h0m341-6h0m-355 19h0m340-1h0m8 3h0m-368 20h0m18 7h0m326 3h0m4 3h0m-352 8h0m357 1h0m-353 13h0m10 3h0m351 1h0m4 1h0m-373 3h0m13 5h0m5 1h0m0-1h0m11 3h0m346-7h0m2 1h0m-378 9h0m43 7h0m-17 8h0m1 1h0m358 8h0m10 1h0m-375 20h0m-1 3h0m276 17h0m70 14h0m-62 12h0m35-2h0m1 4h0m3-4h0m-25 17h0m-8 6h0m15-2h0m9-3h0m1 8h0m12-3h0m22 1h0m-68 21h0m2 8h0m7-3h0m31-5h0m-28 10h0m8 2h0m-45 17h0m44 1h0m-234 7h0m196-4h0m-3 18h0m-28 8h0m67 4h0m-73 14h0m26 3h0m-58 7h0m27-6h0m5 2h0m51 1h0"/>
<path stroke="#6efebe" d="M1117 738h0m-106 23h0m22 5h0m20 22h0m57-5h0m27 7h0m0 0h0m15 0h0m8 1h0m6-11h0m46 8h0m-185 9h0m39 3h0m21 1h0m14-8h0m6 1h0m1 3h0m11 3h0m34 2h0m4-2h0m1 2h0m46-7h0m-132 15h0m11-4h0m19-2h0m30 4h0m4-3h0m30-1h0m15 7h0m3-6h0m1 10h0m34-11h0m1 7h0m-161 14h0m5-8h0m78 8h0m58 0h0m-167 4h0m14 3h0m118 7h0m49-8h0m-181 9h0m12 6h0m16-1h0m12-2h0m5-2h0m7 7h0m11-7h0m2 10h0m11-8h0m9 5h0m81-3h0m-202 7h0m32 8h0m3-6h0m81 5h0m3-4h0m40 0h0m3 4h0m1 4h0m44-1h0m33-5h0m-257 26h0m12-7h0m-40 18h0m349 5h0m13-1h0m-366 9h0m17-5h0m7 8h0m7 1h0m37-8h0m7 16h0m7 12h0m10 4h0m260 0h0m-336 5h0m24-2h0m30 4h0m-59 12h0m11-6h0m6 1h0m307 21h0m-314 13h0m47-5h0m-62 9h0m27 17h0m12-1h0m113-5h0m-169 17h0m9-2h0m11-2h0m40 5h0m320-1h0m-377 11h0m10 4h0m13-7h0m358-3h0m8 7h0m-381 6h0m2 2h0m43 7h0m342-10h0m-377 18h0m343-6h0m-344 13h0m17 0h0m254-1h0m-274 22h0m296-7h0m-304 11h0m259 4h0m33-6h0m-21 16h0m35 7h0m17-9h0m3 7h0m29 2h0m-319 19h0m304-4h0m-33 21h0m-35 4h0m6 8h0m-9 4h0m68-2h0m-131 33h0m32-9h0m-43 22h0m27-5h0m8 3h0m-12 5h0m12 0h0m31-2h0m26 2h0m-32 14h0"/>
<path stroke="#74feba" d="M1110 778h0m4 4h0m93 8h0m24 0h0m-128 13h0m84-9h0m9 7h0m-133 9h0m15-1h0m42-2h0m11 8h0m49-7h0m31 3h0m-182 9h0m24 2h0m55-1h0m16 0h0m19 0h0m26 6h0m-146 7h0m58 4h0m0-9h0m43 9h0m11-2h0m24 2h0m31-10h0m20 5h0m-107 18h0m82-5h0m7-4h0m-203 14h0m8-3h0m17 3h0m14 3h0m68 4h0m7-9h0m39 9h0m20-6h0m-168 13h0m5-1h0m10 5h0m61 1h0m28-7h0m6-4h0m44 1h0m44 1h0m-223 19h0m31-2h0m4-6h0m31 0h0m7 4h0m-75 10h0m82-2h0m258 3h0m-375 16h0m55 8h0m0 1h0m11 2h0m13 4h0m-80 9h0m5 1h0m7 2h0m6-3h0m2-6h0m11 1h0m2 8h0m-29 10h0m0 0h0m46-3h0m120-2h0m-153 13h0m336 5h0m11-6h0m-339 9h0m120 3h0m-111 25h0m51-5h0m-77 30h0m21-5h0m21 10h0m1-5h0m61-4h0m271 4h0m9 1h0m-335 10h0m-48 9h0m9-2h0m7 6h0m8 4h0m3-3h0m1 4h0m7-3h0m357-8h0m-360 20h0m-19 4h0m17 9h0m-12 12h0m4-7h0m6 1h0m5-3h0m6 9h0m275 1h0m-285 11h0m237-7h0m36 7h0m-283 14h0m8 10h0m215-4h0m48 3h0m5-3h0m3 0h0m77-4h0m-69 16h0m21 1h0m-40 10h0m4 6h0m4 1h0m5-4h0m-242 26h0m187 12h0m12-4h0m2 2h0m5-3h0m12 7h0m3-2h0m-190 10h0m161 4h0m-75 6h0m31 4h0m32-2h0m40-7h0m-116 17h0m28 6h0m5-5h0m67-3h0"/>
<path stroke="#7affb7" d="M1176 784h0m-59 9h0m1 14h0m-118 20h0m69-7h0m24-3h0m19 3h0m9 6h0m2-4h0m56-3h0m10 8h0m-153 7h0m6 2h0m45-7h0m-91 16h0m7 5h0m46-2h0m1 3h0m61-4h0m-75 16h0m70-5h0m13-2h0m33 1h0m2 3h0m-140 4h0m12 10h0m14-5h0m29 3h0m6-7h0m88 2h0m-179 18h0m4-6h0m54-1h0m5 5h0m31-6h0m4-1h0m-121 23h0m350-2h0m-329 14h0m1-7h0m25-3h0m48 7h0m246-8h0m-321 18h0m22-5h0m12 4h0m107-2h0m184 0h0m-313 17h0m297-7h0m-312 22h0m12-8h0m149 3h0m8-4h0m134 2h0m-346 8h0m15 10h0m4-1h0m28-1h0m25-1h0m7-2h0m257 1h0m-308 17h0m5-7h0m4 0h0m16-2h0m3 4h0m14-2h0m23 5h0m102-5h0m162 6h0m-328 10h0m19 0h0m3-1h0m7-3h0m5-2h0m300 9h0m1-10h0m-311 21h0m3 0h0m6-2h0m293 2h0m-321 2h0m8 1h0m16 7h0m2 2h0m55-4h0m247 0h0m-314 8h0m9-1h0m2 7h0m7 1h0m31-2h0m-92 12h0m104-2h0m-82 18h0m8-1h0m21-4h0m-37 7h0m3 9h0m9-7h0m7-3h0m10 0h0m8 8h0m274-2h0m44-6h0m0 0h0m-321 21h0m175-3h0m22-1h0m39-5h0m-256 15h0m242 3h0m9-1h0m-7 10h0m34-2h0m-290 13h0m298 2h0m-25 10h0m-22 10h0m4 10h0m34-3h0m1 1h0m-253 13h0m260-9h0m-81 21h0m-168 18h0m158 11h0m18 4h0m-103 16h0m57-4h0m7 1h0m99 5h0m-84 14h0m7 2h0"/>
<path stroke="#82ffb3" d="M1134 792h0m1 4h0m9-2h0m8 5h0m8 16h0m-91 11h0m30 1h0m45-8h0m19 5h0m13-8h0m6 8h0m-139 6h0m43 2h0m60 7h0m33-2h0m4-8h0m-92 18h0m22 4h0m30-7h0m10-4h0m-114 34h0m49-4h0m16-3h0m10-1h0m-135 14h0m15-3h0m42-1h0m37 10h0m-93 5h0m37 1h0m4-2h0m23 8h0m256-10h0m17 11h0m2-10h0m-315 21h0m29-7h0m13 1h0m65-1h0m-124 9h0m27 20h0m2 2h0m6-9h0m84 10h0m12 0h0m-123 11h0m12-4h0m28 5h0m3-4h0m-34 7h0m-45 16h0m21-3h0m54 0h0m12 1h0m235 7h0m-309 1h0m41 0h0m1 2h0m273 5h0m6-5h0m5 8h0m-268 4h0m10 6h0m57-5h0m192 7h0m3-9h0m4 7h0m6 1h0m-356 9h0m40 3h0m1-8h0m14 2h0m24 0h0m80 8h0m180-11h0m11 2h0m-310 17h0m2-4h0m28 7h0m25-10h0m23 9h0m-80 5h0m-2 19h0m0 0h0m6 2h0m15-9h0m309 7h0m8 1h0m-350 9h0m242 2h0m-263 3h0m28 13h0m4 10h0m6-5h0m190-1h0m30 4h0m4-5h0m18-1h0m-273 9h0m2 3h0m214 2h0m27-5h0m5 6h0m42 4h0m-278 3h0m23 2h0m241 7h0m10-2h0m-66 6h0m3-1h0m-200 29h0m240 5h0m-228 8h0m187 10h0m14 4h0m-18 3h0m8 9h0m23 2h0m12-5h0m-184 12h0m2 2h0m123-7h0m-106 19h0m57 2h0m3 6h0m17 2h0m5 5h0m38-4h0m4 0h0m5 7h0"/>
<path stroke="#88ffaf" d="M1110 796h0m49 6h0m-31 2h0m-87 45h0m8 6h0m-70 16h0m54 2h0m5-2h0m3-3h0m123-1h0m49 0h0m-178 13h0m7 6h0m2-1h0m40 10h0m28-1h0m188 3h0m-294 11h0m30 3h0m17-3h0m54-3h0m197 5h0m4-4h0m-326 7h0m11 2h0m1 3h0m22 2h0m14-5h0m11 6h0m49-2h0m202 0h0m1 4h0m-218 4h0m15 4h0m4-1h0m23-6h0m-104 20h0m4 0h0m2 1h0m9 1h0m3-3h0m3-6h0m46 1h0m-81 19h0m53-7h0m0 5h0m1 0h0m6 1h0m12-8h0m64 8h0m139-4h0m4 7h0m-281 11h0m16-9h0m6 2h0m87-2h0m4 3h0m26 1h0m130 1h0m1-3h0m-289 11h0m13-2h0m9 11h0m46-10h0m15 3h0m21 7h0m35-4h0m-126 10h0m5 5h0m38-5h0m6 0h0m32 2h0m20-2h0m19 2h0m179-6h0m-295 12h0m119 3h0m171 0h0m5-4h0m20 6h0m-307 7h0m4-1h0m23 10h0m6-8h0m9 6h0m6-1h0m65 6h0m198 7h0m-361 6h0m69-2h0m106 6h0m193-2h0m9 0h0m-353 8h0m23 17h0m14-3h0m45 7h0m159-3h0m-21 9h0m20 7h0m8-4h0m2 11h0m-247 9h0m227 6h0m25-3h0m17 2h0m-277 12h0m3 4h0m17-4h0m209-4h0m15 8h0m-250 9h0m245 2h0m7-3h0m-245 9h0m2-3h0m212 9h0m31-5h0m-14 11h0m0 3h0m-201 6h0m1 8h0m15-1h0m149 7h0m-25 13h0m-40 18h0m41-6h0m-70 10h0m87 9h0m2-1h0"/>
<path stroke="#8efeac" d="M1167 808h0m-87 21h0m0 23h0m27 20h0m-67 12h0m65 1h0m6-9h0m-3 18h0m182 1h0m26-4h0m-246 19h0m42-5h0m169 2h0m-226 10h0m1-2h0m14 1h0m8 7h0m-83 5h0m15-4h0m72 6h0m186 1h0m4 1h0m5 3h0m19-10h0m-267 16h0m16-4h0m4 9h0m35-10h0m11 3h0m28 6h0m-56 13h0m9-3h0m29 3h0m174-7h0m2 2h0m-261 9h0m2 4h0m34-6h0m37 3h0m180 2h0m-271 12h0m20 3h0m32-8h0m18 4h0m0 3h0m1 4h0m17-11h0m27 11h0m-17 8h0m11-1h0m167 1h0m0-4h0m10 6h0m2-2h0m-287 16h0m27-1h0m4 1h0m7-10h0m42 6h0m-85 13h0m50-5h0m33 1h0m22 5h0m191-4h0m-284 13h0m13 1h0m54-4h0m45-2h0m-100 20h0m37-8h0m29 0h0m2 5h0m32-6h0m-134 15h0m26 8h0m3-1h0m111-10h0m70 10h0m35-4h0m-208 17h0m166-2h0m11 1h0m-246 12h0m8-6h0m54 5h0m45-5h0m120-4h0m24 11h0m16-3h0m-80 17h0m38 3h0m26 1h0m20-1h0m-51 11h0m12 4h0m-200 14h0m1 0h0m0 0h0m185 2h0m25-6h0m20 6h0m-235 3h0m16 6h0m160-4h0m26 6h0m34-5h0m-95 7h0m-118 19h0m148-5h0m20 0h0m-141 21h0m128-2h0m7 2h0m-119 5h0m122-4h0m19 2h0m-113 13h0m24 4h0m13 1h0m14-7h0m-26 18h0"/>
<path stroke="#94fda8" d="M1139 834h0m42 27h0m-93 9h0m13 4h0m162-2h0m-206 13h0m28-3h0m188 2h0m-209 10h0m6-4h0m32 5h0m20-2h0m186 3h0m0-3h0m-260 16h0m7-2h0m32-6h0m18 3h0m4 4h0m3 1h0m27-3h0m155-5h0m-195 20h0m9-9h0m156 4h0m20-1h0m5 7h0m-252 13h0m57-6h0m3 0h0m11-2h0m-57 14h0m7 5h0m193 0h0m17 1h0m-261 11h0m41 1h0m46-10h0m29 8h0m-120 7h0m8 4h0m12-4h0m35 7h0m7-1h0m79-9h0m4 0h0m-87 20h0m66-4h0m11 6h0m4-3h0m7-8h0m125 9h0m-253 10h0m18-1h0m33-3h0m49-2h0m162 8h0m-220 7h0m13 3h0m56-1h0m-86 6h0m14 7h0m4-6h0m42 0h0m180 6h0m4 0h0m6-3h0m-279 11h0m40-2h0m20 0h0m2 3h0m7 3h0m42-7h0m166 9h0m4-8h0m6 6h0m5-4h0m3-1h0m-282 10h0m59 2h0m11 3h0m-73 18h0m34-1h0m-15 11h0m3-6h0m14 6h0m-113 4h0m43 9h0m6-4h0m16 1h0m136-3h0m10-1h0m10-2h0m-187 14h0m5 6h0m17-9h0m42 10h0m92-2h0m-170 5h0m12-1h0m136 4h0m62-2h0m-55 20h0m39-2h0m31 3h0m1 0h0m-202 7h0m187 1h0m-101 5h0m58 1h0m56 7h0m-179 15h0m167-4h0m17-6h0m12 6h0m-197 13h0m104-5h0m11-3h0m-108 27h0m75 12h0m9 0h0"/>
<path stroke="#9bfba5" d="M1108 875h0m10-2h0m35-5h0m9 2h0m76 2h0m-157 6h0m20 2h0m19 6h0m-72 12h0m16-4h0m43 12h0m13-4h0m9-1h0m158 3h0m-173 14h0m154 12h0m8 0h0m13 0h0m-185 26h0m11-3h0m-102 15h0m98-6h0m3 1h0m11-3h0m5 5h0m14-3h0m12 2h0m-105 19h0m6 0h0m6-3h0m5-8h0m28 7h0m8-6h0m2 8h0m-96 7h0m85 3h0m11-6h0m18 0h0m4 7h0m19 1h0m4 0h0m116 0h0m-254 11h0m59 2h0m21-3h0m196 2h0m-270 5h0m31 2h0m47 4h0m11 1h0m20-7h0m148-1h0m20 7h0m-239 7h0m234 7h0m-211 13h0m64-4h0m-118 11h0m57 4h0m40-5h0m29 0h0m50 3h0m39-5h0m-238 13h0m58 1h0m16-2h0m0 3h0m24 4h0m27-9h0m37 0h0m-134 20h0m19 0h0m13-7h0m117 0h0m2 2h0m-208 11h0m36 2h0m2-5h0m24 6h0m64 1h0m19-6h0m48 21h0m5-7h0m10-3h0m9 11h0m-198 8h0m41-6h0m25-1h0m119 11h0m21 0h0m-68 3h0m12-2h0m2 5h0m22 6h0m16-7h0m-183 8h0m93 0h0m73 7h0m5-3h0m-165 13h0m110 5h0m37-7h0m5 5h0m28-4h0m-39 17h0m-90 22h0m21 2h0m23 3h0m4 11h0m16-11h0"/>
<path stroke="#a0faa1" d="M1140 871h0m141 8h0m-166 14h0m-12 17h0m163-4h0m4 3h0m3 2h0m9-5h0m-210 19h0m197 8h0m-199 7h0m8-1h0m6 8h0m68-11h0m3 0h0m103 7h0m2 3h0m9-8h0m-134 12h0m19-2h0m103 10h0m-172 4h0m60 0h0m109 1h0m0 2h0m-95 7h0m-91 23h0m83-1h0m111-9h0m9-1h0m14 6h0m-206 15h0m27-6h0m14 6h0m159-1h0m-185 4h0m8 7h0m-100 15h0m43-10h0m51 1h0m21 7h0m2-7h0m9 10h0m14-4h0m145-7h0m-3 14h0m-265 13h0m38 5h0m15-6h0m7 5h0m50 0h0m2 0h0m2 3h0m4-7h0m11 2h0m2 3h0m-131 6h0m5 3h0m13 3h0m15-7h0m28 9h0m79-8h0m21 3h0m4 0h0m-191 16h0m12-3h0m78-3h0m-82 11h0m11 2h0m28 1h0m41 5h0m22-7h0m66 2h0m-133 11h0m16-4h0m18 0h0m39 4h0m31 2h0m19 0h0m-107 8h0m78 4h0m37-5h0m34 4h0m-210 10h0m80 5h0m27 2h0m45-1h0m-49 8h0m21 6h0m7-9h0m29 4h0m-69 16h0m19-6h0m24 5h0m45 2h0m-153 11h0m79-1h0m33-8h0m17 13h0m-98 12h0m42 4h0m31 2h0m5-4h0m-50 13h0m35-4h0"/>
<path stroke="#a6f89d" d="M1131 872h0m83-3h0m-132 16h0m191-2h0m-142 12h0m152 0h0m-155 8h0m156-1h0m-147 11h0m8 4h0m-12 13h0m-12 16h0m23 1h0m98-9h0m-106 18h0m119 3h0m-149 14h0m19 4h0m2 1h0m131 0h0m4 4h0m8-2h0m-190 13h0m80 2h0m118-11h0m-132 13h0m4 14h0m123-3h0m10 3h0m-153 19h0m4-3h0m0-5h0m5 7h0m141-3h0m16 4h0m-192 2h0m-38 12h0m64 7h0m43 2h0m18-3h0m-147 17h0m81-9h0m-96 11h0m89 0h0m3 2h0m-105 19h0m87-9h0m1 8h0m9 2h0m12-1h0m1-1h0m1 0h0m22-6h0m11-2h0m11 0h0m3 2h0m-132 17h0m48-1h0m74 0h0m-107 9h0m6 2h0m39-4h0m41 6h0m4-3h0m13-1h0m17-4h0m0 6h0m-181 13h0m94-4h0m12 1h0m28-4h0m8 0h0m10 0h0m29 6h0m-109 7h0m18 3h0m74 0h0m-64 14h0m28 3h0m-89 10h0m-5 7h0m10 5h0m96 3h0m-85 10h0m42 0h0m3-2h0m14 2h0m16-4h0m8-1h0m-39 13h0"/>
<path stroke="#acf59a" d="M1140 871h0m112 3h0m-120 4h0m134 6h0m5 0h0m9-6h0m-150 25h0m128 11h0m-95 63h0m88 5h0m-4 7h0m18 16h0m12 1h0m-158 2h0m147 7h0m2-7h0m-155 14h0m19 9h0m159-8h0m-204 20h0m185-1h0m-209 2h0m77 1h0m-120 20h0m34-1h0m41-1h0m46-3h0m-53 8h0m51 4h0m-137 12h0m51-4h0m30 10h0m86-1h0m-188 12h0m7-1h0m28-3h0m4 4h0m12 0h0m36-1h0m0-8h0m5 5h0m-35 12h0m84-3h0m0 5h0m18-1h0m62-4h0m-166 15h0m37 6h0m32-6h0m-33 16h0m46-7h0m56 9h0m4-6h0m-173 12h0m70-5h0m47 21h0m-3 14h0m-50 8h0m28-1h0m10-3h0"/>
<path stroke="#b2f396" d="M1198 871h0m-68 13h0m124 3h0m-112 30h0m107 5h0m4 1h0m-101 10h0m108-3h0m-5 10h0m-96 11h0m86 5h0m2 0h0m-78 14h0m75-8h0m-125 37h0m41 10h0m107 0h0m20 22h0m-4 7h0m-125 11h0m14 2h0m72-5h0m-207 12h0m50 7h0m19-9h0m2 4h0m-92 13h0m71 0h0m-29 16h0m15 1h0m71-2h0m-146 15h0m83-3h0m29-4h0m10 2h0m7-1h0m4 3h0m7-2h0m-115 14h0m81 1h0m-78 10h0m14 0h0m2 1h0m8 0h0m4-2h0m44 0h0m12-2h0m20-2h0m-129 12h0m62 7h0m40-1h0m-20 10h0m-7 12h0m8-4h0m14 8h0m-62 7h0m41 1h0m39-3h0m-46 9h0m44 3h0m9-2h0"/>
<path stroke="#b9ef92" d="M1157 872h0m17-3h0m2 0h0m66 4h0m28 3h0m-12 19h0m-121 15h0m117-1h0m1 23h0m-8 7h0m-84 38h0m76 3h0m14 2h0m0-6h0m-149 20h0m160 17h0m2 13h0m-21 19h0m16-1h0m-174 31h0m45-1h0m-78 8h0m62 9h0m-100 6h0m10-2h0m13-1h0m23 4h0m85 2h0m-107 6h0m4 3h0m-17 14h0m16-4h0m81 1h0m-63 16h0m63 2h0m-91 4h0m3 14h0m32 8h0m26 0h0"/>
<path stroke="#beec8e" d="M1190 872h0m62 0h0m5 9h0m9 0h0m-124 15h0m2 10h0m114 7h0m-13 41h0m-84 40h0m10-9h0m82 0h0m1 2h0m-93 11h0m101 9h0m-112 3h0m7 0h0m102 3h0m-103 16h0m-1 5h0m36 8h0m77-7h0m-253 62h0m19-2h0m102 3h0m-139 11h0m12 3h0m7-8h0m30 7h0m1-5h0m-36 16h0m10-2h0m25 3h0m59-1h0m-87 12h0m101-6h0m-95 14h0m4 0h0m25 15h0m21 2h0m-5 9h0m57-1h0m3 8h0"/>
<path stroke="#c4e88a" d="M1138 879h0m8 4h0m99 29h0m0 19h0m-71 45h0m77 18h0m-83 24h0m1-1h0m79 3h0m19 6h0m8 9h0m-158 55h0m-111 13h0m-1 11h0m26 35h0m55 14h0m9-5h0m-8 12h0m11-2h0m2-4h0m9 1h0"/>
<path stroke="#cbe486" d="M1166 874h0m1-1h0m28 1h0m64 9h0m-12 9h0m9 7h0m-7 14h0m-81 31h0m7 9h0m-8 71h0m88-2h0m6-1h0m-257 86h0m16 1h0m2 13h0m2-3h0m-8 10h0m12 11h0m1-5h0m23 5h0m0 9h0"/>
<path stroke="#d0e082" d="M1141 894h0m13 14h0m92-3h0m7 12h0m-19 15h0m5 1h0m-16 3h0m18 13h0m-10 18h0m-47 26h0m-20 25h0m6 8h0m92-1h0m-96 11h0m83 8h0m-224 71h0m21 35h0m3-2h0m5-3h0m6 6h0m-12 14h0m16 4h0m27 4h0"/>
<path stroke="#d9da7d" d="M1164 874h0m47 8h0m28-2h0m6 13h0m-92 11h0m4 3h0m2 6h0m13 16h0m7 5h0m-10 13h0m12-2h0m44-5h0m4 2h0m-43 9h0m38 9h0m7 18h0m22 14h0m-75 19h0m69 2h0m4-5h0m-88 17h0m1-3h0m15 13h0m84-3h0m-204 119h0m7 13h0"/>
<path stroke="#ded579" d="M1185 875h0m23 3h0m-56 15h0m11 18h0m75 0h0m-75 8h0m9-1h0m-3 17h0m54-4h0m5 16h0m-44 4h0m35-3h0m16 15h0m-62 44h0m64-8h0m-65 11h0m3-2h0m79 5h0m-233 110h0m12 25h0m16 14h0"/>
<path stroke="#e4cf74" d="M1156 884h0m12 21h0m75-3h0m-71 12h0m2 8h0m4 17h0m3 41h0m5-3h0m-6 10h0m-9 18h0m13-6h0m60 8h0m-3 5h0m-64 9h0m77 10h0"/>
<path stroke="#ebca70" d="M1215 877h0m-59 21h0m53-1h0m4-2h0m19-7h0m-77 23h0m7-3h0m9 9h0m8 9h0m2 19h0m2 2h0m36-2h0m-8 11h0m-30 34h0m4-2h0m49 19h0m-58 27h0"/>
<path stroke="#f0c46c" d="M1159 895h0m38 4h0m20 0h0m19 2h0m-70 22h0m3-11h0m51 8h0m-28 35h0m29 3h0m-9 8h0m-17 12h0m-15 29h0m57-11h0m12 34h0m-62 6h0"/>
<path stroke="#f6be68" d="M1180 887h0m5 2h0m10-1h0m9 2h0m26 16h0m-47 18h0m13 21h0m14 22h0m-17 12h0m20 0h0m11 8h0m10 3h0m-55 8h0m50 9h0m-24 16h0"/>
<path stroke="#fcb763" d="M1185 879h0m13 3h0m-5 12h0m40 2h0m-21 9h0m-10 33h0m6 17h0m1 12h0m5-2h0m-20 14h0m-3 13h0m3-6h0m0 2h0m-9 14h0m1 2h0m4-1h0m10 7h0m35-2h0m-55 17h0"/>
<path stroke="#ffb05f" d="M1192 898h0m-2 3h0m50-1h0m-49 25h0m21 1h0m-15 10h0m3 22h0m5-4h0m2 13h0m9 12h0m-27 19h0m15-1h0m-17 16h0m15 1h0m-19 9h0m20 10h0m14 6h0m6-3h0m15-3h0"/>
<path stroke="#ffa95b" d="M1200 899h0m-26 3h0m20 26h0m-3 13h0m8 3h0m2 23h0m6 3h0m8-8h0m-8 12h0m2 5h0m-5 7h0m-11 14h0m12 2h0m-8 6h0m14 22h0m26-1h0"/>
<path stroke="#ffa256" d="M1195 907h0m4-4h0m-6 25h0m7 16h0m11 23h0m-10 38h0m18-4h0m-29 9h0m7 9h0m10 0h0"/>
<path stroke="#ff9b52" d="M1190 899h0m-8 2h0m8-1h0m24 4h0m-6 87h0m20 16h0m-23 12h0m2 13h0m8 2h0"/>
<path stroke="#ff934d" d="M1184 893h0m17 50h0m4 56h0m12 3h0m11 8h0m-3 24h0"/>
<path stroke="#ff8c49" d="M1169 892h0m15 11h0m27 121h0"/>
<path stroke="#ff8444" d="M1175 895h0m20 26h0m18 93h0m-5 9h0m6 8h0m3-6h0m3 6h0m1-10h0m7 2h0m-12 10h0"/>
<path stroke="#ff703a" d="M1213 1011h0m-1 13h0m13 9h0"/>
<path stroke="#ff6835" d="M1220 1024h0"/>
</g>
<g fill="none" stroke-linecap="round" transform="scale(0.5)">
<g stroke="#06aeed" stroke-width="7.0"><path id="bb0" d="M1197 743h0m8 4h0m131 14h0m14 108h0m16 24h0m61 61h0m6 85h0"/></g><use href="#bb0" stroke="#3dc0f1" stroke-width="1.8"/>
<g stroke="#00b5eb" stroke-width="7.0"><path id="bb1" d="M1115 715h0m22 1h0m-64 6h0m50-1h0m178 4h0m-86 18h0m-212 23h0m279-8h0m-33 30h0m93 11h0m13 2h0m1 13h0m45 11h0m8 0h0m-49 14h0m31-7h0m-66 11h0m56 4h0m-80 9h0m78 2h0m13-5h0m-41 27h0m72 12h0m-96 24h0m68 5h0m-42 20h0m58 16h0m-92 21h0m31-4h0m59 7h0m-30 14h0m55-6h0m-103 17h0m66 36h0m7-10h0m18 3h0m-2 13h0"/></g><use href="#bb1" stroke="#38c5ef" stroke-width="1.8"/>
<g stroke="#07bbea" stroke-width="7.0"><path id="bb2" d="M1144 707h0m27 0h0m39-2h0m18-1h0m-85 5h0m5-1h0m7 9h0m74-8h0m-84 13h0m10-2h0m2 3h0m145 4h0m-275 16h0m6-5h0m55-4h0m37 7h0m83-7h0m5 5h0m74-6h0m19 0h0m3 9h0m7-7h0m-255 9h0m172 4h0m47-2h0m60 8h0m-330 6h0m251-1h0m22 6h0m39-7h0m25 7h0m1-3h0m19 4h0m5 0h0m1 1h0m-104 10h0m26-6h0m6 1h0m46-2h0m-383 18h0m337-5h0m52 8h0m20-7h0m19 1h0m-439 14h0m368-4h0m46-1h0m21 8h0m-426 10h0m338-1h0m24-5h0m16 1h0m25-2h0m21 5h0m23-6h0m-38 15h0m0 2h0m32 0h0m5 2h0m-443 11h0m358 0h0m16 5h0m57-8h0m23-2h0m-110 21h0m41-9h0m41 8h0m2 0h0m-67 10h0m64-4h0m12 8h0m0-9h0m6-1h0m-65 14h0m31 0h0m28 1h0m-41 13h0m55 5h0m11-1h0m-84 19h0m4 0h0m30-2h0m13-2h0m8 4h0m34 2h0m-68 14h0m6-5h0m24 7h0m34-3h0m-67 5h0m46 1h0m9 4h0m22-3h0m-112 13h0m31 2h0m0 3h0m18 0h0m7-5h0m33 3h0m6-5h0m-89 11h0m0 5h0m2 1h0m23-5h0m25-1h0m24 10h0m-473 9h0m424 1h0m21-4h0m2 2h0m20-3h0m15 5h0m-3 11h0m2 0h0m-72 8h0m40-3h0m4 4h0m26 2h0m-66 13h0m12 1h0m-11 7h0m10 4h0m37 2h0m16-7h0m2 1h0m17 8h0m5-10h0m-67 12h0m14 1h0m26 3h0m6 2h0m-51 11h0m17 0h0m11-3h0m14-1h0m3 8h0m11-2h0m-62 12h0m26-4h0m33 3h0m-79 16h0m37-3h0m3-7h0m54 9h0m-70 20h0m0 5h0m51 2h0m-55 45h0m35-6h0m1 5h0m-35 13h0m-14 2h0m-7 25h0m-20 22h0"/></g><use href="#bb2" stroke="#3ecaef" stroke-width="1.8"/>
<g stroke="#0dc2e8" stroke-width="7.0"><path id="bb3" d="M1126 714h0m33-4h0m9-1h0m36-1h0m19 0h0m-186 23h0m15-1h0m90-6h0m137 5h0m26 0h0m-262 14h0m75-8h0m171 5h0m8 0h0m-293 12h0m291 0h0m-297 15h0m22-10h0m265 3h0m33 4h0m6-4h0m8 6h0m-85 6h0m41 7h0m17 0h0m5 0h0m50-5h0m11 4h0m-354 6h0m247 3h0m6 3h0m6-10h0m21 11h0m18-3h0m30-5h0m30-2h0m-78 18h0m15 2h0m8-3h0m2 3h0m36-2h0m21-7h0m-79 15h0m11 0h0m53 4h0m12-2h0m-58 16h0m36 1h0m21-6h0m22-4h0m9 6h0m0-3h0m-67 9h0m4 2h0m6 2h0m34-4h0m-116 23h0m70-1h0m41-9h0m5 1h0m7 7h0m26 2h0m-157 11h0m9-3h0m60 3h0m6-6h0m43 6h0m-428 2h0m4 3h0m416 3h0m12 1h0m20-5h0m11 3h0m8-4h0m7-1h0m-52 14h0m11 2h0m30 5h0m-84 3h0m9 11h0m14 0h0m9-2h0m61-3h0m8-5h0m-109 19h0m49-7h0m14 6h0m-59 6h0m43 0h0m14 9h0m12-1h0m13-6h0m9 6h0m-487 11h0m455-4h0m32 1h0m3 3h0m-92 7h0m53 5h0m18 1h0m1-7h0m-62 11h0m58 1h0m35 2h0m-44 14h0m-50 8h0m6 3h0m16-4h0m42 9h0m5-2h0m3 0h0m-22 7h0m0 0h0m4 1h0m21 4h0m0-5h0m-60 13h0m41-4h0m30 7h0m7-7h0m-482 21h0m420 0h0m43-7h0m-66 12h0m18 1h0m0-3h0m5 7h0m8 3h0m53-4h0m-57 9h0m15 2h0m-42 8h0m71 6h0m0 1h0m-118 11h0m109 4h0m2-1h0m16-7h0m-132 17h0m22 0h0m40 1h0m20 1h0m26 1h0m-26 2h0m41 7h0m-21 14h0m-92 10h0m95 0h0m-419 9h0m349 1h0m25 2h0m32 2h0m-32 7h0m40-4h0m-38 15h0m-54 12h0m17 5h0m8 13h0"/></g><use href="#bb3" stroke="#42cfed" stroke-width="1.8"/>
<g stroke="#12c8e6" stroke-width="7.0"><path id="bb4" d="M1242 705h0m-187 26h0m56-11h0m-90 21h0m177 0h0m11-1h0m-196 5h0m49 2h0m262-1h0m-316 19h0m1-9h0m3 6h0m257-1h0m38 15h0m55-4h0m21 5h0m-78 7h0m70 4h0m-9 6h0m-416 18h0m335 1h0m36-6h0m5 14h0m10-3h0m30 2h0m-32 19h0m65-1h0m-21 7h0m45 3h0m-104 7h0m57 7h0m-437 12h0m483-2h0m6-2h0m-45 16h0m-27 4h0m19 4h0m17 4h0m9-2h0m2-4h0m-73 17h0m26-2h0m12-2h0m16-5h0m12 6h0m22 4h0m-67 6h0m70 2h0m-41 24h0m-19 10h0m12-4h0m4 8h0m26-5h0m-4 11h0m-27 21h0m61 9h0m-20 14h0m-75 2h0m16 6h0m6-2h0m28 4h0m11 33h0m-93 7h0m13 0h0m44 3h0m9 7h0m16 0h0m-56 7h0m29-5h0m25 0h0m6 4h0m10 2h0m-67 7h0m74 8h0m-21 11h0m-433 10h0m360 5h0m32-3h0m35-5h0m4 5h0m-64 14h0m13-8h0m12 5h0m-27 8h0m5 6h0m57 1h0m-19 5h0m-81 19h0m59 0h0m-83 13h0m29-1h0m37-7h0m4-3h0m-86 22h0m68-6h0m4 19h0m-76 9h0"/></g><use href="#bb4" stroke="#46d4ec" stroke-width="1.8"/>
<g stroke="#18cde4" stroke-width="7.0"><path id="bb5" d="M1137 716h0m128-4h0m-175 8h0m196 29h0m-291 50h0m358 8h0m5 9h0m26 30h0m-20 9h0m69 33h0m-56 101h0m-35 30h0m-9 2h0m21 17h0m-409 17h0m13-4h0m447-6h0m-68 76h0m9 21h0m3 4h0m-4 13h0m13 2h0m19-9h0m-71 12h0m24 5h0m-21 15h0m25-7h0m11-1h0m-226 32h0"/></g><use href="#bb5" stroke="#4bd8ea" stroke-width="1.8"/>
<g stroke="#1fd3e1" stroke-width="7.0"><path id="bb6" d="M1370 1079h0m48-9h0m-372 129h0m31 8h0m27 6h0"/></g><use href="#bb6" stroke="#50dde8" stroke-width="1.8"/>
</g>
<g fill="none" stroke-linecap="round" transform="scale(0.5)">
<g stroke="#06aeed" stroke-width="7.0"><path id="ei00" d="M1446 1021h0"/></g><use href="#ei00" stroke="#38bef1" stroke-width="1.8"/>
<g stroke="#00b5eb" stroke-width="7.0"><path id="ei01" d="M1430 871h0m10 12h0m6 39h0m-2 24h0m0 4h0m1 5h0m-4 15h0m0 27h0m2 14h0m-6 36h0"/></g><use href="#ei01" stroke="#33c4ef" stroke-width="1.8"/>
<g stroke="#00b5eb" stroke-width="7.0"><path id="eo01" d="M1457 858h0m-10 63h0m14 10h0m-10 12h0m-1 5h0m-527 39h0m526 20h0m1 48h0m-524 6h0"/></g><use href="#eo01" stroke="#80daf5" stroke-width="2.8"/>
<g stroke="#07bbea" stroke-width="7.0"><path id="ei02" d="M1381 773h0m-414 13h0m427 4h0m-449 21h0m460-6h0m7 2h0m6 11h0m1 12h0m5 1h0m-494 9h0m-1 18h0m11-4h0m490 7h0m2 2h0m-2 1h0m0 6h0m0-2h0m-503 9h0m0 17h0m511 17h0m1-7h0m0 0h0m3 11h0m-520 10h0m6 8h0m513-2h0m0-4h0m4 3h0m-521 17h0m517-10h0m8 1h0m-527 19h0m5 9h0m511 1h0m2 1h0m4 13h0m4 8h0m-526 8h0m515 6h0m0 0h0m2 1h0m2 3h0m-519 8h0m517 0h0m7 4h0m2-1h0m-515 11h0m505-8h0m-511 22h0m5-1h0m-4 2h0m4 18h0m496 12h0m5-6h0m-3 18h0m-484 21h0m5-2h0m446 18h0m6 3h0m-11 9h0m-7 15h0m-387 19h0m364 1h0m-1 6h0"/></g><use href="#ei02" stroke="#39c9ee" stroke-width="1.8"/>
<g stroke="#07bbea" stroke-width="7.0"><path id="eo02" d="M1016 725h0m313 5h0m51 7h0m-436 49h0m460-2h0m-458 9h0m476 1h0m1 0h0m-514 55h0m22 3h0m520 17h0m-540 28h0m532-2h0m12 3h0m6-7h0m-552 11h0m2 5h0m536-2h0m11 9h0m-8 20h0m4-1h0m1 0h0m-9 18h0m1-2h0m0 4h0m-1 10h0m-531 22h0m543 5h0m-15 11h0m0 3h0m4-8h0m12 11h0m-536 12h0m525-2h0m0-7h0m4 0h0m3 1h0m-537 32h0m528 0h0m-519 7h0m514 6h0m-507 12h0m508 0h0m-512 36h0m25 31h0m463 2h0"/></g><use href="#eo02" stroke="#83ddf4" stroke-width="2.8"/>
<g stroke="#0dc2e8" stroke-width="7.0"><path id="ei03" d="M1283 713h0m-260 18h0m33-8h0m235 0h0m15 6h0m23 10h0m6-4h0m-355 22h0m392 6h0m-396 7h0m413 5h0m2 1h0m3 9h0m-442 13h0m451-4h0m2 4h0m9 5h0m-5 2h0m7 7h0m4-5h0m-481 19h0m4 1h0m474 1h0m11 10h0m-489 11h0m488 0h0m-494 14h0m5-9h0m490-2h0m5 3h0m-509 17h0m6 0h0m500 0h0m6 1h0m-516 8h0m517 3h0m1 3h0m2-4h0m-517 5h0m2 9h0m511-3h0m3-6h0m-516 22h0m514-9h0m5-1h0m-522 14h0m6 8h0m513-10h0m6 2h0m-523 11h0m4 3h0m2 5h0m516-6h0m1 3h0m1 2h0m-523 9h0m1 9h0m3 2h0m511-2h0m-514 10h0m514 8h0m1-8h0m4 2h0m-515 11h0m2 7h0m511 1h0m0-6h0m2 4h0m-517 8h0m2 6h0m512-4h0m-516 17h0m514-9h0m2-1h0m-511 12h0m4 9h0m-4 9h0m7-2h0m503-1h0m3 4h0m-10 16h0m4-6h0m1 2h0m2 4h0m-514 2h0m2 0h0m9 5h0m495 5h0m4-6h0m1 5h0m0-2h0m-502 5h0m499 6h0m2-7h0m1 2h0m-499 21h0m486-5h0m4 1h0m-487 14h0m1 2h0m484-9h0m6 8h0m0-7h0m-6 12h0m-18 19h0m-7 7h0m8-5h0m-440 13h0m1 4h0m422 5h0m-422 7h0m407 5h0m2 1h0m13-2h0m2-6h0m-17 12h0m-385 13h0m376 0h0m-36 19h0m18-5h0m9-5h0m-317 20h0m296-9h0m-41 15h0m-183 18h0m99-2h0"/></g><use href="#ei03" stroke="#3dceed" stroke-width="1.8"/>
<g stroke="#0dc2e8" stroke-width="7.0"><path id="eo03" d="M1186 692h0m-139 22h0m264 7h0m31 2h0m-378 28h0m9 1h0m4-6h0m-9 15h0m415-2h0m1 7h0m-435 25h0m460-1h0m-468 8h0m469-5h0m3 1h0m1 3h0m4 4h0m10 13h0m-498 11h0m-2 11h0m511-7h0m-518 20h0m1-8h0m0 0h0m8 3h0m-8 15h0m518 10h0m1 5h0m3-8h0m-1 10h0m-530 23h0m2-9h0m1 3h0m3 2h0m529 4h0m-531 12h0m528-11h0m-543 15h0m10 15h0m10-2h0m526-2h0m2 5h0m-529 16h0m528-1h0m-528 3h0m531 5h0m2 0h0m-5 9h0m-529 12h0m0 14h0m-4 10h0m529-2h0m10 11h0m-543 22h0m14-2h0m-5 15h0m2 1h0m-8 13h0m6-1h0m11 8h0m512-5h0m6 19h0m-512 7h0m494 6h0m1-5h0m-496 8h0m8 13h0m477 5h0m-13 12h0m-481 7h0m468 14h0m-17 12h0m6-2h0m9 0h0m-439 10h0m419 2h0m-381 12h0m375-2h0m-79 32h0m3 0h0m-207 17h0"/></g><use href="#eo03" stroke="#86e0f4" stroke-width="2.8"/>
<g stroke="#12c8e6" stroke-width="7.0"><path id="ei04" d="M1126 707h0m54-3h0m12-3h0m4 3h0m7-1h0m29-2h0m-154 17h0m32-3h0m1 2h0m43-6h0m105 4h0m13-7h0m12 7h0m36 12h0m-301 5h0m297 0h0m3 3h0m3-3h0m6 4h0m2-3h0m6 2h0m-344 17h0m1 2h0m347-5h0m12-1h0m1 3h0m6-6h0m3 7h0m-387 8h0m2 3h0m1 0h0m0 1h0m8-5h0m380 4h0m4-2h0m2 5h0m3 1h0m-421 21h0m4-3h0m9-4h0m426 3h0m1 3h0m10 3h0m-457 13h0m6-8h0m444-3h0m8 10h0m2 0h0m-469 25h0m477-5h0m-474 7h0m479 7h0m7 1h0m-491 3h0m-4 20h0m2 3h0m497-6h0m1-4h0m2 5h0m-510 15h0m0 7h0m0 2h0m6-4h0m507-1h0m5 20h0m-519 8h0m520 2h0m0-7h0m-520 26h0m3-1h0m512 2h0m3 4h0m-516 13h0m520-6h0m-523 18h0m5 1h0m4 11h0m-6 14h0m3-4h0m518-4h0m-522 19h0m5-5h0m1 3h0m510 3h0m3 0h0m-520 12h0m1-6h0m3-2h0m507 5h0m5 0h0m-515 10h0m2 6h0m1 0h0m2-7h0m505 15h0m4 0h0m-510 15h0m5-9h0m2 3h0m507-4h0m-513 12h0m3 9h0m3-1h0m498-2h0m-497 9h0m7 7h0m489-7h0m-494 18h0m487-6h0m4 2h0m-490 7h0m2 6h0m0 0h0m3-1h0m4 3h0m473 3h0m6-9h0m2 3h0m-486 10h0m6 7h0m467-2h0m-457 14h0m-9 3h0m7 4h0m6 1h0m451-4h0m-444 21h0m0-5h0m425 5h0m2-9h0m-421 13h0m2 2h0m0 13h0m2-1h0m3-3h0m6 1h0m2 2h0m396-5h0m-398 15h0m5 5h0m10 1h0m2 0h0m6 1h0m355-10h0m1 4h0m0 2h0m-358 6h0m339 7h0m-323 7h0m4 4h0m280 3h0m6-3h0m1-3h0m9 2h0m-267 13h0m223 5h0m4-11h0m1 4h0m12 1h0m1-1h0m6-1h0m-242 10h0m10 2h0m14 2h0m6 0h0m7 3h0m119 1h0m26-5h0m3 0h0m19-3h0m-134 11h0m18 6h0"/></g><use href="#ei04" stroke="#41d3eb" stroke-width="1.8"/>
<g stroke="#12c8e6" stroke-width="7.0"><path id="eo04" d="M1216 695h0m3-8h0m6 7h0m24-8h0m-63 13h0m29 0h0m16-2h0m11 1h0m-194 14h0m-62 9h0m53 1h0m272 2h0m-326 22h0m400 2h0m-4 8h0m5 10h0m-428 9h0m436 2h0m12 2h0m-461 14h0m464-1h0m6 9h0m-494 7h0m3-3h0m14 8h0m492-7h0m-493 16h0m485-4h0m0 3h0m4 1h0m1-6h0m-507 14h0m5-2h0m4 9h0m0-3h0m515-3h0m-513 18h0m503-1h0m1-6h0m-505 12h0m506 6h0m2 3h0m0-8h0m-535 12h0m547 5h0m-539 7h0m10-3h0m521 6h0m17 5h0m-548 7h0m539-5h0m-540 12h0m538 2h0m-541 20h0m4-3h0m537 5h0m1 9h0m-531 9h0m1 4h0m531-3h0m-529 4h0m0 2h0m-9 18h0m6-6h0m-1 21h0m5-3h0m-2 15h0m-5 8h0m535-4h0m-532 18h0m543-4h0m-535 17h0m532-10h0m-552 32h0m24 22h0m513-3h0m4 6h0m-517 8h0m10 5h0m487 6h0m4-4h0m4 2h0m-11 12h0m12 2h0m-19 9h0m4 3h0m1 1h0m9 11h0m-57 30h0m8-7h0m0 2h0m1 4h0m-16 12h0m-380 6h0m7 8h0m373-10h0m9 7h0m-360 26h0m46 8h0m3 1h0m213-1h0m-192 7h0m18 5h0m47 3h0m60-8h0m38 5h0m19-2h0m-81 14h0m5 5h0m5-2h0"/></g><use href="#eo04" stroke="#88e4f2" stroke-width="2.8"/>
<g stroke="#18cde4" stroke-width="7.0"><path id="ei05" d="M1152 706h0m24-4h0m13 1h0m10 1h0m30 3h0m14 0h0m-184 10h0m10 1h0m16 1h0m12-3h0m18-2h0m6-4h0m9 4h0m29-6h0m26 0h0m28 0h0m31 1h0m9 1h0m4 4h0m8-1h0m2-1h0m5 5h0m2-5h0m-236 16h0m3-2h0m1 0h0m6-3h0m5 1h0m2-1h0m1-1h0m5 2h0m4-2h0m4-2h0m12 0h0m209 1h0m1 7h0m6-2h0m18 3h0m-312 12h0m3 0h0m4 1h0m296-10h0m5 2h0m-326 21h0m4-8h0m1 2h0m18-3h0m328-1h0m11 4h0m6 0h0m3 4h0m11 2h0m-390 7h0m-6 13h0m2 0h0m2-1h0m-19 13h0m-4 15h0m444-10h0m8 4h0m5 6h0m-472 28h0m0 6h0m-1 14h0m494 10h0m-504 26h0m516 4h0m-512 77h0m-5 6h0m2 19h0m3 4h0m2 25h0m5 40h0m2 3h0m488 3h0m-488 5h0m3 5h0m488-2h0m-482 12h0m481 1h0m2 2h0m-480 7h0m465 1h0m-466 16h0m9 0h0m-5 3h0m10 10h0m436-2h0m6-1h0m0-4h0m-439 13h0m3 5h0m419-1h0m8 0h0m2 0h0m0-8h0m-8 18h0m-415 11h0m7-6h0m381 10h0m4 0h0m-355 13h0m347-3h0m5 0h0m-39 15h0m13-2h0m6-8h0m-321 14h0m2-2h0m2 4h0m10 3h0m1-3h0m5 2h0m279-6h0m-274 20h0m3-1h0m2-1h0m2-3h0m216 6h0m26-8h0m-236 11h0m12 0h0m10 6h0m2 0h0m3-4h0m3 1h0m5 7h0m2-7h0m11 6h0m4 0h0m1 1h0m8 0h0m10-1h0m1-1h0m11 2h0m16-1h0m53-3h0m12 3h0m8-5h0m8 0h0m2 1h0m4-1h0m2-1h0m5 5h0m8-8h0m2 1h0m12 2h0m-162 8h0m19 1h0m16 6h0m8-2h0m3 2h0m5-1h0m9-2h0m15-1h0m11 1h0m9-4h0m10 2h0m1 0h0m17-1h0m1-1h0"/></g><use href="#ei05" stroke="#46d7e9" stroke-width="1.8"/>
<g stroke="#18cde4" stroke-width="7.0"><path id="eo05" d="M1149 682h0m-9 10h0m35-6h0m3 3h0m19 5h0m50 0h0m-197 12h0m22 1h0m25-2h0m18-6h0m24-2h0m7 5h0m63-4h0m7-1h0m13 0h0m3 0h0m1 0h0m13-1h0m6 4h0m13-1h0m12 8h0m14-9h0m1 1h0m26 1h0m-307 14h0m1 0h0m32 4h0m14-8h0m8 2h0m15-3h0m9-1h0m203 8h0m27 2h0m6-6h0m-312 16h0m296-8h0m25 7h0m-380 16h0m3-3h0m33-1h0m11-6h0m4-1h0m333 2h0m25 9h0m6-6h0m-387 12h0m388 2h0m-411 15h0m12-6h0m-14 12h0m438-2h0m9 17h0m-467 13h0m479-3h0m-502 24h0m507 0h0m-491 8h0m510 19h0m7 28h0m-534 67h0m538-6h0m-535 12h0m3 37h0m1 18h0m523-6h0m-522 16h0m6 9h0m-14 31h0m12-5h0m2 15h0m0 3h0m2-4h0m5 15h0m0-1h0m-10 3h0m7 10h0m505-5h0m-496 15h0m-13 22h0m21-4h0m457 8h0m-454 5h0m451 6h0m-440 11h0m8 1h0m-11 5h0m417 5h0m20-3h0m-407 18h0m383 1h0m-388 10h0m374-2h0m-27 11h0m9-2h0m-331 13h0m4-4h0m19 0h0m10 6h0m244 1h0m8 2h0m17-3h0m8-5h0m18-1h0m-285 14h0m2-1h0m32 7h0m192-1h0m42-7h0m-268 13h0m30 0h0m8 2h0m15 0h0m8 4h0m20-4h0m20 5h0m30 0h0m7 2h0m1-2h0m18 1h0m11-7h0m9 2h0m1 2h0m51-7h0m-170 13h0m16-1h0m49 4h0m4-3h0m3 6h0m4-7h0m36 10h0m4-9h0m-36 11h0"/></g><use href="#eo05" stroke="#8ce6f2" stroke-width="2.8"/>
<g stroke="#1fd3e1" stroke-width="7.0"><path id="ei06" d="M1122 706h0m26 1h0m8-1h0m7-3h0m14-4h0m1 6h0m4 1h0m7-7h0m11 3h0m6 4h0m7 1h0m2-2h0m11-1h0m10 0h0m6-1h0m3 3h0m-181 12h0m6-2h0m26 2h0m7-5h0m7-4h0m3 6h0m18-7h0m13 0h0m9 2h0m102 2h0m15-2h0m13 3h0m-254 14h0m6-2h0m13 3h0m6-2h0m1 1h0m10-6h0m1 2h0m8-3h0m212 4h0m36 6h0m-299 5h0m311 1h0m-337 16h0m2 0h0m2-6h0m10-1h0m331 7h0m0-7h0m-364 15h0m13-4h0m-50 58h0m-8 42h0m509 56h0m-516 89h0m507 40h0m-486 62h0m6 0h0m450 16h0m-398 52h0m4 2h0m349-1h0m2 2h0m-13 4h0m-324 15h0m5-4h0m9 4h0m1 1h0m282 2h0m3-7h0m4 0h0m-287 11h0m11 3h0m9 3h0m12 4h0m5 0h0m194 0h0m8-6h0m24 2h0m6-3h0m-243 9h0m0 0h0m18 7h0m5-2h0m2-4h0m5 10h0m1-4h0m0 4h0m13-3h0m4 1h0m21 2h0m2 0h0m7 0h0m62 0h0m9-3h0m11 3h0m6-1h0m4-5h0m5 0h0m6 3h0m9 0h0m11-2h0m3-1h0m11-1h0m-182 8h0m17 2h0m30-2h0m19 3h0m1 4h0m35-5h0m0 5h0"/></g><use href="#ei06" stroke="#4cdce7" stroke-width="1.8"/>
<g stroke="#1fd3e1" stroke-width="7.0"><path id="eo06" d="M1124 682h0m-30 11h0m3 0h0m32-1h0m37 0h0m8-4h0m49 3h0m13 4h0m-168 11h0m6-1h0m11-5h0m18 2h0m17 0h0m32 0h0m62-3h0m76 6h0m-229 10h0m4 0h0m29-6h0m201 8h0m2-7h0m27 6h0m15 2h0m10-3h0m-51 6h0m-298 19h0m374 10h0m8 7h0m12 17h0m-450 17h0m-15 65h0m-11 28h0m10 170h0m15 63h0m14 11h0m13 22h0m1 2h0m15 25h0m15 7h0m373-3h0m-38 16h0m2 2h0m-304 1h0m7 8h0m265 3h0m-272 7h0m13-2h0m23 4h0m247-7h0m-265 11h0m31 8h0m10-3h0m19 1h0m16 5h0m40-1h0m10-5h0m0 0h0m2 1h0m20 5h0m6-8h0m1 3h0m23-5h0m5 1h0m16 1h0m16-2h0m-130 11h0m15 3h0m2-3h0m2 1h0"/></g><use href="#eo06" stroke="#8fe9f0" stroke-width="2.8"/>
<g stroke="#24d8df" stroke-width="7.0"><path id="ei07" d="M1156 706h0m-63 10h0m2-5h0m15-2h0m5 1h0m131 0h0m7 0h0m-235 21h0m45-7h0m-49 14h0m-80 293h0m507-11h0m-516 27h0m83 124h0m16 23h0m279 6h0m-213 20h0m1-7h0m17 8h0m5 1h0m69 1h0m50-1h0m-96 2h0m6 2h0m1 0h0m25 1h0m4-3h0m5 0h0m29 2h0"/></g><use href="#ei07" stroke="#50e0e5" stroke-width="1.8"/>
<g stroke="#24d8df" stroke-width="7.0"><path id="eo07" d="M1278 692h0m-193 15h0m25-1h0m51-6h0m21-2h0m24 0h0m-185 18h0m47-8h0m43 0h0m-84 13h0m-36 25h0m-73 143h0m526 143h0m-472 117h0m82 66h0m5 1h0m18 14h0m31-2h0m14 3h0m128 4h0m-74 16h0"/></g><use href="#eo07" stroke="#92ecef" stroke-width="2.8"/>
<g stroke="#2ddedc" stroke-width="7.0"><path id="ei08" d="M1127 707h0m16-1h0m3-2h0m14 3h0m5 0h0m34-3h0m-129 10h0m7 0h0m9 5h0m48-8h0m7 0h0m102-2h0m13 6h0m26 3h0m-236 9h0m-61 28h0m367-7h0m-380 18h0m-4 9h0m-1 10h0m-18 18h0m1-7h0m0 1h0m462 6h0m9 20h0m6 17h0m-495 12h0m504 17h0m-515 26h0m6-4h0m-4 59h0m513 16h0m-506 6h0m507 34h0m-509 41h0m508-2h0m-492 25h0m453 65h0m2 3h0m-423 8h0m412 0h0m-16 14h0m-378 9h0m366 4h0m-340 18h0m4 4h0m14 5h0m5 3h0m3 3h0m7 0h0m10 4h0m22 8h0m21 3h0m136 0h0m-106 4h0m12 5h0m0 0h0m13-6h0m10 5h0m5-2h0"/></g><use href="#ei08" stroke="#57e5e3" stroke-width="1.8"/>
<g stroke="#2ddedc" stroke-width="7.0"><path id="eo08" d="M1223 676h0m-26 13h0m36 6h0m-127 10h0m20-9h0m3 8h0m64-6h0m11-2h0m-96 12h0m172 0h0m-284 22h0m16 0h0m301-3h0m44 13h0m-8 5h0m32 3h0m-412 15h0m417-4h0m-423 10h0m-28 57h0m-8 23h0m2-6h0m520 73h0m-530 87h0m2-3h0m-7 13h0m529 14h0m-11 49h0m0 11h0m-15 37h0m-6 25h0m-33 13h0m22-7h0m2-1h0m-32 20h0m-358 21h0m284 16h0m-241 4h0m5 3h0m11 1h0m14 2h0m38 6h0m30 7h0m24-3h0m18 3h0m-53 12h0m15-8h0"/></g><use href="#eo08" stroke="#96eeee" stroke-width="2.8"/>
<g stroke="#06aeed" stroke-width="7.0"><path id="ei10" d="M1438 950h0m3 85h0"/></g><use href="#ei10" stroke="#38bef1" stroke-width="1.8"/>
<g stroke="#00b5eb" stroke-width="7.0"><path id="ei11" d="M1430 873h0m11 14h0m3 104h0m-1 20h0m-5 45h0m-11 12h0m-7 39h0"/></g><use href="#ei11" stroke="#33c4ef" stroke-width="1.8"/>
<g stroke="#00b5eb" stroke-width="7.0"><path id="eo11" d="M1423 814h0m20 66h0m-527 19h0m-9 6h0m550 3h0m-541 82h0m543-4h0m-540 36h0m524 5h0"/></g><use href="#eo11" stroke="#80daf5" stroke-width="2.8"/>
<g stroke="#07bbea" stroke-width="7.0"><path id="ei12" d="M1336 738h0m55 40h0m-438 6h0m469 31h0m-7 8h0m2-5h0m-476 13h0m484 10h0m6 13h0m-1 11h0m-505 16h0m510-5h0m-509 22h0m517-10h0m-521 19h0m4-6h0m-6 14h0m518-3h0m-508 25h0m0 1h0m509 7h0m5 2h0m-523 7h0m514 12h0m0 0h0m5-4h0m1 10h0m3 0h0m2 16h0m-523 9h0m1 3h0m510 0h0m4 10h0m-503 12h0m499 5h0m-503 7h0m508 2h0m-7 9h0m5 3h0m-496 14h0m488-2h0m7-4h0m-499 19h0m491 14h0m-10 13h0m4-2h0m-13 10h0m-12 16h0m2 1h0m7-10h0m-445 14h0m12 18h0m386 20h0m-11 16h0"/></g><use href="#ei12" stroke="#39c9ee" stroke-width="1.8"/>
<g stroke="#07bbea" stroke-width="7.0"><path id="eo12" d="M965 757h0m433 24h0m19 20h0m8 3h0m13 41h0m4 2h0m-5 22h0m4 6h0m-1 1h0m7 3h0m1 6h0m-535 3h0m533 0h0m3 2h0m5 3h0m-546 26h0m540-4h0m-532 9h0m1 20h0m533 8h0m-5 11h0m-529 37h0m4 3h0m528 46h0m-9 12h0m3 9h0m-6 15h0m-4 12h0m-1 28h0m-475 4h0m450 8h0m-6 6h0m-29 30h0"/></g><use href="#eo12" stroke="#83ddf4" stroke-width="2.8"/>
<g stroke="#0dc2e8" stroke-width="7.0"><path id="ei13" d="M1195 704h0m27-2h0m14-3h0m19 13h0m21 0h0m34 15h0m8 4h0m-306 4h0m5 2h0m10-5h0m9 1h0m268-1h0m5 2h0m15-1h0m11 7h0m12 10h0m3-3h0m3 5h0m18 7h0m4 3h0m5 3h0m-411 10h0m421 1h0m-429 6h0m1-2h0m431 5h0m2 3h0m-448 21h0m468 18h0m2-10h0m2 4h0m-483 11h0m1 3h0m488-3h0m1 3h0m-492 8h0m495 7h0m3-4h0m0-3h0m0-1h0m-497 19h0m494-1h0m3-5h0m2 2h0m0 4h0m1-9h0m-509 17h0m2 4h0m6-6h0m505 18h0m-4 10h0m1-6h0m0 7h0m1-1h0m3 1h0m-3 8h0m2-3h0m-517 20h0m0 2h0m1-4h0m515-5h0m5 2h0m0 7h0m-521 2h0m518 10h0m4-5h0m-2 10h0m1 1h0m5-3h0m-521 15h0m2 4h0m1-5h0m512 4h0m-7 10h0m1-4h0m1 9h0m2-7h0m0 2h0m3 2h0m1-7h0m-520 11h0m1 7h0m4-7h0m0 3h0m512 14h0m4 6h0m1-8h0m3 6h0m-10 13h0m-510 11h0m2-4h0m515-4h0m-5 16h0m2-5h0m0 0h0m-3 20h0m0-3h0m-510 14h0m1-1h0m5 5h0m496-10h0m2 8h0m3-2h0m-502 5h0m1 10h0m7 1h0m495-11h0m-501 23h0m2-7h0m9 19h0m477-2h0m1-4h0m1 6h0m0-1h0m1 0h0m-12 7h0m5 5h0m2-1h0m2-8h0m2 3h0m-18 16h0m5 2h0m-6 9h0m2-1h0m0-3h0m-444 17h0m0-1h0m3 2h0m1-2h0m426-4h0m1 8h0m4-8h0m-425 17h0m3 0h0m417-8h0m-415 19h0m388-6h0m-364 19h0m352 0h0m4-2h0m-27 14h0m9-2h0m2-4h0m-32 17h0m6-4h0m4 1h0m11-2h0m-35 15h0m-186 16h0m19-1h0"/></g><use href="#ei13" stroke="#3dceed" stroke-width="1.8"/>
<g stroke="#0dc2e8" stroke-width="7.0"><path id="eo13" d="M1302 716h0m16-3h0m26 21h0m-357 10h0m360 0h0m47 20h0m-438 9h0m3 5h0m449 5h0m-466 20h0m470-3h0m8 0h0m2-2h0m2 16h0m-486 6h0m485 2h0m2 2h0m2-3h0m-498 7h0m1 14h0m508 0h0m22 1h0m-21 16h0m-520 5h0m524 6h0m6-5h0m-535 11h0m526 7h0m5 4h0m9-6h0m-562 16h0m26-9h0m527 6h0m9-5h0m-539 21h0m0-6h0m-8 16h0m542 0h0m-525 11h0m527-2h0m-533 9h0m2 8h0m531-7h0m1 8h0m2-7h0m-538 10h0m533-2h0m2 10h0m-532 5h0m1 2h0m527-4h0m4 4h0m-540 28h0m542-9h0m0 1h0m3 5h0m-540 11h0m531 2h0m3 3h0m-534 12h0m532-7h0m-524 15h0m519 3h0m3-2h0m27 0h0m-556 14h0m10-5h0m520 16h0m-512 14h0m503-7h0m4 17h0m-513 9h0m9 6h0m496-5h0m-497 11h0m512-4h0m-503 22h0m1 3h0m473 1h0m1-1h0m-461 21h0m446-1h0m-8 10h0m9-8h0m-454 18h0m428 5h0m-14 10h0m11-1h0m-54 26h0m28-9h0m-34 16h0m-222 23h0m84 1h0m34 8h0m20 0h0"/></g><use href="#eo13" stroke="#86e0f4" stroke-width="2.8"/>
<g stroke="#12c8e6" stroke-width="7.0"><path id="ei14" d="M1127 707h0m6-2h0m63 0h0m12 2h0m5-2h0m6-6h0m17 0h0m0-1h0m2 4h0m-177 15h0m0 0h0m50-8h0m30 0h0m67-1h0m42 4h0m4-4h0m15 0h0m7 6h0m4-2h0m5 6h0m1-1h0m4 2h0m-270 11h0m12 0h0m21-2h0m251 1h0m-292 9h0m302-6h0m11 5h0m8 4h0m2-2h0m-349 13h0m10 1h0m1-6h0m342-2h0m10 6h0m5-3h0m2 1h0m1-1h0m-380 13h0m5-5h0m1 6h0m5-2h0m378 1h0m-398 9h0m1 1h0m1 2h0m2-5h0m427 18h0m2 5h0m2-4h0m-452 10h0m2 0h0m444-5h0m2 1h0m-452 17h0m-6 8h0m476-2h0m5 9h0m5 14h0m2 0h0m-497 2h0m4-1h0m-9 21h0m2 1h0m3-2h0m2-8h0m5 4h0m498-2h0m-508 22h0m508 4h0m0 6h0m-513 10h0m1 2h0m1-9h0m-5 20h0m517-2h0m-512 7h0m4 15h0m-6 15h0m5-6h0m515 2h0m-522 8h0m522 10h0m-518 5h0m5 7h0m1-4h0m506 13h0m-515 11h0m0 0h0m518-4h0m-517 16h0m6 5h0m507-5h0m-505 26h0m4-1h0m501 10h0m0-1h0m-510 13h0m8 10h0m498 8h0m-496 8h0m2 2h0m5 2h0m-4 1h0m6 7h0m1 3h0m0-3h0m479-1h0m4-5h0m-477 18h0m470-6h0m4-1h0m-474 18h0m457-1h0m6 0h0m-456 9h0m1 7h0m1 1h0m436-3h0m2-2h0m1 6h0m2 0h0m9-11h0m-453 14h0m7 10h0m0 1h0m13 10h0m-1 2h0m5 3h0m4 6h0m3-3h0m377-2h0m2 3h0m5-6h0m2 0h0m-383 18h0m367 1h0m-354 3h0m8 2h0m320 3h0m3 1h0m2-1h0m5 1h0m-306 14h0m281 3h0m4-7h0m3 1h0m-279 12h0m7 3h0m23 2h0m203-4h0m7-5h0m20 2h0m3-1h0m-200 21h0m27 0h0m18 0h0m57-6h0m3 4h0m2-2h0m8 4h0m10-1h0m8-2h0m-108 6h0m25 4h0m63-6h0"/></g><use href="#ei14" stroke="#41d3eb" stroke-width="1.8"/>
<g stroke="#12c8e6" stroke-width="7.0"><path id="eo14" d="M1134 692h0m15 1h0m54-3h0m-151 14h0m1 0h0m35 1h0m11-5h0m153 4h0m0-7h0m-165 18h0m252 2h0m-344 13h0m9-1h0m8 0h0m290-9h0m5 2h0m14 3h0m47 5h0m-377 12h0m7 0h0m356-4h0m1 5h0m-388 11h0m8 0h0m5-6h0m1 2h0m385-4h0m-405 17h0m5 2h0m420-2h0m5-2h0m2 0h0m-453 17h0m7 1h0m22-10h0m418-1h0m8 1h0m-455 20h0m16-9h0m-18 18h0m4 5h0m465-10h0m3 6h0m2-6h0m3 8h0m3-2h0m-477 14h0m0-1h0m-20 13h0m14-5h0m492-4h0m-500 19h0m511-6h0m-509 21h0m514 5h0m-530 10h0m11-1h0m-6 15h0m0 20h0m527-2h0m-531 5h0m-13 13h0m553-2h0m-534 20h0m2-4h0m-19 10h0m2 8h0m10-1h0m-1 3h0m537 3h0m-539 9h0m7 10h0m0 19h0m2-1h0m532 4h0m-534 12h0m1 7h0m3 6h0m529 5h0m3 5h0m-538 8h0m528-1h0m-530 11h0m12 17h0m8 6h0m499 4h0m-507 13h0m4 17h0m497-1h0m1-1h0m-6 13h0m-469 10h0m467 3h0m-464 6h0m-9 11h0m13 10h0m5 4h0m8 1h0m403 3h0m-390 6h0m2 5h0m1 0h0m383-8h0m-384 14h0m8-1h0m1 7h0m13 4h0m10 6h0m303 4h0m14-8h0m0 6h0m14-1h0m-20 9h0m-67 16h0m11-3h0m11-6h0m-75 21h0m36-6h0m19 1h0m-125 8h0m19 16h0"/></g><use href="#eo14" stroke="#88e4f2" stroke-width="2.8"/>
<g stroke="#18cde4" stroke-width="7.0"><path id="ei15" d="M1136 707h0m7-2h0m3-1h0m12-1h0m4-2h0m20 1h0m32 1h0m3 3h0m2 1h0m3 0h0m20-1h0m5-2h0m0 1h0m-158 11h0m4 1h0m2-7h0m3 2h0m2 1h0m3-2h0m8-1h0m71-2h0m30 0h0m46 6h0m1-4h0m3 4h0m3-2h0m0 2h0m0-5h0m11 6h0m13 2h0m-250 12h0m3 0h0m2 0h0m1-1h0m11-3h0m35-3h0m199 0h0m3 1h0m1 4h0m2-2h0m0-1h0m3 2h0m24 3h0m-317 9h0m3-1h0m5-3h0m3 4h0m293-6h0m23 5h0m1-4h0m-342 21h0m3-3h0m349 0h0m3-3h0m8 1h0m5-1h0m-387 13h0m4 6h0m4-3h0m9-6h0m380 6h0m0 1h0m-402 12h0m2-7h0m408 0h0m13 14h0m11 6h0m-451 3h0m450 8h0m2-1h0m5 1h0m-458 4h0m1-1h0m-4 21h0m-2 4h0m-9 19h0m494 6h0m-503 18h0m506 2h0m-508 12h0m0 37h0m517-10h0m-518 12h0m520 46h0m-515 46h0m0-5h0m12 51h0m3 1h0m485 12h0m0 3h0m1-10h0m-493 12h0m488-1h0m5 7h0m-478 11h0m-3 9h0m4-1h0m2 7h0m-2 6h0m12 14h0m1-5h0m433 3h0m-21 19h0m10-4h0m-413 8h0m5 5h0m390 1h0m10-5h0m-387 19h0m0-5h0m4 0h0m6 5h0m4 0h0m350-2h0m4 0h0m10-8h0m-365 13h0m5 1h0m1 9h0m2-5h0m319-1h0m4 6h0m7-3h0m0-1h0m6 0h0m3-2h0m-334 11h0m10 5h0m277 2h0m11-3h0m-267 8h0m225 7h0m6-7h0m1-3h0m1 10h0m10-6h0m5 0h0m4 3h0m-243 4h0m18 3h0m5 0h0m10 6h0m0-7h0m2 8h0m7-4h0m4 1h0m1 3h0m6-3h0m20 2h0m11 0h0m11 1h0m64-1h0m3 1h0m10-4h0m7 5h0m4-1h0m4-3h0m3 3h0m2-7h0m11 1h0m7-1h0m10 1h0m-163 8h0m28 2h0m2 5h0m11-2h0m3 0h0m4 2h0m74-7h0"/></g><use href="#ei15" stroke="#46d7e9" stroke-width="1.8"/>
<g stroke="#18cde4" stroke-width="7.0"><path id="eo15" d="M1099 690h0m72 5h0m6-5h0m2 4h0m3 1h0m16-6h0m6 4h0m6 1h0m12 1h0m13 0h0m-170 12h0m35-1h0m7-2h0m7-4h0m22 0h0m1 0h0m34-4h0m7 2h0m55-1h0m15 3h0m19-2h0m5 7h0m11-1h0m-255 15h0m21 0h0m12-11h0m2 3h0m16 1h0m1 1h0m5 2h0m-68 11h0m32-5h0m261 5h0m18 4h0m18 4h0m-387 12h0m13-1h0m15-1h0m381 9h0m2-8h0m-428 14h0m18 5h0m7-6h0m9-2h0m-32 30h0m7-3h0m-21 19h0m11-6h0m491 15h0m-508 11h0m498-3h0m-508 43h0m2-7h0m-4 27h0m532 10h0m5-3h0m-535 69h0m7 2h0m1 57h0m1 0h0m-2 13h0m2-4h0m-3 13h0m3 13h0m3 16h0m7 19h0m8 23h0m1-6h0m-4 22h0m13-6h0m5 18h0m6-2h0m2 1h0m6 13h0m0 1h0m4 1h0m-7 18h0m1-3h0m17-1h0m391-2h0m-377 17h0m4 0h0m5 6h0m349-2h0m9-9h0m-384 22h0m37 1h0m0-2h0m4 2h0m300 0h0m27-8h0m-331 11h0m3 3h0m13-1h0m8 3h0m-14 6h0m26 2h0m203 8h0m13-3h0m3-1h0m7-1h0m7 0h0m-235 7h0m71 5h0m20 5h0m10-4h0m34 0h0m67-1h0m-123 16h0m30-8h0m35 8h0"/></g><use href="#eo15" stroke="#8ce6f2" stroke-width="2.8"/>
<g stroke="#1fd3e1" stroke-width="7.0"><path id="ei16" d="M1131 706h0m1 1h0m20-1h0m7 1h0m2 0h0m4-4h0m1 2h0m0-1h0m0-6h0m5 4h0m3-3h0m3 6h0m3-5h0m1 5h0m1-4h0m3 6h0m19-6h0m5 3h0m1 2h0m13-4h0m21 5h0m-173 12h0m3-1h0m2-4h0m22-5h0m12 3h0m5 3h0m18-2h0m21-2h0m3-3h0m83 0h0m10 2h0m-219 20h0m9-3h0m5 1h0m25-5h0m7-3h0m212 6h0m5 1h0m8 1h0m-285 10h0m2-5h0m301 2h0m5-1h0m-322 11h0m333 0h0m-354 17h0m381-3h0m7 7h0m-414 22h0m10-7h0m1 4h0m-16 10h0m472 14h0m-482 8h0m-6 12h0m-9 129h0m3-10h0m15 140h0m482-2h0m-10 11h0m-440 49h0m410 1h0m-402 7h0m1 5h0m27 27h0m3-2h0m5 6h0m41 18h0m236 0h0m0-3h0m-234 8h0m35 5h0m3 5h0m13-4h0m14 2h0m9 0h0m42-1h0m30-3h0m10 4h0m13 2h0m11-3h0m7-3h0m13-3h0m1 6h0m7-3h0m4-3h0m-157 13h0m13-2h0m1 2h0m24 2h0m22-4h0m26-1h0"/></g><use href="#ei16" stroke="#4cdce7" stroke-width="1.8"/>
<g stroke="#1fd3e1" stroke-width="7.0"><path id="eo16" d="M1223 683h0m-84 11h0m31 0h0m2 0h0m52-3h0m52 4h0m-189 10h0m25-1h0m18-3h0m3-4h0m7 3h0m11-3h0m3 2h0m2 2h0m66-4h0m20 2h0m22 4h0m14-4h0m20 5h0m-267 11h0m50-1h0m204-1h0m-264 12h0m4 0h0m3-5h0m6 2h0m271 0h0m37 9h0m-345 8h0m357 4h0m-376 1h0m-24 38h0m-20 25h0m4 4h0m-24 100h0m548 71h0m-541 47h0m511 56h0m-493 15h0m-14 20h0m32 9h0m12 18h0m24 28h0m2 2h0m2 0h0m6 9h0m10 6h0m4 4h0m11 12h0m7-3h0m250 5h0m34-5h0m12-4h0m-290 16h0m9 1h0m1-5h0m18 5h0m-4 15h0m46 0h0m2-4h0m10-1h0m8 0h0m59 5h0m24 0h0m12 1h0m-76 8h0m11-4h0m12-1h0m77 0h0m10 0h0"/></g><use href="#eo16" stroke="#8fe9f0" stroke-width="2.8"/>
<g stroke="#24d8df" stroke-width="7.0"><path id="ei17" d="M1145 704h0m61 2h0m27-1h0m-132 8h0m13 0h0m6-4h0m26 2h0m125 4h0m1-1h0m-231 17h0m0-3h0m247-3h0m-298 25h0m-42 57h0m495 137h0m-518 65h0m6 7h0m487 84h0m-427 62h0m361 11h0m2 9h0m-294 24h0m243-6h0m9 3h0m-251 11h0m52 8h0m19-2h0m11 0h0m117-2h0m3 0h0m-115 9h0m10 1h0m8-1h0"/></g><use href="#ei17" stroke="#50e0e5" stroke-width="1.8"/>
<g stroke="#24d8df" stroke-width="7.0"><path id="eo17" d="M1106 685h0m77 6h0m22 3h0m-51 4h0m4 3h0m149 10h0m0 10h0m24 1h0m-344 26h0m-22 397h0m25 38h0m42 19h0m313 6h0m-45 9h0m-236 11h0m17-4h0m24 11h0m45-3h0m0 1h0m2 2h0m17-1h0"/></g><use href="#eo17" stroke="#92ecef" stroke-width="2.8"/>
<g stroke="#2ddedc" stroke-width="7.0"><path id="ei18" d="M1117 707h0m43-2h0m21 2h0m46-4h0m-160 15h0m2-5h0m29-1h0m2-3h0m0 0h0m13 6h0m27-6h0m2 3h0m129 5h0m-253 11h0m21 0h0m249-4h0m19 10h0m24 1h0m10 3h0m30 17h0m15 27h0m-444 40h0m478 5h0m-488 2h0m502 23h0m0 16h0m-509 12h0m-1 14h0m0 59h0m8 18h0m-1 10h0m-1 3h0m508 47h0m-511 15h0m505 11h0m-5 32h0m-478 3h0m465 10h0m6-4h0m3 0h0m-461 19h0m447 0h0m-442 17h0m4-2h0m-5 11h0m22 20h0m352 17h0m13-3h0m-326 12h0m275 10h0m24-6h0m-276 15h0m6-5h0m226 1h0m3 3h0m3-5h0m-203 15h0m120 5h0m5 1h0m35-8h0m28 3h0m3-1h0m-131 9h0m5 2h0m9 0h0m10-4h0m5 3h0m9 0h0m37-3h0"/></g><use href="#ei18" stroke="#57e5e3" stroke-width="1.8"/>
<g stroke="#2ddedc" stroke-width="7.0"><path id="eo18" d="M1176 691h0m29 4h0m30 0h0m-132 11h0m6-1h0m46-6h0m112 7h0m19 0h0m-196 7h0m217-5h0m-310 33h0m360 1h0m4 0h0m18 6h0m19 27h0m-464 34h0m493 16h0m6 16h0m-523 33h0m-6 35h0m563 39h0m-545 42h0m525 17h0m7 3h0m-546 16h0m541-1h0m-523 24h0m1 7h0m522 6h0m-516 7h0m3 14h0m498 5h0m-497 5h0m4 9h0m495 19h0m-482 18h0m12 18h0m21 8h0m298 44h0m-1 4h0m14 10h0m-198 7h0m81 1h0m11 1h0m46-5h0m12 1h0m-118 12h0m114 1h0m-93 9h0m100-2h0"/></g><use href="#eo18" stroke="#96eeee" stroke-width="2.8"/>
</g>
<circle cx="595.4" cy="453.3" r="5.4" fill="#ff0000" stroke="#000" stroke-width="2.6"/>
<defs><linearGradient id="cb" x1="0" y1="0" x2="0" y2="1"><stop offset="0.0000" stop-color="#ff0000"/><stop offset="0.0156" stop-color="#ff0905"/><stop offset="0.0312" stop-color="#ff160b"/><stop offset="0.0469" stop-color="#ff2211"/><stop offset="0.0625" stop-color="#ff2f18"/><stop offset="0.0781" stop-color="#ff3b1e"/><stop offset="0.0938" stop-color="#ff4724"/><stop offset="0.1094" stop-color="#ff532a"/><stop offset="0.1250" stop-color="#ff5f30"/><stop offset="0.1406" stop-color="#ff6b37"/><stop offset="0.1562" stop-color="#ff763d"/><stop offset="0.1719" stop-color="#ff8143"/><stop offset="0.1875" stop-color="#ff8c49"/><stop offset="0.2031" stop-color="#ff964f"/><stop offset="0.2188" stop-color="#ffa055"/><stop offset="0.2344" stop-color="#ffa95b"/><stop offset="0.2500" stop-color="#ffb360"/><stop offset="0.2656" stop-color="#f9bb66"/><stop offset="0.2812" stop-color="#f0c46c"/><stop offset="0.2969" stop-color="#e8cb72"/><stop offset="0.3125" stop-color="#e0d377"/><stop offset="0.3281" stop-color="#d9da7d"/><stop offset="0.3438" stop-color="#d0e082"/><stop offset="0.3594" stop-color="#c8e688"/><stop offset="0.3750" stop-color="#c0eb8d"/><stop offset="0.3906" stop-color="#b9ef92"/><stop offset="0.4062" stop-color="#b0f397"/><stop offset="0.4219" stop-color="#a8f79c"/><stop offset="0.4375" stop-color="#a0faa1"/><stop offset="0.4531" stop-color="#99fca6"/><stop offset="0.4688" stop-color="#90feab"/><stop offset="0.4844" stop-color="#88ffaf"/><stop offset="0.5000" stop-color="#80ffb4"/><stop offset="0.5156" stop-color="#78ffb8"/><stop offset="0.5312" stop-color="#70febc"/><stop offset="0.5469" stop-color="#68fcc1"/><stop offset="0.5625" stop-color="#60fac5"/><stop offset="0.5781" stop-color="#58f8c9"/><stop offset="0.5938" stop-color="#50f4cc"/><stop offset="0.6094" stop-color="#48f1d0"/><stop offset="0.6250" stop-color="#40ecd4"/><stop offset="0.6406" stop-color="#38e7d7"/><stop offset="0.6562" stop-color="#30e1da"/><stop offset="0.6719" stop-color="#28dbde"/><stop offset="0.6875" stop-color="#20d5e1"/><stop offset="0.7031" stop-color="#18cde4"/><stop offset="0.7188" stop-color="#10c6e6"/><stop offset="0.7344" stop-color="#08bee9"/><stop offset="0.7500" stop-color="#00b5eb"/><stop offset="0.7656" stop-color="#08acee"/><stop offset="0.7812" stop-color="#10a2f0"/><stop offset="0.7969" stop-color="#1898f2"/><stop offset="0.8125" stop-color="#208ef4"/><stop offset="0.8281" stop-color="#2884f6"/><stop offset="0.8438" stop-color="#3079f7"/><stop offset="0.8594" stop-color="#386df9"/><stop offset="0.8750" stop-color="#4062fa"/><stop offset="0.8906" stop-color="#4856fb"/><stop offset="0.9062" stop-color="#504afc"/><stop offset="0.9219" stop-color="#583efd"/><stop offset="0.9375" stop-color="#6032fe"/><stop offset="0.9531" stop-color="#6826fe"/><stop offset="0.9688" stop-color="#7019ff"/><stop offset="0.9844" stop-color="#780dff"/><stop offset="1.0000" stop-color="#8000ff"/></linearGradient></defs>
<rect x="1072" y="257" width="36" height="446" fill="url(#cb)"/>
<g fill="none" stroke="#000" stroke-width="2.22">
<rect x="149" y="257" width="893" height="446"/>
<rect x="1072" y="257" width="36" height="446"/>
<path d="M149 703v10M223 703v10M298 703v10M372 703v10M447 703v10M521 703v10M596 703v10M670 703v10M744 703v10M819 703v10M893 703v10M968 703v10M1042 703v10M149 257h-10M149 331h-10M149 406h-10M149 480h-10M149 554h-10M149 629h-10M149 703h-10M1108 257h10M1108 368h10M1108 480h10M1108 592h10M1108 703h10"/>
<path d="M1108 335h6M1108 315h6M1108 301h6M1108 291h6M1108 282h6M1108 274h6M1108 268h6M1108 262h6M1108 446h6M1108 427h6M1108 413h6M1108 402h6M1108 393h6M1108 386h6M1108 379h6M1108 374h6M1108 558h6M1108 538h6M1108 524h6M1108 514h6M1108 505h6M1108 497h6M1108 491h6M1108 485h6M1108 669h6M1108 650h6M1108 636h6M1108 625h6M1108 616h6M1108 609h6M1108 602h6M1108 597h6" stroke-width="1.67"/>
</g>
<g opacity="0.999">
<text transform="scale(0.9700,1)" x="532.11 557.29 583.41 609.45 630.85 653.17 674.97" y="239.6" font-size="35.23">NGC6287</text>
<text x="123.97 141.8 159.47" y="744.6" font-size="29.67">180</text>
<text x="197.97 215.69 233.47" y="744.6" font-size="29.67">150</text>
<text x="271.97 289.44 307.47" y="744.6" font-size="29.67">120</text>
<text x="356.34 374.1" y="744.6" font-size="29.67">90</text>
<text x="431.24 448.91" y="744.6" font-size="29.67">60</text>
<text x="504.1 521.74" y="744.6" font-size="29.67">30</text>
<text x="588.35" y="744.6" font-size="29.67">0</text>
<text><tspan x="643.49" y="748.41" font-size="35.25">−</tspan><tspan x="665.55 683.18" y="744.6" font-size="29.67">30</tspan></text>
<text><tspan x="717.49" y="748.41" font-size="35.25">−</tspan><tspan x="739.51 757.18" y="744.6" font-size="29.67">60</tspan></text>
<text><tspan x="791.49" y="748.41" font-size="35.25">−</tspan><tspan x="813.42 831.18" y="744.6" font-size="29.67">90</tspan></text>
<text><tspan x="857.49" y="748.41" font-size="35.25">−</tspan><tspan x="879.36 896.82 914.86" y="744.6" font-size="29.67">120</tspan></text>
<text><tspan x="931.49" y="748.41" font-size="35.25">−</tspan><tspan x="953.36 971.08 988.86" y="744.6" font-size="29.67">150</tspan></text>
<text><tspan x="1006.49" y="748.41" font-size="35.25">−</tspan><tspan x="1028.36 1046.18 1063.86" y="744.6" font-size="29.67">180</tspan></text>
<text x="95.34 113.1" y="267.6" font-size="29.67">90</text>
<text x="95.24 112.91" y="341.6" font-size="29.67">60</text>
<text x="94.1 111.74" y="416.6" font-size="29.67">30</text>
<text x="113.35" y="490.6" font-size="29.67">0</text>
<text><tspan x="72.49" y="568.41" font-size="35.25">−</tspan><tspan x="94.55 112.18" y="564.6" font-size="29.67">30</tspan></text>
<text><tspan x="72.49" y="643.41" font-size="35.25">−</tspan><tspan x="94.51 112.18" y="639.6" font-size="29.67">60</tspan></text>
<text><tspan x="72.49" y="717.41" font-size="35.25">−</tspan><tspan x="94.42 112.18" y="713.6" font-size="29.67">90</tspan></text>
<text x="462.5 481.31 502.13 523 544.31 554.39 566.6 587.62 608.72 628.7 639.04 652.89 673.98 694.55 716.66" y="787.6" font-size="35.23">Longitude (deg)</text>
<g transform="translate(51.3,596.0) rotate(-90)"><text x="-3.8 13.75 36.58 48.83 58.91 71.12 92.14 113.23 133.22 143.56 157.4 178.5 199.07 221.17" y="0" font-size="35.23">Latitude (deg)</text></g>
<text><tspan x="1127.97 1145.8" y="267.6" font-size="29.67">10</tspan><tspan x="1163.02" y="257" font-size="20.77">0</tspan></text>
<text><tspan x="1127.97 1145.8" y="378.6" font-size="29.67">10</tspan><tspan x="1163.97" y="370.67" font-size="24.68">−</tspan><tspan x="1179.13" y="368" font-size="20.77">1</tspan></text>
<text><tspan x="1127.97 1145.8" y="490.6" font-size="29.67">10</tspan><tspan x="1163.97" y="482.67" font-size="24.68">−</tspan><tspan x="1178.98" y="480" font-size="20.77">2</tspan></text>
<text><tspan x="1127.97 1145.8" y="601.6" font-size="29.67">10</tspan><tspan x="1163.97" y="593.67" font-size="24.68">−</tspan><tspan x="1179.27" y="591" font-size="20.77">3</tspan></text>
<text><tspan x="1127.97 1145.8" y="713.6" font-size="29.67">10</tspan><tspan x="1163.97" y="705.67" font-size="24.68">−</tspan><tspan x="1179.24" y="703" font-size="20.77">4</tspan></text>
</g>
<path transform="matrix(0 0.011799 0.011628 0 1231.033 472.290)" d="M221 -90Q221 -84 223 -80Q292 88 348.5 259.0Q405 430 451 606Q536 953 565 1278Q456 1278 350 1239Q295 1217 266.5 1182.5Q238 1148 219 1087Q199 1053 151.0 1023.0Q103 993 66 993H53Q39 1002 39 1014Q75 1138 186.0 1225.0Q297 1312 444.0 1355.5Q591 1399 723 1399H985Q1072 1399 1159.5 1382.5Q1247 1366 1325.0 1328.0Q1403 1290 1452.0 1226.5Q1501 1163 1501 1071Q1501 978 1456.0 890.5Q1411 803 1342.0 731.5Q1273 660 1186 600Q1057 515 915.0 467.5Q773 420 629 420H618Q614 422 609.0 426.0Q604 430 604 436Q604 470 663.5 503.5Q723 537 760 541Q861 541 959.5 568.5Q1058 596 1135 653Q1188 695 1228.5 746.5Q1269 798 1294.0 859.5Q1319 921 1319 985Q1319 1092 1240.5 1158.5Q1162 1225 1049.0 1251.5Q936 1278 831 1278H739Q720 1104 689.5 943.5Q659 783 617.5 627.0Q576 471 520.0 305.0Q464 139 401 -12Q379 -48 335.0 -74.5Q291 -101 246 -106H236Q228 -102 225.5 -100.5Q223 -99 222.0 -97.5Q221 -96 221 -90Z" fill="#000" stroke="#000" stroke-width="0.55" vector-effect="non-scaling-stroke"/>
</svg>
</body></html>
